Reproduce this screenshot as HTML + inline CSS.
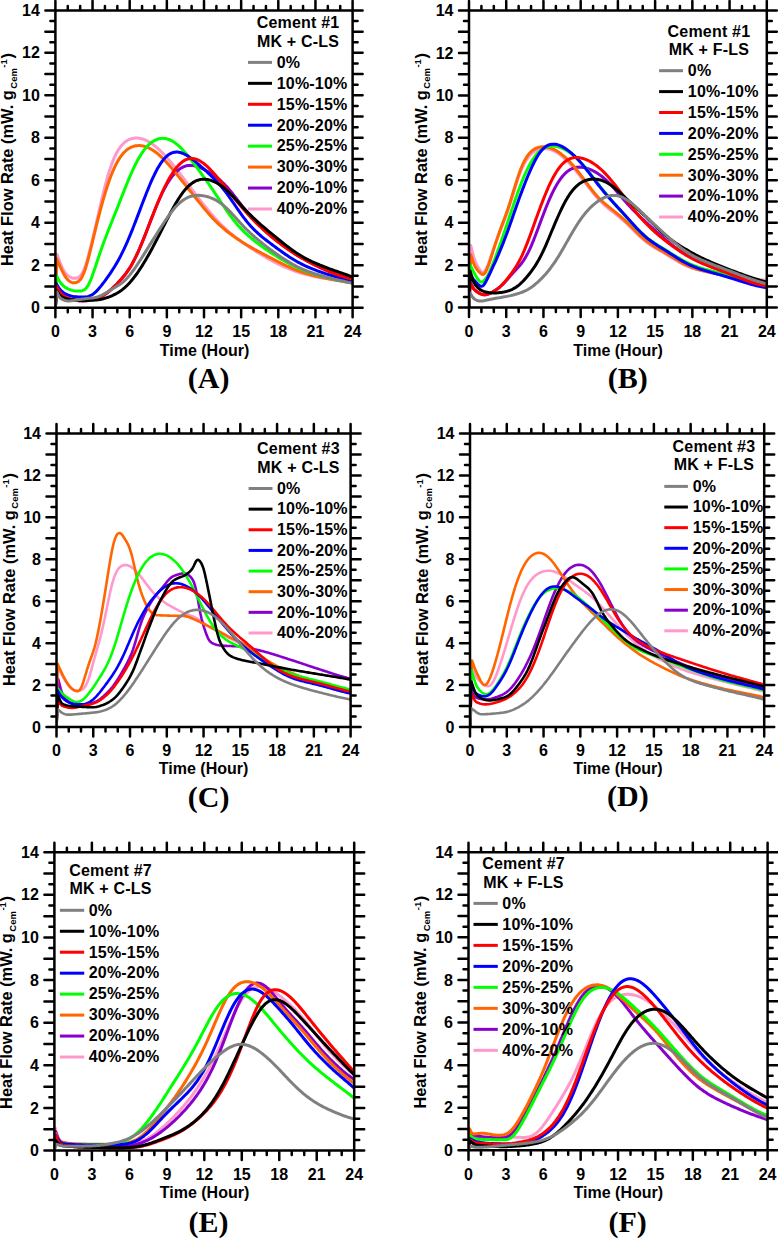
<!DOCTYPE html>
<html><head><meta charset="utf-8"><style>
html,body{margin:0;padding:0;background:#fff;}
svg{display:block;}
text{font-family:"Liberation Sans",sans-serif;font-weight:bold;fill:#000;}
.tl{font-size:16px;}
.at{font-size:16px;}
.yt{font-size:16.4px;}
.lg{font-size:16px;letter-spacing:0.2px;}
.pl{font-family:"Liberation Serif",serif;font-size:30px;}
</style></head><body>
<svg width="778" height="1241" viewBox="0 0 778 1241">
<rect width="778" height="1241" fill="#fff"/>
<clipPath id="cA"><rect x="55.4" y="10.4" width="297.2" height="297.3"/></clipPath>
<g clip-path="url(#cA)" fill="none" stroke-width="3" stroke-linejoin="round" stroke-linecap="round">
<path stroke="#ff99cc" d="M55.4,307.7 L57.13,254.61 L58.37,257.96 L59.61,261.44 L60.85,264.72 L62.09,267.48 L63.33,269.82 L64.56,271.86 L65.8,273.54 L67.04,274.84 L68.28,275.88 L69.52,276.73 L70.76,277.42 L71.99,277.92 L73.23,278.23 L74.47,278.34 L75.71,278.26 L76.95,278 L78.19,277.5 L79.42,276.68 L80.66,275.44 L81.9,273.69 L83.14,271.36 L84.38,268.47 L85.62,265.03 L86.85,261.12 L88.09,256.81 L89.33,252.19 L90.57,247.32 L91.81,242.27 L93.05,237.08 L94.28,231.79 L95.52,226.42 L96.76,221 L98,215.57 L99.24,210.15 L100.48,204.79 L101.71,199.51 L102.95,194.37 L104.19,189.39 L105.43,184.61 L106.67,180.05 L107.91,175.74 L109.14,171.68 L110.38,167.89 L111.62,164.38 L112.86,161.14 L114.1,158.18 L115.34,155.47 L116.57,153.02 L117.81,150.81 L119.05,148.84 L120.29,147.08 L121.53,145.52 L122.77,144.16 L124,142.96 L125.24,141.93 L126.48,141.04 L127.72,140.28 L128.96,139.65 L130.2,139.14 L131.43,138.72 L132.67,138.41 L133.91,138.2 L135.15,138.07 L136.39,138.03 L137.63,138.07 L138.86,138.19 L140.1,138.39 L141.34,138.66 L142.58,139.01 L143.82,139.43 L145.06,139.92 L146.29,140.48 L147.53,141.1 L148.77,141.78 L150.01,142.52 L151.25,143.32 L152.49,144.17 L153.72,145.08 L154.96,146.05 L156.2,147.06 L157.44,148.12 L158.68,149.23 L159.92,150.39 L161.15,151.59 L162.39,152.82 L163.63,154.1 L164.87,155.42 L166.11,156.77 L167.35,158.15 L168.58,159.57 L169.82,161.02 L171.06,162.5 L172.3,164 L173.54,165.53 L174.78,167.08 L176.01,168.65 L177.25,170.24 L178.49,171.84 L179.73,173.46 L180.97,175.08 L182.21,176.71 L183.44,178.34 L184.68,179.98 L185.92,181.62 L187.16,183.25 L188.4,184.89 L189.64,186.52 L190.87,188.15 L192.11,189.78 L193.35,191.4 L194.59,193.02 L195.83,194.63 L197.07,196.24 L198.3,197.84 L199.54,199.44 L200.78,201.02 L202.02,202.6 L203.26,204.16 L204.5,205.71 L205.73,207.25 L206.97,208.77 L208.21,210.27 L209.45,211.76 L210.69,213.22 L211.93,214.66 L213.16,216.07 L214.4,217.46 L215.64,218.82 L216.88,220.16 L218.12,221.47 L219.36,222.75 L220.59,224.01 L221.83,225.24 L223.07,226.44 L224.31,227.62 L225.55,228.77 L226.79,229.9 L228.02,231 L229.26,232.08 L230.5,233.14 L231.74,234.18 L232.98,235.2 L234.22,236.19 L235.45,237.17 L236.69,238.13 L237.93,239.07 L239.17,240 L240.41,240.9 L241.65,241.8 L242.88,242.67 L244.12,243.54 L245.36,244.39 L246.6,245.23 L247.84,246.06 L249.08,246.87 L250.31,247.68 L251.55,248.49 L252.79,249.28 L254.03,250.07 L255.27,250.86 L256.51,251.63 L257.74,252.41 L258.98,253.18 L260.22,253.94 L261.46,254.7 L262.7,255.45 L263.94,256.2 L265.17,256.93 L266.41,257.66 L267.65,258.38 L268.89,259.09 L270.13,259.79 L271.37,260.48 L272.6,261.15 L273.84,261.81 L275.08,262.46 L276.32,263.1 L277.56,263.72 L278.8,264.33 L280.03,264.93 L281.27,265.51 L282.51,266.08 L283.75,266.64 L284.99,267.18 L286.23,267.71 L287.46,268.23 L288.7,268.73 L289.94,269.22 L291.18,269.7 L292.42,270.17 L293.66,270.62 L294.89,271.07 L296.13,271.49 L297.37,271.91 L298.61,272.31 L299.85,272.7 L301.09,273.08 L302.32,273.45 L303.56,273.8 L304.8,274.14 L306.04,274.47 L307.28,274.79 L308.52,275.1 L309.75,275.4 L310.99,275.69 L312.23,275.97 L313.47,276.25 L314.71,276.51 L315.95,276.77 L317.18,277.02 L318.42,277.26 L319.66,277.5 L320.9,277.74 L322.14,277.96 L323.38,278.19 L324.61,278.41 L325.85,278.62 L327.09,278.84 L328.33,279.05 L329.57,279.26 L330.81,279.46 L332.04,279.67 L333.28,279.87 L334.52,280.07 L335.76,280.27 L337,280.47 L338.24,280.67 L339.47,280.87 L340.71,281.07 L341.95,281.27 L343.19,281.47 L344.43,281.68 L345.67,281.88 L346.9,282.09 L348.14,282.3 L349.38,282.51 L350.62,282.72 L351.86,282.94 L352.48,283.05"/>
<path stroke="#8800cc" d="M55.4,307.7 L56.64,286.46 L57.88,288.77 L59.11,291.04 L60.35,292.75 L61.59,294.04 L62.83,295.16 L64.07,296.14 L65.31,296.94 L66.55,297.56 L67.78,298.07 L69.02,298.49 L70.26,298.87 L71.5,299.22 L72.74,299.53 L73.97,299.82 L75.21,300.08 L76.45,300.31 L77.69,300.51 L78.93,300.66 L80.17,300.78 L81.41,300.85 L82.64,300.88 L83.88,300.86 L85.12,300.79 L86.36,300.68 L87.6,300.53 L88.84,300.35 L90.07,300.14 L91.31,299.9 L92.55,299.63 L93.79,299.32 L95.03,298.98 L96.26,298.6 L97.5,298.17 L98.74,297.68 L99.98,297.14 L101.22,296.54 L102.46,295.88 L103.69,295.14 L104.93,294.34 L106.17,293.48 L107.41,292.55 L108.65,291.56 L109.89,290.52 L111.12,289.42 L112.36,288.29 L113.6,287.12 L114.84,285.92 L116.08,284.69 L117.32,283.43 L118.55,282.14 L119.79,280.81 L121.03,279.45 L122.27,278.03 L123.51,276.55 L124.75,275.01 L125.98,273.38 L127.22,271.67 L128.46,269.86 L129.7,267.94 L130.94,265.91 L132.18,263.76 L133.41,261.5 L134.65,259.11 L135.89,256.61 L137.13,253.99 L138.37,251.26 L139.61,248.44 L140.84,245.51 L142.08,242.52 L143.32,239.45 L144.56,236.35 L145.8,233.19 L147.04,230 L148.27,226.79 L149.51,223.56 L150.75,220.34 L151.99,217.13 L153.23,213.95 L154.47,210.82 L155.7,207.75 L156.94,204.75 L158.18,201.83 L159.42,199 L160.66,196.27 L161.9,193.64 L163.13,191.13 L164.37,188.73 L165.61,186.46 L166.85,184.3 L168.09,182.27 L169.33,180.35 L170.56,178.56 L171.8,176.89 L173.04,175.34 L174.28,173.91 L175.52,172.59 L176.76,171.39 L177.99,170.3 L179.23,169.33 L180.47,168.46 L181.71,167.71 L182.95,167.07 L184.19,166.53 L185.43,166.1 L186.66,165.77 L187.9,165.54 L189.14,165.41 L190.38,165.37 L191.62,165.41 L192.85,165.54 L194.09,165.74 L195.33,166.02 L196.57,166.35 L197.81,166.75 L199.05,167.2 L200.28,167.7 L201.52,168.23 L202.76,168.81 L204,169.42 L205.24,170.07 L206.48,170.74 L207.71,171.44 L208.95,172.16 L210.19,172.92 L211.43,173.7 L212.67,174.52 L213.91,175.37 L215.14,176.25 L216.38,177.17 L217.62,178.14 L218.86,179.15 L220.1,180.2 L221.34,181.31 L222.57,182.47 L223.81,183.68 L225.05,184.94 L226.29,186.25 L227.53,187.61 L228.77,189.03 L230,190.48 L231.24,191.98 L232.48,193.51 L233.72,195.07 L234.96,196.66 L236.2,198.26 L237.43,199.88 L238.67,201.49 L239.91,203.11 L241.15,204.71 L242.39,206.31 L243.63,207.88 L244.86,209.44 L246.1,210.97 L247.34,212.47 L248.58,213.94 L249.82,215.38 L251.06,216.79 L252.29,218.17 L253.53,219.52 L254.77,220.83 L256.01,222.12 L257.25,223.38 L258.49,224.62 L259.72,225.83 L260.96,227.01 L262.2,228.18 L263.44,229.32 L264.68,230.45 L265.92,231.56 L267.15,232.65 L268.39,233.73 L269.63,234.79 L270.87,235.83 L272.11,236.87 L273.35,237.89 L274.58,238.9 L275.82,239.9 L277.06,240.88 L278.3,241.85 L279.54,242.81 L280.78,243.76 L282.01,244.7 L283.25,245.62 L284.49,246.54 L285.73,247.44 L286.97,248.32 L288.21,249.19 L289.44,250.05 L290.68,250.9 L291.92,251.73 L293.16,252.55 L294.4,253.35 L295.64,254.14 L296.88,254.91 L298.11,255.68 L299.35,256.42 L300.59,257.16 L301.83,257.88 L303.07,258.59 L304.31,259.29 L305.54,259.97 L306.78,260.65 L308.02,261.31 L309.26,261.97 L310.5,262.62 L311.73,263.26 L312.97,263.89 L314.21,264.52 L315.45,265.14 L316.69,265.74 L317.93,266.35 L319.16,266.94 L320.4,267.53 L321.64,268.11 L322.88,268.68 L324.12,269.25 L325.36,269.81 L326.59,270.36 L327.83,270.91 L329.07,271.44 L330.31,271.97 L331.55,272.48 L332.79,272.98 L334.02,273.47 L335.26,273.95 L336.5,274.42 L337.74,274.87 L338.98,275.3 L340.22,275.73 L341.45,276.14 L342.69,276.53 L343.93,276.91 L345.17,277.27 L346.41,277.61 L347.65,277.94 L348.88,278.25 L350.12,278.55 L351.36,278.82 L352.6,279.03"/>
<path stroke="#ff6600" d="M55.4,307.7 L56.64,258.86 L57.88,261.6 L59.11,264.4 L60.35,267.15 L61.59,269.72 L62.83,272.15 L64.07,274.52 L65.31,276.64 L66.55,278.37 L67.78,279.76 L69.02,280.87 L70.26,281.73 L71.5,282.34 L72.74,282.71 L73.97,282.86 L75.21,282.79 L76.45,282.5 L77.69,281.95 L78.93,281.07 L80.17,279.8 L81.41,278.04 L82.64,275.75 L83.88,272.88 L85.12,269.47 L86.36,265.55 L87.6,261.19 L88.84,256.5 L90.07,251.57 L91.31,246.5 L92.55,241.37 L93.79,236.23 L95.03,231.14 L96.26,226.11 L97.5,221.16 L98.74,216.31 L99.98,211.57 L101.22,206.95 L102.46,202.45 L103.69,198.1 L104.93,193.9 L106.17,189.87 L107.41,186 L108.65,182.33 L109.89,178.85 L111.12,175.55 L112.36,172.45 L113.6,169.55 L114.84,166.84 L116.08,164.31 L117.32,161.98 L118.55,159.84 L119.79,157.87 L121.03,156.09 L122.27,154.48 L123.51,153.03 L124.75,151.74 L125.98,150.6 L127.22,149.6 L128.46,148.73 L129.7,147.98 L130.94,147.35 L132.18,146.83 L133.41,146.4 L134.65,146.07 L135.89,145.83 L137.13,145.67 L138.37,145.6 L139.61,145.61 L140.84,145.69 L142.08,145.85 L143.32,146.08 L144.56,146.39 L145.8,146.77 L147.04,147.22 L148.27,147.74 L149.51,148.32 L150.75,148.97 L151.99,149.69 L153.23,150.46 L154.47,151.3 L155.7,152.21 L156.94,153.17 L158.18,154.18 L159.42,155.26 L160.66,156.38 L161.9,157.55 L163.13,158.77 L164.37,160.04 L165.61,161.34 L166.85,162.68 L168.09,164.06 L169.33,165.46 L170.56,166.9 L171.8,168.35 L173.04,169.83 L174.28,171.33 L175.52,172.83 L176.76,174.36 L177.99,175.89 L179.23,177.42 L180.47,178.96 L181.71,180.51 L182.95,182.05 L184.19,183.6 L185.43,185.14 L186.66,186.68 L187.9,188.23 L189.14,189.77 L190.38,191.31 L191.62,192.85 L192.85,194.4 L194.09,195.94 L195.33,197.48 L196.57,199.03 L197.81,200.57 L199.05,202.11 L200.28,203.64 L201.52,205.17 L202.76,206.69 L204,208.19 L205.24,209.68 L206.48,211.15 L207.71,212.6 L208.95,214.02 L210.19,215.42 L211.43,216.78 L212.67,218.12 L213.91,219.42 L215.14,220.69 L216.38,221.93 L217.62,223.13 L218.86,224.3 L220.1,225.45 L221.34,226.56 L222.57,227.64 L223.81,228.7 L225.05,229.73 L226.29,230.74 L227.53,231.73 L228.77,232.69 L230,233.64 L231.24,234.57 L232.48,235.48 L233.72,236.38 L234.96,237.26 L236.2,238.12 L237.43,238.97 L238.67,239.8 L239.91,240.62 L241.15,241.42 L242.39,242.21 L243.63,242.98 L244.86,243.75 L246.1,244.49 L247.34,245.23 L248.58,245.96 L249.82,246.67 L251.06,247.38 L252.29,248.08 L253.53,248.77 L254.77,249.45 L256.01,250.13 L257.25,250.81 L258.49,251.48 L259.72,252.14 L260.96,252.8 L262.2,253.47 L263.44,254.12 L264.68,254.78 L265.92,255.43 L267.15,256.09 L268.39,256.74 L269.63,257.38 L270.87,258.03 L272.11,258.67 L273.35,259.31 L274.58,259.95 L275.82,260.59 L277.06,261.22 L278.3,261.84 L279.54,262.46 L280.78,263.08 L282.01,263.69 L283.25,264.3 L284.49,264.89 L285.73,265.48 L286.97,266.06 L288.21,266.63 L289.44,267.19 L290.68,267.74 L291.92,268.28 L293.16,268.81 L294.4,269.32 L295.64,269.82 L296.88,270.3 L298.11,270.77 L299.35,271.22 L300.59,271.66 L301.83,272.09 L303.07,272.5 L304.31,272.9 L305.54,273.28 L306.78,273.65 L308.02,274.01 L309.26,274.36 L310.5,274.69 L311.73,275.02 L312.97,275.33 L314.21,275.64 L315.45,275.93 L316.69,276.22 L317.93,276.51 L319.16,276.78 L320.4,277.05 L321.64,277.31 L322.88,277.57 L324.12,277.82 L325.36,278.07 L326.59,278.32 L327.83,278.56 L329.07,278.8 L330.31,279.04 L331.55,279.27 L332.79,279.51 L334.02,279.74 L335.26,279.96 L336.5,280.19 L337.74,280.41 L338.98,280.64 L340.22,280.86 L341.45,281.08 L342.69,281.3 L343.93,281.52 L345.17,281.74 L346.41,281.96 L347.65,282.18 L348.88,282.41 L350.12,282.63 L351.36,282.85 L352.6,283.07"/>
<path stroke="#00ff00" d="M55.4,307.7 L56.27,275.21 L57.51,277.63 L58.74,280.07 L59.98,282.08 L61.22,283.61 L62.46,284.95 L63.7,286.13 L64.94,287.13 L66.17,287.93 L67.41,288.58 L68.65,289.12 L69.89,289.59 L71.13,290.01 L72.37,290.37 L73.6,290.67 L74.84,290.9 L76.08,291.05 L77.32,291.12 L78.56,291.11 L79.8,291.06 L81.03,290.92 L82.27,290.66 L83.51,290.21 L84.75,289.47 L85.99,288.36 L87.23,286.79 L88.46,284.76 L89.7,282.27 L90.94,279.35 L92.18,276.11 L93.42,272.61 L94.66,268.97 L95.89,265.24 L97.13,261.49 L98.37,257.77 L99.61,254.12 L100.85,250.52 L102.09,247.02 L103.32,243.59 L104.56,240.25 L105.8,236.96 L107.04,233.74 L108.28,230.56 L109.52,227.42 L110.75,224.31 L111.99,221.21 L113.23,218.12 L114.47,215.03 L115.71,211.93 L116.95,208.82 L118.18,205.69 L119.42,202.55 L120.66,199.41 L121.9,196.25 L123.14,193.11 L124.38,189.97 L125.61,186.87 L126.85,183.8 L128.09,180.78 L129.33,177.82 L130.57,174.93 L131.81,172.12 L133.04,169.41 L134.28,166.79 L135.52,164.28 L136.76,161.87 L138,159.59 L139.24,157.41 L140.47,155.36 L141.71,153.44 L142.95,151.63 L144.19,149.93 L145.43,148.35 L146.67,146.89 L147.9,145.56 L149.14,144.35 L150.38,143.26 L151.62,142.28 L152.86,141.42 L154.1,140.68 L155.33,140.04 L156.57,139.5 L157.81,139.07 L159.05,138.74 L160.29,138.51 L161.53,138.37 L162.76,138.33 L164,138.38 L165.24,138.53 L166.48,138.76 L167.72,139.09 L168.96,139.5 L170.19,140.01 L171.43,140.6 L172.67,141.29 L173.91,142.06 L175.15,142.92 L176.39,143.86 L177.62,144.88 L178.86,145.98 L180.1,147.15 L181.34,148.39 L182.58,149.69 L183.82,151.05 L185.05,152.47 L186.29,153.93 L187.53,155.43 L188.77,156.97 L190.01,158.53 L191.25,160.12 L192.48,161.73 L193.72,163.36 L194.96,165 L196.2,166.65 L197.44,168.32 L198.68,169.99 L199.91,171.67 L201.15,173.35 L202.39,175.05 L203.63,176.77 L204.87,178.49 L206.11,180.23 L207.34,181.98 L208.58,183.75 L209.82,185.54 L211.06,187.34 L212.3,189.16 L213.54,191 L214.77,192.85 L216.01,194.71 L217.25,196.58 L218.49,198.45 L219.73,200.32 L220.97,202.19 L222.2,204.05 L223.44,205.9 L224.68,207.73 L225.92,209.54 L227.16,211.32 L228.4,213.07 L229.63,214.79 L230.87,216.47 L232.11,218.11 L233.35,219.71 L234.59,221.26 L235.83,222.77 L237.06,224.24 L238.3,225.66 L239.54,227.03 L240.78,228.36 L242.02,229.65 L243.26,230.9 L244.49,232.12 L245.73,233.29 L246.97,234.44 L248.21,235.55 L249.45,236.64 L250.69,237.7 L251.92,238.74 L253.16,239.75 L254.4,240.75 L255.64,241.73 L256.88,242.69 L258.12,243.63 L259.35,244.56 L260.59,245.48 L261.83,246.38 L263.07,247.28 L264.31,248.15 L265.55,249.02 L266.78,249.88 L268.02,250.72 L269.26,251.56 L270.5,252.38 L271.74,253.19 L272.98,254 L274.21,254.79 L275.45,255.57 L276.69,256.35 L277.93,257.11 L279.17,257.86 L280.41,258.61 L281.64,259.34 L282.88,260.07 L284.12,260.79 L285.36,261.49 L286.6,262.18 L287.84,262.86 L289.07,263.53 L290.31,264.19 L291.55,264.83 L292.79,265.46 L294.03,266.07 L295.27,266.67 L296.5,267.25 L297.74,267.81 L298.98,268.36 L300.22,268.9 L301.46,269.42 L302.7,269.92 L303.93,270.41 L305.17,270.88 L306.41,271.34 L307.65,271.78 L308.89,272.22 L310.13,272.64 L311.36,273.05 L312.6,273.45 L313.84,273.83 L315.08,274.21 L316.32,274.58 L317.56,274.95 L318.79,275.3 L320.03,275.65 L321.27,275.99 L322.51,276.32 L323.75,276.65 L324.99,276.97 L326.22,277.29 L327.46,277.61 L328.7,277.92 L329.94,278.23 L331.18,278.53 L332.42,278.82 L333.65,279.11 L334.89,279.4 L336.13,279.68 L337.37,279.96 L338.61,280.23 L339.85,280.5 L341.08,280.77 L342.32,281.03 L343.56,281.29 L344.8,281.55 L346.04,281.8 L347.28,282.05 L348.51,282.3 L349.75,282.54 L350.99,282.78 L352.23,283 L352.54,283.06"/>
<path stroke="#0000ff" d="M55.4,307.7 L56.14,283.49 L57.38,285.49 L58.62,287.52 L59.86,289.22 L61.1,290.51 L62.33,291.63 L63.57,292.62 L64.81,293.46 L66.05,294.14 L67.29,294.69 L68.53,295.15 L69.76,295.55 L71,295.89 L72.24,296.19 L73.48,296.42 L74.72,296.61 L75.96,296.74 L77.19,296.84 L78.43,296.91 L79.67,296.96 L80.91,296.99 L82.15,297.02 L83.39,297.01 L84.62,296.96 L85.86,296.86 L87.1,296.67 L88.34,296.39 L89.58,295.99 L90.82,295.45 L92.05,294.77 L93.29,293.94 L94.53,292.96 L95.77,291.85 L97.01,290.61 L98.25,289.27 L99.48,287.84 L100.72,286.35 L101.96,284.79 L103.2,283.18 L104.44,281.54 L105.68,279.86 L106.91,278.15 L108.15,276.4 L109.39,274.62 L110.63,272.79 L111.87,270.92 L113.11,269 L114.34,267.02 L115.58,264.98 L116.82,262.87 L118.06,260.68 L119.3,258.42 L120.54,256.08 L121.77,253.65 L123.01,251.14 L124.25,248.54 L125.49,245.86 L126.73,243.1 L127.97,240.26 L129.2,237.35 L130.44,234.36 L131.68,231.32 L132.92,228.22 L134.16,225.07 L135.4,221.87 L136.63,218.64 L137.87,215.39 L139.11,212.12 L140.35,208.85 L141.59,205.59 L142.83,202.34 L144.06,199.12 L145.3,195.94 L146.54,192.8 L147.78,189.72 L149.02,186.7 L150.26,183.76 L151.49,180.91 L152.73,178.16 L153.97,175.52 L155.21,172.99 L156.45,170.58 L157.69,168.31 L158.92,166.18 L160.16,164.19 L161.4,162.35 L162.64,160.67 L163.88,159.13 L165.12,157.76 L166.35,156.53 L167.59,155.47 L168.83,154.55 L170.07,153.79 L171.31,153.17 L172.55,152.69 L173.78,152.35 L175.02,152.14 L176.26,152.05 L177.5,152.08 L178.74,152.22 L179.98,152.47 L181.21,152.81 L182.45,153.24 L183.69,153.76 L184.93,154.36 L186.17,155.02 L187.41,155.76 L188.64,156.55 L189.88,157.39 L191.12,158.29 L192.36,159.22 L193.6,160.19 L194.84,161.19 L196.07,162.22 L197.31,163.27 L198.55,164.33 L199.79,165.42 L201.03,166.51 L202.27,167.62 L203.5,168.73 L204.74,169.86 L205.98,170.99 L207.22,172.13 L208.46,173.28 L209.7,174.45 L210.93,175.63 L212.17,176.83 L213.41,178.05 L214.65,179.29 L215.89,180.57 L217.13,181.88 L218.36,183.23 L219.6,184.62 L220.84,186.04 L222.08,187.52 L223.32,189.04 L224.56,190.6 L225.79,192.21 L227.03,193.85 L228.27,195.54 L229.51,197.27 L230.75,199.02 L231.99,200.8 L233.22,202.6 L234.46,204.41 L235.7,206.23 L236.94,208.04 L238.18,209.84 L239.42,211.62 L240.65,213.38 L241.89,215.1 L243.13,216.79 L244.37,218.44 L245.61,220.04 L246.85,221.59 L248.08,223.09 L249.32,224.54 L250.56,225.93 L251.8,227.28 L253.04,228.58 L254.28,229.83 L255.51,231.04 L256.75,232.21 L257.99,233.34 L259.23,234.43 L260.47,235.5 L261.71,236.54 L262.94,237.56 L264.18,238.56 L265.42,239.54 L266.66,240.51 L267.9,241.47 L269.14,242.41 L270.37,243.35 L271.61,244.29 L272.85,245.21 L274.09,246.13 L275.33,247.05 L276.57,247.96 L277.8,248.86 L279.04,249.76 L280.28,250.66 L281.52,251.54 L282.76,252.42 L284,253.29 L285.23,254.15 L286.47,255 L287.71,255.83 L288.95,256.66 L290.19,257.46 L291.43,258.25 L292.66,259.03 L293.9,259.79 L295.14,260.53 L296.38,261.25 L297.62,261.95 L298.86,262.63 L300.09,263.29 L301.33,263.94 L302.57,264.56 L303.81,265.17 L305.05,265.76 L306.29,266.33 L307.52,266.88 L308.76,267.42 L310,267.95 L311.24,268.46 L312.48,268.96 L313.72,269.45 L314.95,269.93 L316.19,270.4 L317.43,270.85 L318.67,271.3 L319.91,271.74 L321.15,272.17 L322.38,272.59 L323.62,273.01 L324.86,273.42 L326.1,273.83 L327.34,274.22 L328.58,274.62 L329.81,275 L331.05,275.38 L332.29,275.75 L333.53,276.12 L334.77,276.47 L336.01,276.82 L337.24,277.16 L338.48,277.5 L339.72,277.82 L340.96,278.14 L342.2,278.45 L343.44,278.75 L344.67,279.05 L345.91,279.34 L347.15,279.62 L348.39,279.89 L349.63,280.16 L350.87,280.42 L352.1,280.65 L352.41,280.7"/>
<path stroke="#ff0000" d="M55.4,307.7 L56.64,286.46 L57.88,288.77 L59.11,291.04 L60.35,292.75 L61.59,294.04 L62.83,295.16 L64.07,296.14 L65.31,296.94 L66.55,297.56 L67.78,298.07 L69.02,298.49 L70.26,298.87 L71.5,299.22 L72.74,299.53 L73.97,299.82 L75.21,300.08 L76.45,300.31 L77.69,300.51 L78.93,300.66 L80.17,300.78 L81.41,300.85 L82.64,300.88 L83.88,300.86 L85.12,300.79 L86.36,300.68 L87.6,300.53 L88.84,300.35 L90.07,300.14 L91.31,299.9 L92.55,299.63 L93.79,299.32 L95.03,298.98 L96.26,298.6 L97.5,298.17 L98.74,297.68 L99.98,297.14 L101.22,296.54 L102.46,295.88 L103.69,295.14 L104.93,294.34 L106.17,293.48 L107.41,292.55 L108.65,291.56 L109.89,290.52 L111.12,289.42 L112.36,288.29 L113.6,287.12 L114.84,285.92 L116.08,284.69 L117.32,283.43 L118.55,282.14 L119.79,280.81 L121.03,279.45 L122.27,278.03 L123.51,276.55 L124.75,275 L125.98,273.38 L127.22,271.66 L128.46,269.85 L129.7,267.93 L130.94,265.91 L132.18,263.76 L133.41,261.5 L134.65,259.11 L135.89,256.62 L137.13,254.01 L138.37,251.3 L139.61,248.49 L140.84,245.59 L142.08,242.62 L143.32,239.58 L144.56,236.51 L145.8,233.38 L147.04,230.21 L148.27,227.01 L149.51,223.79 L150.75,220.57 L151.99,217.36 L153.23,214.17 L154.47,211 L155.7,207.88 L156.94,204.81 L158.18,201.8 L159.42,198.85 L160.66,195.98 L161.9,193.18 L163.13,190.47 L164.37,187.86 L165.61,185.33 L166.85,182.9 L168.09,180.57 L169.33,178.34 L170.56,176.22 L171.8,174.21 L173.04,172.31 L174.28,170.52 L175.52,168.84 L176.76,167.29 L177.99,165.86 L179.23,164.55 L180.47,163.37 L181.71,162.32 L182.95,161.39 L184.19,160.59 L185.43,159.92 L186.66,159.38 L187.9,158.97 L189.14,158.68 L190.38,158.51 L191.62,158.46 L192.85,158.53 L194.09,158.7 L195.33,158.99 L196.57,159.38 L197.81,159.88 L199.05,160.47 L200.28,161.15 L201.52,161.93 L202.76,162.78 L204,163.72 L205.24,164.72 L206.48,165.8 L207.71,166.94 L208.95,168.14 L210.19,169.39 L211.43,170.69 L212.67,172.03 L213.91,173.4 L215.14,174.81 L216.38,176.25 L217.62,177.71 L218.86,179.19 L220.1,180.69 L221.34,182.2 L222.57,183.73 L223.81,185.26 L225.05,186.79 L226.29,188.33 L227.53,189.88 L228.77,191.42 L230,192.96 L231.24,194.5 L232.48,196.03 L233.72,197.56 L234.96,199.09 L236.2,200.6 L237.43,202.1 L238.67,203.6 L239.91,205.08 L241.15,206.54 L242.39,207.99 L243.63,209.43 L244.86,210.84 L246.1,212.24 L247.34,213.62 L248.58,214.98 L249.82,216.32 L251.06,217.64 L252.29,218.94 L253.53,220.22 L254.77,221.48 L256.01,222.72 L257.25,223.94 L258.49,225.14 L259.72,226.32 L260.96,227.49 L262.2,228.64 L263.44,229.77 L264.68,230.88 L265.92,231.98 L267.15,233.06 L268.39,234.13 L269.63,235.19 L270.87,236.23 L272.11,237.26 L273.35,238.27 L274.58,239.27 L275.82,240.26 L277.06,241.24 L278.3,242.2 L279.54,243.16 L280.78,244.1 L282.01,245.03 L283.25,245.94 L284.49,246.85 L285.73,247.74 L286.97,248.62 L288.21,249.48 L289.44,250.34 L290.68,251.18 L291.92,252 L293.16,252.81 L294.4,253.61 L295.64,254.39 L296.88,255.16 L298.11,255.92 L299.35,256.66 L300.59,257.39 L301.83,258.1 L303.07,258.81 L304.31,259.5 L305.54,260.18 L306.78,260.85 L308.02,261.51 L309.26,262.16 L310.5,262.8 L311.73,263.43 L312.97,264.06 L314.21,264.67 L315.45,265.29 L316.69,265.89 L317.93,266.48 L319.16,267.07 L320.4,267.65 L321.64,268.22 L322.88,268.79 L324.12,269.35 L325.36,269.9 L326.59,270.45 L327.83,270.99 L329.07,271.51 L330.31,272.03 L331.55,272.54 L332.79,273.04 L334.02,273.52 L335.26,273.99 L336.5,274.45 L337.74,274.9 L338.98,275.33 L340.22,275.75 L341.45,276.15 L342.69,276.54 L343.93,276.92 L345.17,277.28 L346.41,277.62 L347.65,277.95 L348.88,278.26 L350.12,278.55 L351.36,278.82 L352.6,279.03"/>
<path stroke="#000000" d="M55.4,307.7 L56.64,290.71 L57.88,292.67 L59.11,294.59 L60.35,295.89 L61.59,296.74 L62.83,297.43 L64.07,298 L65.31,298.46 L66.55,298.8 L67.78,299.07 L69.02,299.29 L70.26,299.48 L71.5,299.66 L72.74,299.82 L73.97,299.96 L75.21,300.08 L76.45,300.19 L77.69,300.28 L78.93,300.36 L80.17,300.41 L81.41,300.45 L82.64,300.47 L83.88,300.48 L85.12,300.47 L86.36,300.45 L87.6,300.43 L88.84,300.4 L90.07,300.36 L91.31,300.32 L92.55,300.27 L93.79,300.2 L95.03,300.12 L96.26,300.02 L97.5,299.88 L98.74,299.71 L99.98,299.51 L101.22,299.26 L102.46,298.98 L103.69,298.66 L104.93,298.31 L106.17,297.92 L107.41,297.5 L108.65,297.05 L109.89,296.58 L111.12,296.07 L112.36,295.54 L113.6,294.97 L114.84,294.36 L116.08,293.72 L117.32,293.02 L118.55,292.28 L119.79,291.48 L121.03,290.62 L122.27,289.69 L123.51,288.7 L124.75,287.64 L125.98,286.51 L127.22,285.32 L128.46,284.05 L129.7,282.71 L130.94,281.3 L132.18,279.82 L133.41,278.29 L134.65,276.68 L135.89,275.02 L137.13,273.29 L138.37,271.51 L139.61,269.67 L140.84,267.77 L142.08,265.83 L143.32,263.83 L144.56,261.79 L145.8,259.71 L147.04,257.58 L148.27,255.41 L149.51,253.21 L150.75,250.96 L151.99,248.69 L153.23,246.38 L154.47,244.04 L155.7,241.68 L156.94,239.3 L158.18,236.9 L159.42,234.48 L160.66,232.05 L161.9,229.61 L163.13,227.17 L164.37,224.73 L165.61,222.3 L166.85,219.88 L168.09,217.48 L169.33,215.1 L170.56,212.75 L171.8,210.44 L173.04,208.17 L174.28,205.95 L175.52,203.79 L176.76,201.7 L177.99,199.67 L179.23,197.73 L180.47,195.86 L181.71,194.09 L182.95,192.41 L184.19,190.82 L185.43,189.34 L186.66,187.96 L187.9,186.68 L189.14,185.51 L190.38,184.45 L191.62,183.49 L192.85,182.64 L194.09,181.88 L195.33,181.23 L196.57,180.67 L197.81,180.21 L199.05,179.84 L200.28,179.56 L201.52,179.37 L202.76,179.26 L204,179.23 L205.24,179.27 L206.48,179.39 L207.71,179.59 L208.95,179.85 L210.19,180.17 L211.43,180.57 L212.67,181.03 L213.91,181.54 L215.14,182.12 L216.38,182.76 L217.62,183.46 L218.86,184.21 L220.1,185.02 L221.34,185.89 L222.57,186.81 L223.81,187.78 L225.05,188.81 L226.29,189.88 L227.53,191.01 L228.77,192.17 L230,193.37 L231.24,194.62 L232.48,195.89 L233.72,197.19 L234.96,198.51 L236.2,199.86 L237.43,201.21 L238.67,202.57 L239.91,203.93 L241.15,205.29 L242.39,206.64 L243.63,207.98 L244.86,209.31 L246.1,210.62 L247.34,211.91 L248.58,213.18 L249.82,214.43 L251.06,215.66 L252.29,216.86 L253.53,218.05 L254.77,219.21 L256.01,220.35 L257.25,221.48 L258.49,222.59 L259.72,223.69 L260.96,224.77 L262.2,225.84 L263.44,226.9 L264.68,227.96 L265.92,229 L267.15,230.04 L268.39,231.08 L269.63,232.11 L270.87,233.14 L272.11,234.16 L273.35,235.18 L274.58,236.2 L275.82,237.22 L277.06,238.23 L278.3,239.24 L279.54,240.24 L280.78,241.24 L282.01,242.23 L283.25,243.22 L284.49,244.19 L285.73,245.16 L286.97,246.11 L288.21,247.06 L289.44,247.98 L290.68,248.9 L291.92,249.79 L293.16,250.67 L294.4,251.54 L295.64,252.38 L296.88,253.2 L298.11,254 L299.35,254.78 L300.59,255.54 L301.83,256.28 L303.07,257 L304.31,257.7 L305.54,258.38 L306.78,259.04 L308.02,259.68 L309.26,260.3 L310.5,260.91 L311.73,261.5 L312.97,262.08 L314.21,262.64 L315.45,263.19 L316.69,263.72 L317.93,264.25 L319.16,264.76 L320.4,265.27 L321.64,265.76 L322.88,266.25 L324.12,266.73 L325.36,267.2 L326.59,267.67 L327.83,268.14 L329.07,268.6 L330.31,269.05 L331.55,269.5 L332.79,269.95 L334.02,270.39 L335.26,270.83 L336.5,271.27 L337.74,271.7 L338.98,272.14 L340.22,272.57 L341.45,273 L342.69,273.43 L343.93,273.86 L345.17,274.29 L346.41,274.73 L347.65,275.16 L348.88,275.6 L350.12,276.04 L351.36,276.48 L352.6,276.91"/>
<path stroke="#808080" d="M55.4,307.7 L56.64,291.77 L57.88,294.18 L59.11,296.54 L60.35,298.02 L61.59,298.89 L62.83,299.59 L64.07,300.17 L65.31,300.58 L66.55,300.81 L67.78,300.9 L69.02,300.9 L70.26,300.83 L71.5,300.72 L72.74,300.57 L73.97,300.39 L75.21,300.21 L76.45,300.01 L77.69,299.81 L78.93,299.61 L80.17,299.42 L81.41,299.23 L82.64,299.06 L83.88,298.9 L85.12,298.75 L86.36,298.61 L87.6,298.48 L88.84,298.35 L90.07,298.22 L91.31,298.08 L92.55,297.92 L93.79,297.74 L95.03,297.51 L96.26,297.23 L97.5,296.89 L98.74,296.48 L99.98,295.99 L101.22,295.44 L102.46,294.83 L103.69,294.16 L104.93,293.45 L106.17,292.71 L107.41,291.96 L108.65,291.21 L109.89,290.46 L111.12,289.72 L112.36,289 L113.6,288.28 L114.84,287.56 L116.08,286.83 L117.32,286.08 L118.55,285.29 L119.79,284.46 L121.03,283.57 L122.27,282.61 L123.51,281.57 L124.75,280.45 L125.98,279.24 L127.22,277.95 L128.46,276.57 L129.7,275.1 L130.94,273.56 L132.18,271.94 L133.41,270.26 L134.65,268.52 L135.89,266.74 L137.13,264.91 L138.37,263.04 L139.61,261.14 L140.84,259.22 L142.08,257.28 L143.32,255.33 L144.56,253.35 L145.8,251.36 L147.04,249.37 L148.27,247.38 L149.51,245.38 L150.75,243.38 L151.99,241.39 L153.23,239.4 L154.47,237.42 L155.7,235.45 L156.94,233.48 L158.18,231.52 L159.42,229.58 L160.66,227.65 L161.9,225.74 L163.13,223.84 L164.37,221.97 L165.61,220.13 L166.85,218.33 L168.09,216.56 L169.33,214.84 L170.56,213.16 L171.8,211.55 L173.04,209.99 L174.28,208.51 L175.52,207.09 L176.76,205.75 L177.99,204.49 L179.23,203.32 L180.47,202.22 L181.71,201.22 L182.95,200.29 L184.19,199.46 L185.43,198.71 L186.66,198.04 L187.9,197.46 L189.14,196.95 L190.38,196.52 L191.62,196.17 L192.85,195.88 L194.09,195.66 L195.33,195.5 L196.57,195.4 L197.81,195.36 L199.05,195.37 L200.28,195.44 L201.52,195.55 L202.76,195.7 L204,195.9 L205.24,196.15 L206.48,196.44 L207.71,196.77 L208.95,197.15 L210.19,197.57 L211.43,198.04 L212.67,198.56 L213.91,199.13 L215.14,199.75 L216.38,200.42 L217.62,201.15 L218.86,201.94 L220.1,202.78 L221.34,203.69 L222.57,204.66 L223.81,205.68 L225.05,206.76 L226.29,207.9 L227.53,209.08 L228.77,210.32 L230,211.59 L231.24,212.9 L232.48,214.23 L233.72,215.59 L234.96,216.96 L236.2,218.34 L237.43,219.72 L238.67,221.09 L239.91,222.46 L241.15,223.8 L242.39,225.13 L243.63,226.44 L244.86,227.72 L246.1,228.98 L247.34,230.2 L248.58,231.4 L249.82,232.58 L251.06,233.73 L252.29,234.86 L253.53,235.96 L254.77,237.05 L256.01,238.11 L257.25,239.16 L258.49,240.19 L259.72,241.21 L260.96,242.22 L262.2,243.21 L263.44,244.2 L264.68,245.17 L265.92,246.13 L267.15,247.08 L268.39,248.02 L269.63,248.96 L270.87,249.88 L272.11,250.79 L273.35,251.7 L274.58,252.59 L275.82,253.47 L277.06,254.34 L278.3,255.2 L279.54,256.05 L280.78,256.89 L282.01,257.71 L283.25,258.53 L284.49,259.33 L285.73,260.11 L286.97,260.89 L288.21,261.64 L289.44,262.38 L290.68,263.11 L291.92,263.82 L293.16,264.51 L294.4,265.18 L295.64,265.83 L296.88,266.47 L298.11,267.09 L299.35,267.68 L300.59,268.26 L301.83,268.82 L303.07,269.37 L304.31,269.89 L305.54,270.4 L306.78,270.89 L308.02,271.37 L309.26,271.83 L310.5,272.28 L311.73,272.71 L312.97,273.13 L314.21,273.55 L315.45,273.95 L316.69,274.34 L317.93,274.72 L319.16,275.09 L320.4,275.46 L321.64,275.82 L322.88,276.17 L324.12,276.51 L325.36,276.85 L326.59,277.19 L327.83,277.52 L329.07,277.84 L330.31,278.16 L331.55,278.48 L332.79,278.79 L334.02,279.09 L335.26,279.39 L336.5,279.68 L337.74,279.97 L338.98,280.25 L340.22,280.53 L341.45,280.8 L342.69,281.07 L343.93,281.34 L345.17,281.6 L346.41,281.86 L347.65,282.11 L348.88,282.36 L350.12,282.61 L351.36,282.85 L352.6,283.07"/>
</g>
<path d="M55.4,10.4 H352.6 V307.7 H55.4 Z M55.4,307.7 v9.5 M55.4,10.4 v-9.5 M67.78,307.7 v4.5 M67.78,10.4 v-4.5 M80.17,307.7 v4.5 M80.17,10.4 v-4.5 M92.55,307.7 v9.5 M92.55,10.4 v-9.5 M104.93,307.7 v4.5 M104.93,10.4 v-4.5 M117.32,307.7 v4.5 M117.32,10.4 v-4.5 M129.7,307.7 v9.5 M129.7,10.4 v-9.5 M142.08,307.7 v4.5 M142.08,10.4 v-4.5 M154.47,307.7 v4.5 M154.47,10.4 v-4.5 M166.85,307.7 v9.5 M166.85,10.4 v-9.5 M179.23,307.7 v4.5 M179.23,10.4 v-4.5 M191.62,307.7 v4.5 M191.62,10.4 v-4.5 M204,307.7 v9.5 M204,10.4 v-9.5 M216.38,307.7 v4.5 M216.38,10.4 v-4.5 M228.77,307.7 v4.5 M228.77,10.4 v-4.5 M241.15,307.7 v9.5 M241.15,10.4 v-9.5 M253.53,307.7 v4.5 M253.53,10.4 v-4.5 M265.92,307.7 v4.5 M265.92,10.4 v-4.5 M278.3,307.7 v9.5 M278.3,10.4 v-9.5 M290.68,307.7 v4.5 M290.68,10.4 v-4.5 M303.07,307.7 v4.5 M303.07,10.4 v-4.5 M315.45,307.7 v9.5 M315.45,10.4 v-9.5 M327.83,307.7 v4.5 M327.83,10.4 v-4.5 M340.22,307.7 v4.5 M340.22,10.4 v-4.5 M352.6,307.7 v9.5 M352.6,10.4 v-9.5 M55.4,307.7 h-10 M352.6,307.7 h10 M55.4,297.08 h-5 M352.6,297.08 h5 M55.4,286.46 h-10 M352.6,286.46 h10 M55.4,275.85 h-5 M352.6,275.85 h5 M55.4,265.23 h-10 M352.6,265.23 h10 M55.4,254.61 h-5 M352.6,254.61 h5 M55.4,243.99 h-10 M352.6,243.99 h10 M55.4,233.38 h-5 M352.6,233.38 h5 M55.4,222.76 h-10 M352.6,222.76 h10 M55.4,212.14 h-5 M352.6,212.14 h5 M55.4,201.52 h-10 M352.6,201.52 h10 M55.4,190.9 h-5 M352.6,190.9 h5 M55.4,180.29 h-10 M352.6,180.29 h10 M55.4,169.67 h-5 M352.6,169.67 h5 M55.4,159.05 h-10 M352.6,159.05 h10 M55.4,148.43 h-5 M352.6,148.43 h5 M55.4,137.81 h-10 M352.6,137.81 h10 M55.4,127.2 h-5 M352.6,127.2 h5 M55.4,116.58 h-10 M352.6,116.58 h10 M55.4,105.96 h-5 M352.6,105.96 h5 M55.4,95.34 h-10 M352.6,95.34 h10 M55.4,84.72 h-5 M352.6,84.72 h5 M55.4,74.11 h-10 M352.6,74.11 h10 M55.4,63.49 h-5 M352.6,63.49 h5 M55.4,52.87 h-10 M352.6,52.87 h10 M55.4,42.25 h-5 M352.6,42.25 h5 M55.4,31.64 h-10 M352.6,31.64 h10 M55.4,21.02 h-5 M352.6,21.02 h5 M55.4,10.4 h-10 M352.6,10.4 h10" fill="none" stroke="#000" stroke-width="2.5" stroke-linecap="round"/>
<text x="55.4" y="337" text-anchor="middle" class="tl">0</text>
<text x="92.55" y="337" text-anchor="middle" class="tl">3</text>
<text x="129.7" y="337" text-anchor="middle" class="tl">6</text>
<text x="166.85" y="337" text-anchor="middle" class="tl">9</text>
<text x="204" y="337" text-anchor="middle" class="tl">12</text>
<text x="241.15" y="337" text-anchor="middle" class="tl">15</text>
<text x="278.3" y="337" text-anchor="middle" class="tl">18</text>
<text x="315.45" y="337" text-anchor="middle" class="tl">21</text>
<text x="352.6" y="337" text-anchor="middle" class="tl">24</text>
<text x="39.9" y="313.3" text-anchor="end" class="tl">0</text>
<text x="39.9" y="270.83" text-anchor="end" class="tl">2</text>
<text x="39.9" y="228.36" text-anchor="end" class="tl">4</text>
<text x="39.9" y="185.89" text-anchor="end" class="tl">6</text>
<text x="39.9" y="143.41" text-anchor="end" class="tl">8</text>
<text x="39.9" y="100.94" text-anchor="end" class="tl">10</text>
<text x="39.9" y="58.47" text-anchor="end" class="tl">12</text>
<text x="39.9" y="16" text-anchor="end" class="tl">14</text>
<text x="204.5" y="355.8" text-anchor="middle" class="at">Time (Hour)</text>
<text transform="translate(12.9,266) rotate(-90)" class="yt">Heat Flow Rate (mW. g<tspan font-size="9.5" dx="1.5" dy="3.8">Cem</tspan><tspan font-size="9.5" dx="0.5" dy="-9.3">-1</tspan><tspan dx="0.6" dy="5.5">)</tspan></text>
<text x="208.6" y="387.9" text-anchor="middle" class="pl">(A)</text>
<text x="298" y="27.7" text-anchor="middle" class="lg">Cement #1</text>
<text x="298" y="46.6" text-anchor="middle" class="lg">MK + C-LS</text>
<path d="M248,62.4 H272" stroke="#808080" stroke-width="3"/>
<text x="276.7" y="67.7" class="lg">0%</text>
<path d="M248,83.34 H272" stroke="#000000" stroke-width="3"/>
<text x="276.7" y="88.64" class="lg">10%-10%</text>
<path d="M248,104.28 H272" stroke="#ff0000" stroke-width="3"/>
<text x="276.7" y="109.58" class="lg">15%-15%</text>
<path d="M248,125.22 H272" stroke="#0000ff" stroke-width="3"/>
<text x="276.7" y="130.52" class="lg">20%-20%</text>
<path d="M248,146.16 H272" stroke="#00ff00" stroke-width="3"/>
<text x="276.7" y="151.46" class="lg">25%-25%</text>
<path d="M248,167.1 H272" stroke="#ff6600" stroke-width="3"/>
<text x="276.7" y="172.4" class="lg">30%-30%</text>
<path d="M248,188.04 H272" stroke="#8800cc" stroke-width="3"/>
<text x="276.7" y="193.34" class="lg">20%-10%</text>
<path d="M248,208.98 H272" stroke="#ff99cc" stroke-width="3"/>
<text x="276.7" y="214.28" class="lg">40%-20%</text>
<clipPath id="cB"><rect x="469" y="10.5" width="297.8" height="297.1"/></clipPath>
<g clip-path="url(#cB)" fill="none" stroke-width="3" stroke-linejoin="round" stroke-linecap="round">
<path stroke="#ff99cc" d="M469,307.6 L470.74,245.42 L471.98,250.32 L473.22,255.18 L474.46,259.12 L475.7,262.3 L476.94,265.06 L478.18,267.35 L479.42,269.28 L480.66,270.94 L481.9,272.08 L483.15,272.33 L484.39,271.55 L485.63,269.86 L486.87,267.46 L488.11,264.57 L489.35,261.3 L490.59,257.8 L491.83,254.18 L493.07,250.54 L494.31,246.94 L495.55,243.39 L496.79,239.94 L498.04,236.57 L499.28,233.3 L500.52,230.08 L501.76,226.92 L503,223.77 L504.24,220.57 L505.48,217.29 L506.72,213.89 L507.96,210.32 L509.2,206.61 L510.44,202.74 L511.68,198.77 L512.93,194.74 L514.17,190.69 L515.41,186.7 L516.65,182.82 L517.89,179.1 L519.13,175.59 L520.37,172.31 L521.61,169.28 L522.85,166.51 L524.09,163.99 L525.33,161.75 L526.57,159.73 L527.82,157.96 L529.06,156.39 L530.3,155.01 L531.54,153.81 L532.78,152.77 L534.02,151.87 L535.26,151.1 L536.5,150.45 L537.74,149.92 L538.98,149.48 L540.22,149.13 L541.46,148.88 L542.71,148.71 L543.95,148.63 L545.19,148.63 L546.43,148.72 L547.67,148.88 L548.91,149.13 L550.15,149.46 L551.39,149.86 L552.63,150.35 L553.87,150.9 L555.11,151.54 L556.35,152.24 L557.6,153.01 L558.84,153.85 L560.08,154.75 L561.32,155.71 L562.56,156.73 L563.8,157.81 L565.04,158.95 L566.28,160.14 L567.52,161.38 L568.76,162.66 L570,163.99 L571.24,165.36 L572.49,166.77 L573.73,168.22 L574.97,169.7 L576.21,171.21 L577.45,172.75 L578.69,174.31 L579.93,175.9 L581.17,177.5 L582.41,179.12 L583.65,180.74 L584.89,182.38 L586.13,184.01 L587.38,185.64 L588.62,187.26 L589.86,188.86 L591.1,190.44 L592.34,191.99 L593.58,193.51 L594.82,195 L596.06,196.45 L597.3,197.85 L598.54,199.21 L599.78,200.52 L601.02,201.79 L602.27,203 L603.51,204.18 L604.75,205.31 L605.99,206.4 L607.23,207.45 L608.47,208.48 L609.71,209.48 L610.95,210.46 L612.19,211.43 L613.43,212.4 L614.67,213.36 L615.91,214.33 L617.16,215.31 L618.4,216.31 L619.64,217.32 L620.88,218.36 L622.12,219.42 L623.36,220.51 L624.6,221.63 L625.84,222.77 L627.08,223.94 L628.32,225.12 L629.56,226.33 L630.8,227.56 L632.05,228.79 L633.29,230.03 L634.53,231.26 L635.77,232.49 L637.01,233.71 L638.25,234.91 L639.49,236.08 L640.73,237.23 L641.97,238.34 L643.21,239.42 L644.45,240.46 L645.69,241.46 L646.94,242.42 L648.18,243.35 L649.42,244.24 L650.66,245.09 L651.9,245.91 L653.14,246.7 L654.38,247.47 L655.62,248.22 L656.86,248.95 L658.1,249.67 L659.34,250.39 L660.58,251.1 L661.83,251.82 L663.07,252.53 L664.31,253.26 L665.55,253.99 L666.79,254.73 L668.03,255.48 L669.27,256.24 L670.51,257 L671.75,257.76 L672.99,258.52 L674.23,259.28 L675.47,260.03 L676.72,260.77 L677.96,261.49 L679.2,262.2 L680.44,262.88 L681.68,263.54 L682.92,264.17 L684.16,264.78 L685.4,265.35 L686.64,265.9 L687.88,266.41 L689.12,266.9 L690.36,267.36 L691.61,267.8 L692.85,268.21 L694.09,268.6 L695.33,268.96 L696.57,269.31 L697.81,269.65 L699.05,269.97 L700.29,270.28 L701.53,270.58 L702.77,270.86 L704.01,271.14 L705.25,271.42 L706.5,271.68 L707.74,271.94 L708.98,272.2 L710.22,272.45 L711.46,272.7 L712.7,272.94 L713.94,273.18 L715.18,273.41 L716.42,273.64 L717.66,273.87 L718.9,274.1 L720.14,274.32 L721.39,274.54 L722.63,274.75 L723.87,274.97 L725.11,275.18 L726.35,275.39 L727.59,275.6 L728.83,275.8 L730.07,276.01 L731.31,276.21 L732.55,276.41 L733.79,276.61 L735.03,276.81 L736.28,277.01 L737.52,277.2 L738.76,277.39 L740,277.59 L741.24,277.78 L742.48,277.96 L743.72,278.15 L744.96,278.33 L746.2,278.5 L747.44,278.67 L748.68,278.84 L749.92,278.99 L751.17,279.14 L752.41,279.28 L753.65,279.4 L754.89,279.52 L756.13,279.63 L757.37,279.72 L758.61,279.81 L759.85,279.88 L761.09,279.93 L762.33,279.97 L763.57,280 L764.81,280.01 L766.06,280.01 L766.68,280.01"/>
<path stroke="#8800cc" d="M469,307.6 L470.12,282.35 L471.36,284.69 L472.6,287.1 L473.84,289 L475.08,290.22 L476.32,291.22 L477.56,292.12 L478.8,292.92 L480.04,293.62 L481.28,294.17 L482.53,294.56 L483.77,294.77 L485.01,294.79 L486.25,294.63 L487.49,294.33 L488.73,293.9 L489.97,293.37 L491.21,292.77 L492.45,292.1 L493.69,291.38 L494.93,290.62 L496.17,289.79 L497.42,288.92 L498.66,287.98 L499.9,286.98 L501.14,285.91 L502.38,284.76 L503.62,283.52 L504.86,282.21 L506.1,280.83 L507.34,279.41 L508.58,277.95 L509.82,276.5 L511.06,275.06 L512.31,273.65 L513.55,272.28 L514.79,270.94 L516.03,269.61 L517.27,268.29 L518.51,266.93 L519.75,265.51 L520.99,264 L522.23,262.37 L523.47,260.6 L524.71,258.68 L525.95,256.58 L527.2,254.32 L528.44,251.89 L529.68,249.29 L530.92,246.54 L532.16,243.64 L533.4,240.62 L534.64,237.49 L535.88,234.28 L537.12,231.01 L538.36,227.69 L539.6,224.36 L540.84,221.02 L542.09,217.7 L543.33,214.41 L544.57,211.18 L545.81,208.03 L547.05,204.95 L548.29,201.96 L549.53,199.08 L550.77,196.3 L552.01,193.66 L553.25,191.12 L554.49,188.73 L555.73,186.45 L556.98,184.32 L558.22,182.28 L559.46,180.39 L560.7,178.63 L561.94,177.01 L563.18,175.53 L564.42,174.18 L565.66,172.96 L566.9,171.87 L568.14,170.91 L569.38,170.07 L570.62,169.34 L571.87,168.72 L573.11,168.22 L574.35,167.81 L575.59,167.5 L576.83,167.29 L578.07,167.16 L579.31,167.11 L580.55,167.13 L581.79,167.23 L583.03,167.4 L584.27,167.63 L585.51,167.92 L586.76,168.26 L588,168.66 L589.24,169.11 L590.48,169.61 L591.72,170.16 L592.96,170.76 L594.2,171.4 L595.44,172.09 L596.68,172.83 L597.92,173.62 L599.16,174.46 L600.4,175.35 L601.65,176.28 L602.89,177.28 L604.13,178.32 L605.37,179.41 L606.61,180.55 L607.85,181.75 L609.09,182.99 L610.33,184.27 L611.57,185.6 L612.81,186.96 L614.05,188.35 L615.29,189.77 L616.54,191.21 L617.78,192.66 L619.02,194.12 L620.26,195.59 L621.5,197.05 L622.74,198.5 L623.98,199.94 L625.22,201.36 L626.46,202.77 L627.7,204.15 L628.94,205.51 L630.18,206.84 L631.43,208.15 L632.67,209.43 L633.91,210.69 L635.15,211.93 L636.39,213.15 L637.63,214.36 L638.87,215.55 L640.11,216.72 L641.35,217.89 L642.59,219.05 L643.83,220.2 L645.07,221.34 L646.32,222.49 L647.56,223.62 L648.8,224.76 L650.04,225.89 L651.28,227.02 L652.52,228.15 L653.76,229.27 L655,230.4 L656.24,231.51 L657.48,232.63 L658.72,233.73 L659.96,234.83 L661.21,235.92 L662.45,237 L663.69,238.07 L664.93,239.13 L666.17,240.17 L667.41,241.21 L668.65,242.22 L669.89,243.23 L671.13,244.22 L672.37,245.19 L673.61,246.14 L674.85,247.08 L676.1,248 L677.34,248.91 L678.58,249.79 L679.82,250.66 L681.06,251.5 L682.3,252.33 L683.54,253.14 L684.78,253.92 L686.02,254.69 L687.26,255.44 L688.5,256.16 L689.74,256.87 L690.99,257.55 L692.23,258.22 L693.47,258.87 L694.71,259.5 L695.95,260.12 L697.19,260.72 L698.43,261.3 L699.67,261.87 L700.91,262.43 L702.15,262.97 L703.39,263.51 L704.63,264.03 L705.88,264.54 L707.12,265.05 L708.36,265.55 L709.6,266.04 L710.84,266.53 L712.08,267.01 L713.32,267.49 L714.56,267.97 L715.8,268.44 L717.04,268.91 L718.28,269.38 L719.52,269.86 L720.77,270.33 L722.01,270.8 L723.25,271.27 L724.49,271.75 L725.73,272.22 L726.97,272.7 L728.21,273.19 L729.45,273.67 L730.69,274.15 L731.93,274.64 L733.17,275.12 L734.41,275.61 L735.66,276.1 L736.9,276.58 L738.14,277.07 L739.38,277.56 L740.62,278.05 L741.86,278.53 L743.1,279.01 L744.34,279.49 L745.58,279.96 L746.82,280.43 L748.06,280.88 L749.3,281.32 L750.55,281.75 L751.79,282.17 L753.03,282.58 L754.27,282.97 L755.51,283.34 L756.75,283.69 L757.99,284.03 L759.23,284.34 L760.47,284.64 L761.71,284.91 L762.95,285.16 L764.19,285.39 L765.44,285.58 L766.68,285.73"/>
<path stroke="#ff6600" d="M469,307.6 L470.74,254.76 L471.98,258.52 L473.22,262.25 L474.46,265.18 L475.7,267.45 L476.94,269.37 L478.18,270.93 L479.42,272.21 L480.66,273.36 L481.9,274.25 L483.15,274.43 L484.39,273.62 L485.63,271.82 L486.87,269.26 L488.11,266.16 L489.35,262.67 L490.59,258.93 L491.83,255.06 L493.07,251.14 L494.31,247.23 L495.55,243.37 L496.79,239.61 L498.04,235.94 L499.28,232.4 L500.52,228.97 L501.76,225.64 L503,222.36 L504.24,219.09 L505.48,215.75 L506.72,212.32 L507.96,208.74 L509.2,205.01 L510.44,201.12 L511.68,197.12 L512.93,193.04 L514.17,188.92 L515.41,184.86 L516.65,180.9 L517.89,177.09 L519.13,173.48 L520.37,170.1 L521.61,166.99 L522.85,164.13 L524.09,161.54 L525.33,159.23 L526.57,157.16 L527.82,155.36 L529.06,153.77 L530.3,152.41 L531.54,151.23 L532.78,150.23 L534.02,149.38 L535.26,148.68 L536.5,148.11 L537.74,147.65 L538.98,147.3 L540.22,147.04 L541.46,146.87 L542.71,146.79 L543.95,146.78 L545.19,146.85 L546.43,147 L547.67,147.21 L548.91,147.5 L550.15,147.86 L551.39,148.29 L552.63,148.79 L553.87,149.35 L555.11,149.98 L556.35,150.67 L557.6,151.43 L558.84,152.25 L560.08,153.13 L561.32,154.06 L562.56,155.05 L563.8,156.09 L565.04,157.19 L566.28,158.34 L567.52,159.54 L568.76,160.79 L570,162.08 L571.24,163.43 L572.49,164.82 L573.73,166.25 L574.97,167.72 L576.21,169.23 L577.45,170.78 L578.69,172.36 L579.93,173.97 L581.17,175.61 L582.41,177.27 L583.65,178.94 L584.89,180.62 L586.13,182.3 L587.38,183.97 L588.62,185.63 L589.86,187.27 L591.1,188.89 L592.34,190.47 L593.58,192.01 L594.82,193.5 L596.06,194.95 L597.3,196.34 L598.54,197.68 L599.78,198.97 L601.02,200.2 L602.27,201.38 L603.51,202.51 L604.75,203.6 L605.99,204.66 L607.23,205.68 L608.47,206.68 L609.71,207.66 L610.95,208.64 L612.19,209.6 L613.43,210.58 L614.67,211.56 L615.91,212.55 L617.16,213.57 L618.4,214.6 L619.64,215.66 L620.88,216.75 L622.12,217.86 L623.36,219 L624.6,220.17 L625.84,221.36 L627.08,222.57 L628.32,223.8 L629.56,225.04 L630.8,226.29 L632.05,227.55 L633.29,228.81 L634.53,230.06 L635.77,231.3 L637.01,232.52 L638.25,233.72 L639.49,234.9 L640.73,236.05 L641.97,237.16 L643.21,238.24 L644.45,239.29 L645.69,240.3 L646.94,241.27 L648.18,242.2 L649.42,243.1 L650.66,243.97 L651.9,244.8 L653.14,245.61 L654.38,246.39 L655.62,247.16 L656.86,247.9 L658.1,248.64 L659.34,249.37 L660.58,250.09 L661.83,250.81 L663.07,251.53 L664.31,252.26 L665.55,252.99 L666.79,253.73 L668.03,254.47 L669.27,255.22 L670.51,255.98 L671.75,256.74 L672.99,257.5 L674.23,258.26 L675.47,259.02 L676.72,259.77 L677.96,260.51 L679.2,261.24 L680.44,261.95 L681.68,262.64 L682.92,263.31 L684.16,263.96 L685.4,264.58 L686.64,265.18 L687.88,265.74 L689.12,266.28 L690.36,266.8 L691.61,267.28 L692.85,267.75 L694.09,268.18 L695.33,268.6 L696.57,268.99 L697.81,269.36 L699.05,269.72 L700.29,270.06 L701.53,270.38 L702.77,270.69 L704.01,271 L705.25,271.29 L706.5,271.57 L707.74,271.85 L708.98,272.13 L710.22,272.4 L711.46,272.66 L712.7,272.93 L713.94,273.19 L715.18,273.45 L716.42,273.71 L717.66,273.97 L718.9,274.23 L720.14,274.49 L721.39,274.75 L722.63,275.01 L723.87,275.27 L725.11,275.53 L726.35,275.79 L727.59,276.05 L728.83,276.31 L730.07,276.57 L731.31,276.83 L732.55,277.09 L733.79,277.35 L735.03,277.6 L736.28,277.86 L737.52,278.12 L738.76,278.37 L740,278.62 L741.24,278.88 L742.48,279.13 L743.72,279.38 L744.96,279.63 L746.2,279.87 L747.44,280.12 L748.68,280.37 L749.92,280.61 L751.17,280.86 L752.41,281.11 L753.65,281.37 L754.89,281.62 L756.13,281.88 L757.37,282.14 L758.61,282.4 L759.85,282.67 L761.09,282.94 L762.33,283.21 L763.57,283.49 L764.81,283.78 L766.06,284.07 L766.68,284.23"/>
<path stroke="#00ff00" d="M469,307.6 L470.12,264.94 L471.36,267.48 L472.6,270.04 L473.84,272.37 L475.08,274.49 L476.32,276.63 L477.56,278.71 L478.8,280.48 L480.04,281.65 L481.28,282.06 L482.53,281.78 L483.77,280.95 L485.01,279.66 L486.25,277.97 L487.49,275.91 L488.73,273.54 L489.97,270.9 L491.21,268.06 L492.45,265.05 L493.69,261.91 L494.93,258.68 L496.17,255.36 L497.42,251.97 L498.66,248.53 L499.9,245.04 L501.14,241.5 L502.38,237.92 L503.62,234.3 L504.86,230.64 L506.1,226.96 L507.34,223.25 L508.58,219.52 L509.82,215.79 L511.06,212.08 L512.31,208.38 L513.55,204.72 L514.79,201.1 L516.03,197.53 L517.27,194.03 L518.51,190.61 L519.75,187.27 L520.99,184.02 L522.23,180.88 L523.47,177.86 L524.71,174.96 L525.95,172.19 L527.2,169.55 L528.44,167.06 L529.68,164.72 L530.92,162.53 L532.16,160.5 L533.4,158.61 L534.64,156.88 L535.88,155.29 L537.12,153.85 L538.36,152.55 L539.6,151.38 L540.84,150.35 L542.09,149.44 L543.33,148.65 L544.57,147.98 L545.81,147.42 L547.05,146.96 L548.29,146.6 L549.53,146.34 L550.77,146.17 L552.01,146.09 L553.25,146.09 L554.49,146.17 L555.73,146.32 L556.98,146.55 L558.22,146.86 L559.46,147.23 L560.7,147.67 L561.94,148.17 L563.18,148.72 L564.42,149.34 L565.66,150.01 L566.9,150.74 L568.14,151.52 L569.38,152.36 L570.62,153.25 L571.87,154.19 L573.11,155.19 L574.35,156.23 L575.59,157.33 L576.83,158.48 L578.07,159.68 L579.31,160.92 L580.55,162.22 L581.79,163.56 L583.03,164.94 L584.27,166.37 L585.51,167.83 L586.76,169.33 L588,170.85 L589.24,172.4 L590.48,173.97 L591.72,175.56 L592.96,177.17 L594.2,178.78 L595.44,180.39 L596.68,182.01 L597.92,183.62 L599.16,185.22 L600.4,186.81 L601.65,188.4 L602.89,189.96 L604.13,191.52 L605.37,193.05 L606.61,194.57 L607.85,196.07 L609.09,197.55 L610.33,199.02 L611.57,200.47 L612.81,201.9 L614.05,203.33 L615.29,204.74 L616.54,206.15 L617.78,207.55 L619.02,208.94 L620.26,210.33 L621.5,211.71 L622.74,213.1 L623.98,214.48 L625.22,215.86 L626.46,217.23 L627.7,218.6 L628.94,219.97 L630.18,221.33 L631.43,222.68 L632.67,224.01 L633.91,225.33 L635.15,226.64 L636.39,227.92 L637.63,229.18 L638.87,230.41 L640.11,231.62 L641.35,232.79 L642.59,233.93 L643.83,235.03 L645.07,236.1 L646.32,237.13 L647.56,238.13 L648.8,239.1 L650.04,240.03 L651.28,240.93 L652.52,241.81 L653.76,242.66 L655,243.48 L656.24,244.29 L657.48,245.08 L658.72,245.86 L659.96,246.62 L661.21,247.38 L662.45,248.14 L663.69,248.89 L664.93,249.64 L666.17,250.39 L667.41,251.15 L668.65,251.9 L669.89,252.66 L671.13,253.41 L672.37,254.17 L673.61,254.93 L674.85,255.68 L676.1,256.43 L677.34,257.17 L678.58,257.91 L679.82,258.63 L681.06,259.34 L682.3,260.03 L683.54,260.71 L684.78,261.36 L686.02,262 L687.26,262.61 L688.5,263.21 L689.74,263.78 L690.99,264.32 L692.23,264.85 L693.47,265.35 L694.71,265.83 L695.95,266.29 L697.19,266.74 L698.43,267.16 L699.67,267.57 L700.91,267.96 L702.15,268.34 L703.39,268.71 L704.63,269.07 L705.88,269.42 L707.12,269.76 L708.36,270.1 L709.6,270.43 L710.84,270.76 L712.08,271.09 L713.32,271.41 L714.56,271.74 L715.8,272.07 L717.04,272.4 L718.28,272.73 L719.52,273.07 L720.77,273.42 L722.01,273.76 L723.25,274.12 L724.49,274.48 L725.73,274.84 L726.97,275.21 L728.21,275.59 L729.45,275.98 L730.69,276.36 L731.93,276.76 L733.17,277.15 L734.41,277.56 L735.66,277.96 L736.9,278.38 L738.14,278.79 L739.38,279.21 L740.62,279.63 L741.86,280.05 L743.1,280.47 L744.34,280.89 L745.58,281.3 L746.82,281.71 L748.06,282.11 L749.3,282.51 L750.55,282.89 L751.79,283.27 L753.03,283.63 L754.27,283.98 L755.51,284.32 L756.75,284.65 L757.99,284.96 L759.23,285.25 L760.47,285.53 L761.71,285.79 L762.95,286.02 L764.19,286.24 L765.44,286.43 L766.68,286.58"/>
<path stroke="#0000ff" d="M469,307.6 L469.99,274.71 L471.23,276.42 L472.47,278.16 L473.72,279.74 L474.96,281.11 L476.2,282.46 L477.44,283.77 L478.68,284.97 L479.92,285.93 L481.16,286.38 L482.4,286.09 L483.64,285.02 L484.88,283.31 L486.12,281.18 L487.36,278.76 L488.61,276.17 L489.85,273.53 L491.09,270.85 L492.33,268.18 L493.57,265.48 L494.81,262.76 L496.05,260.01 L497.29,257.2 L498.53,254.34 L499.77,251.42 L501.01,248.44 L502.25,245.39 L503.5,242.27 L504.74,239.07 L505.98,235.8 L507.22,232.44 L508.46,229.02 L509.7,225.53 L510.94,221.99 L512.18,218.43 L513.42,214.85 L514.66,211.27 L515.9,207.72 L517.14,204.2 L518.39,200.72 L519.63,197.3 L520.87,193.93 L522.11,190.62 L523.35,187.37 L524.59,184.18 L525.83,181.06 L527.07,178 L528.31,175.01 L529.55,172.11 L530.79,169.29 L532.03,166.58 L533.28,163.98 L534.52,161.52 L535.76,159.19 L537,157.01 L538.24,155.01 L539.48,153.16 L540.72,151.5 L541.96,150.01 L543.2,148.71 L544.44,147.58 L545.68,146.62 L546.92,145.83 L548.17,145.2 L549.41,144.73 L550.65,144.4 L551.89,144.2 L553.13,144.13 L554.37,144.17 L555.61,144.31 L556.85,144.56 L558.09,144.9 L559.33,145.33 L560.57,145.85 L561.81,146.44 L563.06,147.11 L564.3,147.84 L565.54,148.63 L566.78,149.48 L568.02,150.38 L569.26,151.34 L570.5,152.35 L571.74,153.41 L572.98,154.52 L574.22,155.68 L575.46,156.89 L576.7,158.15 L577.95,159.46 L579.19,160.81 L580.43,162.2 L581.67,163.63 L582.91,165.11 L584.15,166.61 L585.39,168.15 L586.63,169.71 L587.87,171.3 L589.11,172.9 L590.35,174.51 L591.59,176.14 L592.84,177.76 L594.08,179.38 L595.32,181 L596.56,182.61 L597.8,184.21 L599.04,185.79 L600.28,187.36 L601.52,188.9 L602.76,190.43 L604,191.93 L605.24,193.41 L606.48,194.87 L607.73,196.3 L608.97,197.71 L610.21,199.11 L611.45,200.49 L612.69,201.85 L613.93,203.2 L615.17,204.55 L616.41,205.88 L617.65,207.22 L618.89,208.55 L620.13,209.89 L621.37,211.24 L622.62,212.59 L623.86,213.94 L625.1,215.31 L626.34,216.68 L627.58,218.06 L628.82,219.44 L630.06,220.82 L631.3,222.21 L632.54,223.59 L633.78,224.96 L635.02,226.31 L636.26,227.65 L637.51,228.97 L638.75,230.26 L639.99,231.52 L641.23,232.75 L642.47,233.95 L643.71,235.1 L644.95,236.22 L646.19,237.29 L647.43,238.33 L648.67,239.32 L649.91,240.28 L651.15,241.2 L652.4,242.09 L653.64,242.95 L654.88,243.79 L656.12,244.6 L657.36,245.4 L658.6,246.19 L659.84,246.96 L661.08,247.73 L662.32,248.5 L663.56,249.26 L664.8,250.03 L666.04,250.81 L667.29,251.59 L668.53,252.37 L669.77,253.16 L671.01,253.95 L672.25,254.75 L673.49,255.54 L674.73,256.33 L675.97,257.12 L677.21,257.91 L678.45,258.68 L679.69,259.44 L680.93,260.18 L682.18,260.91 L683.42,261.62 L684.66,262.31 L685.9,262.97 L687.14,263.61 L688.38,264.23 L689.62,264.83 L690.86,265.4 L692.1,265.94 L693.34,266.47 L694.58,266.97 L695.82,267.45 L697.07,267.92 L698.31,268.37 L699.55,268.8 L700.79,269.22 L702.03,269.62 L703.27,270.01 L704.51,270.4 L705.75,270.77 L706.99,271.14 L708.23,271.51 L709.47,271.87 L710.71,272.22 L711.96,272.57 L713.2,272.92 L714.44,273.27 L715.68,273.62 L716.92,273.97 L718.16,274.32 L719.4,274.68 L720.64,275.03 L721.88,275.39 L723.12,275.75 L724.36,276.11 L725.6,276.48 L726.85,276.85 L728.09,277.23 L729.33,277.6 L730.57,277.98 L731.81,278.36 L733.05,278.75 L734.29,279.13 L735.53,279.52 L736.77,279.91 L738.01,280.3 L739.25,280.7 L740.49,281.09 L741.74,281.48 L742.98,281.88 L744.22,282.26 L745.46,282.65 L746.7,283.03 L747.94,283.4 L749.18,283.77 L750.42,284.13 L751.66,284.48 L752.9,284.81 L754.14,285.14 L755.38,285.46 L756.63,285.76 L757.87,286.06 L759.11,286.33 L760.35,286.6 L761.59,286.84 L762.83,287.07 L764.07,287.28 L765.31,287.47 L766.55,287.62"/>
<path stroke="#ff0000" d="M469,307.6 L470.12,282.35 L471.36,284.69 L472.6,287.1 L473.84,289 L475.08,290.22 L476.32,291.22 L477.56,292.12 L478.8,292.92 L480.04,293.62 L481.28,294.17 L482.53,294.56 L483.77,294.77 L485.01,294.79 L486.25,294.64 L487.49,294.34 L488.73,293.92 L489.97,293.39 L491.21,292.79 L492.45,292.12 L493.69,291.39 L494.93,290.6 L496.17,289.75 L497.42,288.82 L498.66,287.83 L499.9,286.77 L501.14,285.63 L502.38,284.41 L503.62,283.11 L504.86,281.74 L506.1,280.28 L507.34,278.75 L508.58,277.16 L509.82,275.52 L511.06,273.83 L512.31,272.1 L513.55,270.31 L514.79,268.47 L516.03,266.54 L517.27,264.51 L518.51,262.36 L519.75,260.07 L520.99,257.63 L522.23,255.03 L523.47,252.26 L524.71,249.35 L525.95,246.3 L527.2,243.14 L528.44,239.88 L529.68,236.54 L530.92,233.14 L532.16,229.71 L533.4,226.26 L534.64,222.8 L535.88,219.35 L537.12,215.93 L538.36,212.53 L539.6,209.17 L540.84,205.85 L542.09,202.6 L543.33,199.41 L544.57,196.29 L545.81,193.26 L547.05,190.31 L548.29,187.47 L549.53,184.74 L550.77,182.12 L552.01,179.63 L553.25,177.27 L554.49,175.05 L555.73,172.97 L556.98,171.03 L558.22,169.2 L559.46,167.51 L560.7,165.97 L561.94,164.57 L563.18,163.31 L564.42,162.18 L565.66,161.2 L566.9,160.34 L568.14,159.61 L569.38,158.99 L570.62,158.49 L571.87,158.1 L573.11,157.81 L574.35,157.62 L575.59,157.52 L576.83,157.5 L578.07,157.56 L579.31,157.69 L580.55,157.89 L581.79,158.16 L583.03,158.49 L584.27,158.88 L585.51,159.33 L586.76,159.84 L588,160.4 L589.24,161.01 L590.48,161.67 L591.72,162.39 L592.96,163.16 L594.2,163.99 L595.44,164.86 L596.68,165.79 L597.92,166.77 L599.16,167.79 L600.4,168.87 L601.65,170 L602.89,171.18 L604.13,172.4 L605.37,173.67 L606.61,174.99 L607.85,176.35 L609.09,177.75 L610.33,179.19 L611.57,180.67 L612.81,182.18 L614.05,183.71 L615.29,185.28 L616.54,186.86 L617.78,188.47 L619.02,190.09 L620.26,191.73 L621.5,193.37 L622.74,195.02 L623.98,196.67 L625.22,198.32 L626.46,199.96 L627.7,201.59 L628.94,203.22 L630.18,204.83 L631.43,206.42 L632.67,208 L633.91,209.56 L635.15,211.1 L636.39,212.61 L637.63,214.1 L638.87,215.57 L640.11,217.01 L641.35,218.42 L642.59,219.8 L643.83,221.16 L645.07,222.48 L646.32,223.78 L647.56,225.05 L648.8,226.29 L650.04,227.5 L651.28,228.69 L652.52,229.85 L653.76,230.99 L655,232.11 L656.24,233.2 L657.48,234.28 L658.72,235.33 L659.96,236.37 L661.21,237.39 L662.45,238.4 L663.69,239.39 L664.93,240.37 L666.17,241.33 L667.41,242.28 L668.65,243.22 L669.89,244.15 L671.13,245.07 L672.37,245.98 L673.61,246.87 L674.85,247.76 L676.1,248.63 L677.34,249.49 L678.58,250.33 L679.82,251.17 L681.06,251.99 L682.3,252.79 L683.54,253.57 L684.78,254.35 L686.02,255.1 L687.26,255.83 L688.5,256.55 L689.74,257.25 L690.99,257.93 L692.23,258.6 L693.47,259.24 L694.71,259.87 L695.95,260.48 L697.19,261.08 L698.43,261.66 L699.67,262.22 L700.91,262.78 L702.15,263.31 L703.39,263.84 L704.63,264.36 L705.88,264.87 L707.12,265.37 L708.36,265.86 L709.6,266.34 L710.84,266.82 L712.08,267.3 L713.32,267.77 L714.56,268.24 L715.8,268.7 L717.04,269.17 L718.28,269.63 L719.52,270.1 L720.77,270.56 L722.01,271.03 L723.25,271.5 L724.49,271.97 L725.73,272.44 L726.97,272.92 L728.21,273.4 L729.45,273.88 L730.69,274.36 L731.93,274.84 L733.17,275.32 L734.41,275.81 L735.66,276.29 L736.9,276.78 L738.14,277.27 L739.38,277.76 L740.62,278.25 L741.86,278.73 L743.1,279.21 L744.34,279.69 L745.58,280.16 L746.82,280.63 L748.06,281.08 L749.3,281.53 L750.55,281.96 L751.79,282.38 L753.03,282.78 L754.27,283.17 L755.51,283.55 L756.75,283.9 L757.99,284.24 L759.23,284.56 L760.47,284.85 L761.71,285.12 L762.95,285.38 L764.19,285.6 L765.44,285.79 L766.68,285.94"/>
<path stroke="#000000" d="M469,307.6 L470.12,271.1 L471.36,275.12 L472.6,279.26 L473.84,282.48 L475.08,284.45 L476.32,285.97 L477.56,287.3 L478.8,288.47 L480.04,289.47 L481.28,290.28 L482.53,290.92 L483.77,291.41 L485.01,291.79 L486.25,292.09 L487.49,292.33 L488.73,292.52 L489.97,292.68 L491.21,292.8 L492.45,292.88 L493.69,292.93 L494.93,292.93 L496.17,292.9 L497.42,292.84 L498.66,292.74 L499.9,292.6 L501.14,292.44 L502.38,292.25 L503.62,292.03 L504.86,291.77 L506.1,291.48 L507.34,291.14 L508.58,290.75 L509.82,290.32 L511.06,289.82 L512.31,289.26 L513.55,288.63 L514.79,287.93 L516.03,287.15 L517.27,286.28 L518.51,285.33 L519.75,284.29 L520.99,283.17 L522.23,281.97 L523.47,280.7 L524.71,279.36 L525.95,277.96 L527.2,276.51 L528.44,275.01 L529.68,273.45 L530.92,271.84 L532.16,270.16 L533.4,268.41 L534.64,266.58 L535.88,264.65 L537.12,262.62 L538.36,260.48 L539.6,258.22 L540.84,255.84 L542.09,253.35 L543.33,250.75 L544.57,248.06 L545.81,245.27 L547.05,242.41 L548.29,239.49 L549.53,236.53 L550.77,233.54 L552.01,230.55 L553.25,227.57 L554.49,224.61 L555.73,221.69 L556.98,218.82 L558.22,216 L559.46,213.24 L560.7,210.57 L561.94,207.98 L563.18,205.49 L564.42,203.1 L565.66,200.83 L566.9,198.68 L568.14,196.64 L569.38,194.73 L570.62,192.95 L571.87,191.29 L573.11,189.75 L574.35,188.34 L575.59,187.04 L576.83,185.87 L578.07,184.8 L579.31,183.85 L580.55,183 L581.79,182.24 L583.03,181.58 L584.27,181 L585.51,180.51 L586.76,180.09 L588,179.75 L589.24,179.48 L590.48,179.28 L591.72,179.15 L592.96,179.08 L594.2,179.07 L595.44,179.12 L596.68,179.24 L597.92,179.42 L599.16,179.67 L600.4,179.98 L601.65,180.35 L602.89,180.79 L604.13,181.29 L605.37,181.85 L606.61,182.49 L607.85,183.18 L609.09,183.94 L610.33,184.75 L611.57,185.62 L612.81,186.55 L614.05,187.52 L615.29,188.54 L616.54,189.6 L617.78,190.69 L619.02,191.8 L620.26,192.94 L621.5,194.1 L622.74,195.27 L623.98,196.44 L625.22,197.62 L626.46,198.79 L627.7,199.96 L628.94,201.13 L630.18,202.29 L631.43,203.44 L632.67,204.58 L633.91,205.72 L635.15,206.85 L636.39,207.99 L637.63,209.12 L638.87,210.25 L640.11,211.39 L641.35,212.54 L642.59,213.69 L643.83,214.85 L645.07,216.02 L646.32,217.2 L647.56,218.4 L648.8,219.6 L650.04,220.8 L651.28,222.02 L652.52,223.24 L653.76,224.46 L655,225.67 L656.24,226.88 L657.48,228.08 L658.72,229.27 L659.96,230.44 L661.21,231.59 L662.45,232.72 L663.69,233.81 L664.93,234.89 L666.17,235.93 L667.41,236.94 L668.65,237.92 L669.89,238.88 L671.13,239.8 L672.37,240.7 L673.61,241.57 L674.85,242.42 L676.1,243.25 L677.34,244.07 L678.58,244.86 L679.82,245.65 L681.06,246.42 L682.3,247.18 L683.54,247.93 L684.78,248.67 L686.02,249.4 L687.26,250.13 L688.5,250.85 L689.74,251.55 L690.99,252.25 L692.23,252.94 L693.47,253.62 L694.71,254.29 L695.95,254.95 L697.19,255.6 L698.43,256.24 L699.67,256.86 L700.91,257.48 L702.15,258.08 L703.39,258.67 L704.63,259.26 L705.88,259.83 L707.12,260.39 L708.36,260.95 L709.6,261.49 L710.84,262.03 L712.08,262.57 L713.32,263.09 L714.56,263.61 L715.8,264.13 L717.04,264.64 L718.28,265.15 L719.52,265.65 L720.77,266.15 L722.01,266.65 L723.25,267.15 L724.49,267.64 L725.73,268.13 L726.97,268.61 L728.21,269.1 L729.45,269.58 L730.69,270.06 L731.93,270.53 L733.17,271.01 L734.41,271.48 L735.66,271.94 L736.9,272.41 L738.14,272.87 L739.38,273.33 L740.62,273.78 L741.86,274.23 L743.1,274.68 L744.34,275.13 L745.58,275.57 L746.82,276 L748.06,276.43 L749.3,276.86 L750.55,277.27 L751.79,277.69 L753.03,278.1 L754.27,278.5 L755.51,278.89 L756.75,279.28 L757.99,279.67 L759.23,280.04 L760.47,280.41 L761.71,280.77 L762.95,281.13 L764.19,281.47 L765.44,281.81 L766.68,282.1"/>
<path stroke="#808080" d="M469,307.6 L469.87,292.75 L471.11,294.64 L472.35,296.61 L473.59,298.22 L474.83,299.24 L476.07,299.99 L477.31,300.56 L478.55,300.89 L479.8,301.01 L481.04,301 L482.28,300.91 L483.52,300.75 L484.76,300.55 L486,300.32 L487.24,300.07 L488.48,299.8 L489.72,299.53 L490.96,299.27 L492.2,299.01 L493.44,298.77 L494.69,298.53 L495.93,298.31 L497.17,298.1 L498.41,297.89 L499.65,297.69 L500.89,297.48 L502.13,297.28 L503.37,297.07 L504.61,296.85 L505.85,296.63 L507.09,296.39 L508.33,296.14 L509.58,295.87 L510.82,295.59 L512.06,295.29 L513.3,294.98 L514.54,294.65 L515.78,294.3 L517.02,293.93 L518.26,293.54 L519.5,293.14 L520.74,292.7 L521.98,292.24 L523.22,291.74 L524.47,291.21 L525.71,290.63 L526.95,289.99 L528.19,289.31 L529.43,288.56 L530.67,287.76 L531.91,286.9 L533.15,285.98 L534.39,285 L535.63,283.97 L536.87,282.9 L538.11,281.78 L539.36,280.61 L540.6,279.41 L541.84,278.17 L543.08,276.88 L544.32,275.55 L545.56,274.17 L546.8,272.74 L548.04,271.26 L549.28,269.72 L550.52,268.12 L551.76,266.45 L553,264.72 L554.25,262.93 L555.49,261.06 L556.73,259.15 L557.97,257.18 L559.21,255.18 L560.45,253.13 L561.69,251.03 L562.93,248.9 L564.17,246.74 L565.41,244.56 L566.65,242.37 L567.89,240.18 L569.14,237.99 L570.38,235.82 L571.62,233.67 L572.86,231.55 L574.1,229.47 L575.34,227.43 L576.58,225.45 L577.82,223.52 L579.06,221.65 L580.3,219.84 L581.54,218.09 L582.78,216.42 L584.03,214.81 L585.27,213.27 L586.51,211.8 L587.75,210.4 L588.99,209.06 L590.23,207.79 L591.47,206.58 L592.71,205.43 L593.95,204.35 L595.19,203.32 L596.43,202.35 L597.67,201.44 L598.92,200.59 L600.16,199.8 L601.4,199.07 L602.64,198.4 L603.88,197.79 L605.12,197.24 L606.36,196.76 L607.6,196.35 L608.84,196.01 L610.08,195.75 L611.32,195.56 L612.56,195.44 L613.81,195.41 L615.05,195.46 L616.29,195.58 L617.53,195.79 L618.77,196.08 L620.01,196.45 L621.25,196.89 L622.49,197.42 L623.73,198.01 L624.97,198.68 L626.21,199.41 L627.45,200.21 L628.7,201.07 L629.94,201.98 L631.18,202.94 L632.42,203.95 L633.66,204.99 L634.9,206.07 L636.14,207.18 L637.38,208.32 L638.62,209.47 L639.86,210.64 L641.1,211.82 L642.34,213.01 L643.59,214.2 L644.83,215.39 L646.07,216.58 L647.31,217.76 L648.55,218.94 L649.79,220.12 L651.03,221.29 L652.27,222.46 L653.51,223.62 L654.75,224.78 L655.99,225.93 L657.23,227.08 L658.48,228.22 L659.72,229.36 L660.96,230.5 L662.2,231.63 L663.44,232.76 L664.68,233.89 L665.92,235.01 L667.16,236.13 L668.4,237.24 L669.64,238.34 L670.88,239.43 L672.12,240.52 L673.37,241.59 L674.61,242.65 L675.85,243.69 L677.09,244.71 L678.33,245.72 L679.57,246.7 L680.81,247.66 L682.05,248.6 L683.29,249.51 L684.53,250.39 L685.77,251.25 L687.01,252.08 L688.26,252.88 L689.5,253.66 L690.74,254.41 L691.98,255.13 L693.22,255.82 L694.46,256.49 L695.7,257.14 L696.94,257.77 L698.18,258.38 L699.42,258.96 L700.66,259.53 L701.9,260.09 L703.15,260.63 L704.39,261.16 L705.63,261.68 L706.87,262.18 L708.11,262.68 L709.35,263.18 L710.59,263.66 L711.83,264.15 L713.07,264.63 L714.31,265.1 L715.55,265.57 L716.79,266.05 L718.04,266.52 L719.28,266.99 L720.52,267.46 L721.76,267.93 L723,268.4 L724.24,268.87 L725.48,269.35 L726.72,269.82 L727.96,270.3 L729.2,270.77 L730.44,271.25 L731.68,271.72 L732.93,272.2 L734.17,272.68 L735.41,273.15 L736.65,273.63 L737.89,274.11 L739.13,274.58 L740.37,275.05 L741.61,275.53 L742.85,276 L744.09,276.46 L745.33,276.92 L746.57,277.38 L747.82,277.83 L749.06,278.28 L750.3,278.72 L751.54,279.16 L752.78,279.59 L754.02,280.01 L755.26,280.42 L756.5,280.83 L757.74,281.23 L758.98,281.62 L760.22,282.01 L761.46,282.38 L762.71,282.74 L763.95,283.1 L765.19,283.44 L766.43,283.74 L766.74,283.82"/>
</g>
<path d="M469,10.5 H766.8 V307.6 H469 Z M469,307.6 v9.5 M469,10.5 v-9.5 M481.41,307.6 v4.5 M481.41,10.5 v-4.5 M493.82,307.6 v4.5 M493.82,10.5 v-4.5 M506.23,307.6 v9.5 M506.23,10.5 v-9.5 M518.63,307.6 v4.5 M518.63,10.5 v-4.5 M531.04,307.6 v4.5 M531.04,10.5 v-4.5 M543.45,307.6 v9.5 M543.45,10.5 v-9.5 M555.86,307.6 v4.5 M555.86,10.5 v-4.5 M568.27,307.6 v4.5 M568.27,10.5 v-4.5 M580.67,307.6 v9.5 M580.67,10.5 v-9.5 M593.08,307.6 v4.5 M593.08,10.5 v-4.5 M605.49,307.6 v4.5 M605.49,10.5 v-4.5 M617.9,307.6 v9.5 M617.9,10.5 v-9.5 M630.31,307.6 v4.5 M630.31,10.5 v-4.5 M642.72,307.6 v4.5 M642.72,10.5 v-4.5 M655.12,307.6 v9.5 M655.12,10.5 v-9.5 M667.53,307.6 v4.5 M667.53,10.5 v-4.5 M679.94,307.6 v4.5 M679.94,10.5 v-4.5 M692.35,307.6 v9.5 M692.35,10.5 v-9.5 M704.76,307.6 v4.5 M704.76,10.5 v-4.5 M717.17,307.6 v4.5 M717.17,10.5 v-4.5 M729.57,307.6 v9.5 M729.57,10.5 v-9.5 M741.98,307.6 v4.5 M741.98,10.5 v-4.5 M754.39,307.6 v4.5 M754.39,10.5 v-4.5 M766.8,307.6 v9.5 M766.8,10.5 v-9.5 M469,307.6 h-10 M766.8,307.6 h10 M469,296.99 h-5 M766.8,296.99 h5 M469,286.38 h-10 M766.8,286.38 h10 M469,275.77 h-5 M766.8,275.77 h5 M469,265.16 h-10 M766.8,265.16 h10 M469,254.55 h-5 M766.8,254.55 h5 M469,243.94 h-10 M766.8,243.94 h10 M469,233.33 h-5 M766.8,233.33 h5 M469,222.71 h-10 M766.8,222.71 h10 M469,212.1 h-5 M766.8,212.1 h5 M469,201.49 h-10 M766.8,201.49 h10 M469,190.88 h-5 M766.8,190.88 h5 M469,180.27 h-10 M766.8,180.27 h10 M469,169.66 h-5 M766.8,169.66 h5 M469,159.05 h-10 M766.8,159.05 h10 M469,148.44 h-5 M766.8,148.44 h5 M469,137.83 h-10 M766.8,137.83 h10 M469,127.22 h-5 M766.8,127.22 h5 M469,116.61 h-10 M766.8,116.61 h10 M469,106 h-5 M766.8,106 h5 M469,95.39 h-10 M766.8,95.39 h10 M469,84.78 h-5 M766.8,84.78 h5 M469,74.16 h-10 M766.8,74.16 h10 M469,63.55 h-5 M766.8,63.55 h5 M469,52.94 h-10 M766.8,52.94 h10 M469,42.33 h-5 M766.8,42.33 h5 M469,31.72 h-10 M766.8,31.72 h10 M469,21.11 h-5 M766.8,21.11 h5 M469,10.5 h-10 M766.8,10.5 h10" fill="none" stroke="#000" stroke-width="2.5" stroke-linecap="round"/>
<text x="469" y="336.5" text-anchor="middle" class="tl">0</text>
<text x="506.23" y="336.5" text-anchor="middle" class="tl">3</text>
<text x="543.45" y="336.5" text-anchor="middle" class="tl">6</text>
<text x="580.67" y="336.5" text-anchor="middle" class="tl">9</text>
<text x="617.9" y="336.5" text-anchor="middle" class="tl">12</text>
<text x="655.12" y="336.5" text-anchor="middle" class="tl">15</text>
<text x="692.35" y="336.5" text-anchor="middle" class="tl">18</text>
<text x="729.57" y="336.5" text-anchor="middle" class="tl">21</text>
<text x="766.8" y="336.5" text-anchor="middle" class="tl">24</text>
<text x="453.5" y="313.2" text-anchor="end" class="tl">0</text>
<text x="453.5" y="270.76" text-anchor="end" class="tl">2</text>
<text x="453.5" y="228.31" text-anchor="end" class="tl">4</text>
<text x="453.5" y="185.87" text-anchor="end" class="tl">6</text>
<text x="453.5" y="143.43" text-anchor="end" class="tl">8</text>
<text x="453.5" y="100.99" text-anchor="end" class="tl">10</text>
<text x="453.5" y="58.54" text-anchor="end" class="tl">12</text>
<text x="453.5" y="16.1" text-anchor="end" class="tl">14</text>
<text x="618" y="355.5" text-anchor="middle" class="at">Time (Hour)</text>
<text transform="translate(426.5,265.9) rotate(-90)" class="yt">Heat Flow Rate (mW. g<tspan font-size="9.5" dx="1.5" dy="3.8">Cem</tspan><tspan font-size="9.5" dx="0.5" dy="-9.3">-1</tspan><tspan dx="0.6" dy="5.5">)</tspan></text>
<text x="627.7" y="387.9" text-anchor="middle" class="pl">(B)</text>
<text x="708.9" y="36.9" text-anchor="middle" class="lg">Cement #1</text>
<text x="708.9" y="55.4" text-anchor="middle" class="lg">MK + F-LS</text>
<path d="M659.1,70.7 H683" stroke="#808080" stroke-width="3"/>
<text x="687.8" y="76" class="lg">0%</text>
<path d="M659.1,91.6 H683" stroke="#000000" stroke-width="3"/>
<text x="687.8" y="96.9" class="lg">10%-10%</text>
<path d="M659.1,112.5 H683" stroke="#ff0000" stroke-width="3"/>
<text x="687.8" y="117.8" class="lg">15%-15%</text>
<path d="M659.1,133.4 H683" stroke="#0000ff" stroke-width="3"/>
<text x="687.8" y="138.7" class="lg">20%-20%</text>
<path d="M659.1,154.3 H683" stroke="#00ff00" stroke-width="3"/>
<text x="687.8" y="159.6" class="lg">25%-25%</text>
<path d="M659.1,175.2 H683" stroke="#ff6600" stroke-width="3"/>
<text x="687.8" y="180.5" class="lg">30%-30%</text>
<path d="M659.1,196.1 H683" stroke="#8800cc" stroke-width="3"/>
<text x="687.8" y="201.4" class="lg">20%-10%</text>
<path d="M659.1,217 H683" stroke="#ff99cc" stroke-width="3"/>
<text x="687.8" y="222.3" class="lg">40%-20%</text>
<clipPath id="cC"><rect x="56.5" y="433.5" width="294.1" height="293.5"/></clipPath>
<g clip-path="url(#cC)" fill="none" stroke-width="2.6" stroke-linejoin="round" stroke-linecap="round">
<path stroke="#ff99cc" d="M56.5,727 L57.6,666.2 L58.83,668.74 L60.05,671.3 L61.28,673.78 L62.5,676.09 L63.73,678.3 L64.96,680.39 L66.18,682.3 L67.41,684.04 L68.63,685.61 L69.86,686.97 L71.08,688.13 L72.31,689.08 L73.53,689.83 L74.76,690.37 L75.98,690.69 L77.21,690.81 L78.43,690.77 L79.66,690.59 L80.89,690.25 L82.11,689.65 L83.34,688.71 L84.56,687.35 L85.79,685.48 L87.01,683.01 L88.24,679.92 L89.46,676.25 L90.69,672.12 L91.91,667.72 L93.14,663.2 L94.37,658.72 L95.59,654.33 L96.82,650.03 L98.04,645.74 L99.27,641.34 L100.49,636.72 L101.72,631.8 L102.94,626.55 L104.17,620.96 L105.39,615.11 L106.62,609.09 L107.84,603.05 L109.07,597.16 L110.3,591.58 L111.52,586.45 L112.75,581.87 L113.97,577.92 L115.2,574.61 L116.42,571.92 L117.65,569.8 L118.87,568.18 L120.1,566.97 L121.32,566.1 L122.55,565.51 L123.78,565.16 L125,565.02 L126.23,565.08 L127.45,565.32 L128.68,565.73 L129.9,566.3 L131.13,567.01 L132.35,567.86 L133.58,568.83 L134.8,569.92 L136.03,571.11 L137.25,572.41 L138.48,573.8 L139.71,575.26 L140.93,576.79 L142.16,578.37 L143.38,579.99 L144.61,581.63 L145.83,583.28 L147.06,584.92 L148.28,586.55 L149.51,588.13 L150.73,589.65 L151.96,591.12 L153.19,592.51 L154.41,593.83 L155.64,595.08 L156.86,596.27 L158.09,597.39 L159.31,598.45 L160.54,599.47 L161.76,600.43 L162.99,601.34 L164.21,602.21 L165.44,603.03 L166.66,603.81 L167.89,604.56 L169.12,605.28 L170.34,605.98 L171.57,606.66 L172.79,607.34 L174.02,608 L175.24,608.66 L176.47,609.32 L177.69,609.96 L178.92,610.6 L180.14,611.21 L181.37,611.82 L182.6,612.4 L183.82,612.95 L185.05,613.48 L186.27,613.98 L187.5,614.46 L188.72,614.92 L189.95,615.37 L191.17,615.83 L192.4,616.3 L193.62,616.81 L194.85,617.36 L196.07,617.97 L197.3,618.64 L198.53,619.38 L199.75,620.17 L200.98,621.01 L202.2,621.88 L203.43,622.77 L204.65,623.66 L205.88,624.53 L207.1,625.38 L208.33,626.19 L209.55,626.98 L210.78,627.73 L212.01,628.46 L213.23,629.17 L214.46,629.87 L215.68,630.56 L216.91,631.24 L218.13,631.93 L219.36,632.61 L220.58,633.3 L221.81,633.98 L223.03,634.66 L224.26,635.35 L225.48,636.02 L226.71,636.68 L227.94,637.34 L229.16,637.98 L230.39,638.6 L231.61,639.2 L232.84,639.79 L234.06,640.37 L235.29,640.95 L236.51,641.53 L237.74,642.13 L238.96,642.75 L240.19,643.39 L241.42,644.07 L242.64,644.78 L243.87,645.51 L245.09,646.28 L246.32,647.07 L247.54,647.88 L248.77,648.7 L249.99,649.53 L251.22,650.37 L252.44,651.21 L253.67,652.05 L254.89,652.88 L256.12,653.71 L257.35,654.53 L258.57,655.34 L259.8,656.14 L261.02,656.94 L262.25,657.74 L263.47,658.54 L264.7,659.34 L265.92,660.14 L267.15,660.93 L268.37,661.73 L269.6,662.52 L270.83,663.29 L272.05,664.06 L273.28,664.8 L274.5,665.52 L275.73,666.22 L276.95,666.89 L278.18,667.54 L279.4,668.17 L280.63,668.77 L281.85,669.35 L283.08,669.92 L284.3,670.48 L285.53,671.03 L286.76,671.56 L287.98,672.09 L289.21,672.62 L290.43,673.13 L291.66,673.64 L292.88,674.13 L294.11,674.63 L295.33,675.11 L296.56,675.59 L297.78,676.06 L299.01,676.52 L300.24,676.97 L301.46,677.42 L302.69,677.87 L303.91,678.3 L305.14,678.73 L306.36,679.16 L307.59,679.57 L308.81,679.99 L310.04,680.39 L311.26,680.79 L312.49,681.19 L313.71,681.58 L314.94,681.97 L316.17,682.35 L317.39,682.73 L318.62,683.1 L319.84,683.47 L321.07,683.83 L322.29,684.19 L323.52,684.54 L324.74,684.89 L325.97,685.24 L327.19,685.58 L328.42,685.91 L329.65,686.24 L330.87,686.57 L332.1,686.89 L333.32,687.2 L334.55,687.51 L335.77,687.82 L337,688.12 L338.22,688.42 L339.45,688.71 L340.67,689 L341.9,689.28 L343.12,689.56 L344.35,689.83 L345.58,690.11 L346.8,690.37 L348.03,690.63 L349.25,690.89 L350.48,691.13"/>
<path stroke="#8800cc" d="M56.5,727 L58.22,678.99 L59.44,683.78 L60.67,688.66 L61.89,692.54 L63.12,695.17 L64.34,697.22 L65.57,698.84 L66.79,700.08 L68.02,701.05 L69.24,701.84 L70.47,702.53 L71.7,703.15 L72.92,703.7 L74.15,704.15 L75.37,704.48 L76.6,704.69 L77.82,704.77 L79.05,704.78 L80.27,704.72 L81.5,704.63 L82.72,704.51 L83.95,704.37 L85.17,704.21 L86.4,704.02 L87.63,703.82 L88.85,703.59 L90.08,703.36 L91.3,703.11 L92.53,702.84 L93.75,702.5 L94.98,702.07 L96.2,701.53 L97.43,700.87 L98.65,700.1 L99.88,699.22 L101.11,698.27 L102.33,697.24 L103.56,696.16 L104.78,695.04 L106.01,693.88 L107.23,692.7 L108.46,691.49 L109.68,690.2 L110.91,688.83 L112.13,687.34 L113.36,685.74 L114.58,684.04 L115.81,682.25 L117.04,680.38 L118.26,678.45 L119.49,676.45 L120.71,674.41 L121.94,672.34 L123.16,670.23 L124.39,668.08 L125.61,665.87 L126.84,663.57 L128.06,661.17 L129.29,658.62 L130.52,655.9 L131.74,652.92 L132.97,649.6 L134.19,645.88 L135.42,641.82 L136.64,637.53 L137.87,633.18 L139.09,628.95 L140.32,625.02 L141.54,621.47 L142.77,618.31 L143.99,615.48 L145.22,612.88 L146.45,610.43 L147.67,608.1 L148.9,605.89 L150.12,603.79 L151.35,601.8 L152.57,599.91 L153.8,598.12 L155.02,596.44 L156.25,594.86 L157.47,593.35 L158.7,591.89 L159.93,590.47 L161.15,589.04 L162.38,587.58 L163.6,586.06 L164.83,584.51 L166.05,582.96 L167.28,581.44 L168.5,580.03 L169.73,578.76 L170.95,577.69 L172.18,576.83 L173.4,576.16 L174.63,575.63 L175.86,575.18 L177.08,574.76 L178.31,574.38 L179.53,574.04 L180.76,573.75 L181.98,573.51 L183.21,573.36 L184.43,573.34 L185.66,573.52 L186.88,573.98 L188.11,574.7 L189.34,575.68 L190.56,576.86 L191.79,578.32 L193.01,580.29 L194.24,583.13 L195.46,587.28 L196.69,592.88 L197.91,599.62 L199.14,606.69 L200.36,613.2 L201.59,618.72 L202.81,623.33 L204.04,627.37 L205.27,631.1 L206.49,634.57 L207.72,637.58 L208.94,639.93 L210.17,641.56 L211.39,642.6 L212.62,643.3 L213.84,643.84 L215.07,644.31 L216.29,644.71 L217.52,645.03 L218.75,645.28 L219.97,645.45 L221.2,645.58 L222.42,645.67 L223.65,645.75 L224.87,645.82 L226.1,645.88 L227.32,645.93 L228.55,645.97 L229.77,646.01 L231,646.05 L232.22,646.1 L233.45,646.14 L234.68,646.19 L235.9,646.24 L237.13,646.31 L238.35,646.38 L239.58,646.48 L240.8,646.59 L242.03,646.73 L243.25,646.89 L244.48,647.08 L245.7,647.28 L246.93,647.51 L248.16,647.75 L249.38,648.01 L250.61,648.28 L251.83,648.56 L253.06,648.85 L254.28,649.14 L255.51,649.44 L256.73,649.74 L257.96,650.04 L259.18,650.33 L260.41,650.63 L261.63,650.93 L262.86,651.24 L264.09,651.56 L265.31,651.89 L266.54,652.24 L267.76,652.58 L268.99,652.94 L270.21,653.3 L271.44,653.67 L272.66,654.05 L273.89,654.43 L275.11,654.81 L276.34,655.2 L277.57,655.59 L278.79,655.98 L280.02,656.38 L281.24,656.78 L282.47,657.17 L283.69,657.57 L284.92,657.97 L286.14,658.36 L287.37,658.75 L288.59,659.14 L289.82,659.53 L291.04,659.92 L292.27,660.32 L293.5,660.71 L294.72,661.11 L295.95,661.51 L297.17,661.92 L298.4,662.32 L299.62,662.73 L300.85,663.14 L302.07,663.56 L303.3,663.97 L304.52,664.38 L305.75,664.79 L306.98,665.21 L308.2,665.62 L309.43,666.03 L310.65,666.44 L311.88,666.84 L313.1,667.25 L314.33,667.65 L315.55,668.05 L316.78,668.45 L318,668.84 L319.23,669.23 L320.45,669.62 L321.68,670.01 L322.91,670.41 L324.13,670.81 L325.36,671.21 L326.58,671.61 L327.81,672.02 L329.03,672.42 L330.26,672.83 L331.48,673.23 L332.71,673.63 L333.93,674.02 L335.16,674.41 L336.39,674.8 L337.61,675.18 L338.84,675.55 L340.06,675.91 L341.29,676.27 L342.51,676.62 L343.74,676.95 L344.96,677.28 L346.19,677.59 L347.41,677.89 L348.64,678.17 L349.86,678.44 L350.48,678.55"/>
<path stroke="#ff6600" d="M56.5,727 L57.6,663.69 L58.83,666.44 L60.05,669.23 L61.28,671.93 L62.5,674.45 L63.73,676.86 L64.96,679.15 L66.18,681.26 L67.41,683.22 L68.63,685.03 L69.86,686.61 L71.08,687.95 L72.31,689.03 L73.53,689.86 L74.76,690.5 L75.98,690.94 L77.21,691.12 L78.43,690.87 L79.66,689.97 L80.89,688.2 L82.11,685.49 L83.34,681.97 L84.56,677.95 L85.79,673.78 L87.01,669.71 L88.24,665.85 L89.46,662.24 L90.69,658.8 L91.91,655.4 L93.14,651.83 L94.37,647.87 L95.59,643.33 L96.82,638.15 L98.04,632.37 L99.27,626.11 L100.49,619.47 L101.72,612.52 L102.94,605.29 L104.17,597.83 L105.39,590.2 L106.62,582.45 L107.84,574.71 L109.07,567.11 L110.3,559.82 L111.52,553.06 L112.75,547.06 L113.97,542.06 L115.2,538.19 L116.42,535.45 L117.65,533.75 L118.87,533.01 L120.1,533.12 L121.32,533.98 L122.55,535.43 L123.78,537.23 L125,539.18 L126.23,541.21 L127.45,543.38 L128.68,545.91 L129.9,549.02 L131.13,552.9 L132.35,557.54 L133.58,562.78 L134.8,568.3 L136.03,573.75 L137.25,578.88 L138.48,583.55 L139.71,587.77 L140.93,591.59 L142.16,595.09 L143.38,598.3 L144.61,601.26 L145.83,603.95 L147.06,606.33 L148.28,608.42 L149.51,610.22 L150.73,611.73 L151.96,612.97 L153.19,613.91 L154.41,614.56 L155.64,614.95 L156.86,615.15 L158.09,615.24 L159.31,615.3 L160.54,615.34 L161.76,615.39 L162.99,615.44 L164.21,615.49 L165.44,615.53 L166.66,615.57 L167.89,615.61 L169.12,615.65 L170.34,615.69 L171.57,615.73 L172.79,615.76 L174.02,615.79 L175.24,615.82 L176.47,615.84 L177.69,615.86 L178.92,615.89 L180.14,615.91 L181.37,615.94 L182.6,615.98 L183.82,616.04 L185.05,616.16 L186.27,616.35 L187.5,616.63 L188.72,617 L189.95,617.45 L191.17,617.96 L192.4,618.5 L193.62,619.06 L194.85,619.62 L196.07,620.17 L197.3,620.72 L198.53,621.29 L199.75,621.87 L200.98,622.47 L202.2,623.08 L203.43,623.71 L204.65,624.34 L205.88,624.96 L207.1,625.58 L208.33,626.19 L209.55,626.78 L210.78,627.37 L212.01,627.96 L213.23,628.54 L214.46,629.13 L215.68,629.72 L216.91,630.32 L218.13,630.93 L219.36,631.56 L220.58,632.21 L221.81,632.87 L223.03,633.56 L224.26,634.25 L225.48,634.95 L226.71,635.64 L227.94,636.32 L229.16,636.97 L230.39,637.59 L231.61,638.16 L232.84,638.7 L234.06,639.21 L235.29,639.7 L236.51,640.2 L237.74,640.72 L238.96,641.28 L240.19,641.89 L241.42,642.55 L242.64,643.28 L243.87,644.05 L245.09,644.86 L246.32,645.71 L247.54,646.59 L248.77,647.49 L249.99,648.4 L251.22,649.33 L252.44,650.25 L253.67,651.18 L254.89,652.08 L256.12,652.98 L257.35,653.84 L258.57,654.69 L259.8,655.51 L261.02,656.31 L262.25,657.11 L263.47,657.9 L264.7,658.69 L265.92,659.48 L267.15,660.26 L268.37,661.04 L269.6,661.81 L270.83,662.56 L272.05,663.31 L273.28,664.03 L274.5,664.74 L275.73,665.42 L276.95,666.08 L278.18,666.72 L279.4,667.34 L280.63,667.94 L281.85,668.52 L283.08,669.1 L284.3,669.66 L285.53,670.22 L286.76,670.77 L287.98,671.32 L289.21,671.86 L290.43,672.39 L291.66,672.91 L292.88,673.43 L294.11,673.94 L295.33,674.44 L296.56,674.94 L297.78,675.43 L299.01,675.91 L300.24,676.38 L301.46,676.85 L302.69,677.31 L303.91,677.77 L305.14,678.21 L306.36,678.65 L307.59,679.09 L308.81,679.51 L310.04,679.93 L311.26,680.34 L312.49,680.75 L313.71,681.15 L314.94,681.54 L316.17,681.93 L317.39,682.31 L318.62,682.68 L319.84,683.05 L321.07,683.41 L322.29,683.76 L323.52,684.11 L324.74,684.45 L325.97,684.79 L327.19,685.12 L328.42,685.44 L329.65,685.76 L330.87,686.07 L332.1,686.38 L333.32,686.69 L334.55,686.99 L335.77,687.28 L337,687.57 L338.22,687.86 L339.45,688.14 L340.67,688.42 L341.9,688.69 L343.12,688.96 L344.35,689.23 L345.58,689.49 L346.8,689.75 L348.03,690.01 L349.25,690.26 L350.48,690.5"/>
<path stroke="#00ff00" d="M56.5,727 L57.6,688.43 L58.83,689.79 L60.05,691.19 L61.28,692.51 L62.5,693.68 L63.73,694.76 L64.96,695.79 L66.18,696.77 L67.41,697.66 L68.63,698.47 L69.86,699.22 L71.08,699.93 L72.31,700.6 L73.53,701.19 L74.76,701.64 L75.98,701.93 L77.21,702.01 L78.43,701.87 L79.66,701.5 L80.89,700.92 L82.11,700.15 L83.34,699.2 L84.56,698.1 L85.79,696.86 L87.01,695.51 L88.24,694.06 L89.46,692.52 L90.69,690.91 L91.91,689.23 L93.14,687.5 L94.37,685.71 L95.59,683.87 L96.82,681.99 L98.04,680.09 L99.27,678.17 L100.49,676.21 L101.72,674.23 L102.94,672.19 L104.17,670.07 L105.39,667.86 L106.62,665.51 L107.84,663 L109.07,660.31 L110.3,657.4 L111.52,654.28 L112.75,650.94 L113.97,647.39 L115.2,643.66 L116.42,639.74 L117.65,635.71 L118.87,631.55 L120.1,627.35 L121.32,623.1 L122.55,618.87 L123.78,614.67 L125,610.53 L126.23,606.48 L127.45,602.55 L128.68,598.74 L129.9,595.07 L131.13,591.55 L132.35,588.2 L133.58,585 L134.8,581.98 L136.03,579.11 L137.25,576.4 L138.48,573.87 L139.71,571.5 L140.93,569.3 L142.16,567.24 L143.38,565.36 L144.61,563.6 L145.83,562 L147.06,560.56 L148.28,559.27 L149.51,558.13 L150.73,557.13 L151.96,556.27 L153.19,555.55 L154.41,554.95 L155.64,554.48 L156.86,554.14 L158.09,553.91 L159.31,553.8 L160.54,553.81 L161.76,553.92 L162.99,554.14 L164.21,554.47 L165.44,554.89 L166.66,555.41 L167.89,556.02 L169.12,556.73 L170.34,557.53 L171.57,558.42 L172.79,559.4 L174.02,560.47 L175.24,561.63 L176.47,562.88 L177.69,564.22 L178.92,565.64 L180.14,567.16 L181.37,568.77 L182.6,570.47 L183.82,572.26 L185.05,574.14 L186.27,576.11 L187.5,578.15 L188.72,580.28 L189.95,582.48 L191.17,584.74 L192.4,587.07 L193.62,589.45 L194.85,591.87 L196.07,594.33 L197.3,596.81 L198.53,599.3 L199.75,601.79 L200.98,604.28 L202.2,606.74 L203.43,609.17 L204.65,611.56 L205.88,613.89 L207.1,616.16 L208.33,618.35 L209.55,620.47 L210.78,622.5 L212.01,624.43 L213.23,626.26 L214.46,627.99 L215.68,629.62 L216.91,631.15 L218.13,632.58 L219.36,633.9 L220.58,635.13 L221.81,636.27 L223.03,637.33 L224.26,638.31 L225.48,639.22 L226.71,640.06 L227.94,640.85 L229.16,641.59 L230.39,642.28 L231.61,642.94 L232.84,643.58 L234.06,644.19 L235.29,644.78 L236.51,645.36 L237.74,645.93 L238.96,646.5 L240.19,647.07 L241.42,647.65 L242.64,648.23 L243.87,648.81 L245.09,649.41 L246.32,650.02 L247.54,650.64 L248.77,651.28 L249.99,651.92 L251.22,652.59 L252.44,653.26 L253.67,653.95 L254.89,654.64 L256.12,655.35 L257.35,656.07 L258.57,656.79 L259.8,657.52 L261.02,658.25 L262.25,658.99 L263.47,659.72 L264.7,660.46 L265.92,661.19 L267.15,661.92 L268.37,662.64 L269.6,663.35 L270.83,664.06 L272.05,664.76 L273.28,665.45 L274.5,666.12 L275.73,666.78 L276.95,667.43 L278.18,668.06 L279.4,668.68 L280.63,669.28 L281.85,669.87 L283.08,670.43 L284.3,670.98 L285.53,671.51 L286.76,672.02 L287.98,672.51 L289.21,672.99 L290.43,673.44 L291.66,673.88 L292.88,674.3 L294.11,674.71 L295.33,675.1 L296.56,675.47 L297.78,675.83 L299.01,676.18 L300.24,676.52 L301.46,676.85 L302.69,677.17 L303.91,677.49 L305.14,677.79 L306.36,678.1 L307.59,678.4 L308.81,678.7 L310.04,679 L311.26,679.3 L312.49,679.6 L313.71,679.9 L314.94,680.2 L316.17,680.5 L317.39,680.81 L318.62,681.12 L319.84,681.44 L321.07,681.76 L322.29,682.08 L323.52,682.41 L324.74,682.74 L325.97,683.07 L327.19,683.41 L328.42,683.76 L329.65,684.1 L330.87,684.45 L332.1,684.8 L333.32,685.14 L334.55,685.49 L335.77,685.83 L337,686.17 L338.22,686.5 L339.45,686.83 L340.67,687.16 L341.9,687.48 L343.12,687.79 L344.35,688.09 L345.58,688.38 L346.8,688.67 L348.03,688.95 L349.25,689.21 L350.48,689.45"/>
<path stroke="#0000ff" d="M56.5,727 L57.6,690.31 L58.83,692.4 L60.05,694.58 L61.28,696.49 L62.5,697.88 L63.73,698.98 L64.96,699.99 L66.18,700.9 L67.41,701.72 L68.63,702.42 L69.86,702.96 L71.08,703.37 L72.31,703.66 L73.53,703.87 L74.76,704.03 L75.98,704.15 L77.21,704.26 L78.43,704.34 L79.66,704.4 L80.89,704.41 L82.11,704.35 L83.34,704.21 L84.56,703.98 L85.79,703.65 L87.01,703.22 L88.24,702.68 L89.46,702.04 L90.69,701.28 L91.91,700.41 L93.14,699.42 L94.37,698.32 L95.59,697.12 L96.82,695.82 L98.04,694.43 L99.27,692.98 L100.49,691.47 L101.72,689.91 L102.94,688.31 L104.17,686.69 L105.39,685.04 L106.62,683.36 L107.84,681.68 L109.07,679.97 L110.3,678.24 L111.52,676.47 L112.75,674.66 L113.97,672.8 L115.2,670.86 L116.42,668.83 L117.65,666.71 L118.87,664.47 L120.1,662.13 L121.32,659.67 L122.55,657.12 L123.78,654.45 L125,651.72 L126.23,648.91 L127.45,646.06 L128.68,643.19 L129.9,640.31 L131.13,637.44 L132.35,634.62 L133.58,631.84 L134.8,629.13 L136.03,626.48 L137.25,623.92 L138.48,621.44 L139.71,619.04 L140.93,616.74 L142.16,614.51 L143.38,612.37 L144.61,610.29 L145.83,608.29 L147.06,606.38 L148.28,604.55 L149.51,602.8 L150.73,601.12 L151.96,599.52 L153.19,597.98 L154.41,596.52 L155.64,595.12 L156.86,593.79 L158.09,592.53 L159.31,591.33 L160.54,590.21 L161.76,589.17 L162.99,588.2 L164.21,587.31 L165.44,586.51 L166.66,585.79 L167.89,585.17 L169.12,584.63 L170.34,584.18 L171.57,583.82 L172.79,583.56 L174.02,583.38 L175.24,583.29 L176.47,583.29 L177.69,583.38 L178.92,583.54 L180.14,583.78 L181.37,584.1 L182.6,584.49 L183.82,584.94 L185.05,585.47 L186.27,586.05 L187.5,586.7 L188.72,587.41 L189.95,588.18 L191.17,589.01 L192.4,589.9 L193.62,590.85 L194.85,591.85 L196.07,592.91 L197.3,594.02 L198.53,595.18 L199.75,596.4 L200.98,597.66 L202.2,598.97 L203.43,600.32 L204.65,601.71 L205.88,603.13 L207.1,604.58 L208.33,606.05 L209.55,607.55 L210.78,609.06 L212.01,610.59 L213.23,612.12 L214.46,613.66 L215.68,615.2 L216.91,616.74 L218.13,618.28 L219.36,619.81 L220.58,621.33 L221.81,622.84 L223.03,624.33 L224.26,625.81 L225.48,627.28 L226.71,628.72 L227.94,630.15 L229.16,631.56 L230.39,632.94 L231.61,634.3 L232.84,635.63 L234.06,636.94 L235.29,638.23 L236.51,639.48 L237.74,640.71 L238.96,641.91 L240.19,643.09 L241.42,644.24 L242.64,645.36 L243.87,646.46 L245.09,647.53 L246.32,648.58 L247.54,649.61 L248.77,650.61 L249.99,651.59 L251.22,652.55 L252.44,653.5 L253.67,654.43 L254.89,655.34 L256.12,656.24 L257.35,657.12 L258.57,658 L259.8,658.86 L261.02,659.72 L262.25,660.57 L263.47,661.41 L264.7,662.24 L265.92,663.08 L267.15,663.9 L268.37,664.72 L269.6,665.54 L270.83,666.35 L272.05,667.15 L273.28,667.95 L274.5,668.73 L275.73,669.51 L276.95,670.27 L278.18,671.02 L279.4,671.75 L280.63,672.47 L281.85,673.16 L283.08,673.83 L284.3,674.48 L285.53,675.1 L286.76,675.7 L287.98,676.27 L289.21,676.82 L290.43,677.33 L291.66,677.83 L292.88,678.29 L294.11,678.74 L295.33,679.16 L296.56,679.55 L297.78,679.93 L299.01,680.29 L300.24,680.64 L301.46,680.97 L302.69,681.29 L303.91,681.6 L305.14,681.9 L306.36,682.2 L307.59,682.49 L308.81,682.78 L310.04,683.07 L311.26,683.35 L312.49,683.64 L313.71,683.94 L314.94,684.23 L316.17,684.52 L317.39,684.82 L318.62,685.12 L319.84,685.43 L321.07,685.75 L322.29,686.07 L323.52,686.39 L324.74,686.72 L325.97,687.05 L327.19,687.39 L328.42,687.74 L329.65,688.08 L330.87,688.43 L332.1,688.78 L333.32,689.13 L334.55,689.47 L335.77,689.81 L337,690.15 L338.22,690.49 L339.45,690.82 L340.67,691.14 L341.9,691.46 L343.12,691.77 L344.35,692.07 L345.58,692.37 L346.8,692.65 L348.03,692.93 L349.25,693.2 L350.48,693.43"/>
<path stroke="#ff0000" d="M56.5,727 L57.6,700.59 L58.83,702.14 L60.05,703.8 L61.28,705.16 L62.5,705.92 L63.73,706.39 L64.96,706.76 L66.18,707.09 L67.41,707.37 L68.63,707.6 L69.86,707.77 L71.08,707.87 L72.31,707.89 L73.53,707.83 L74.76,707.7 L75.98,707.49 L77.21,707.24 L78.43,706.96 L79.66,706.67 L80.89,706.38 L82.11,706.1 L83.34,705.84 L84.56,705.6 L85.79,705.37 L87.01,705.14 L88.24,704.9 L89.46,704.64 L90.69,704.34 L91.91,703.99 L93.14,703.59 L94.37,703.13 L95.59,702.6 L96.82,702 L98.04,701.35 L99.27,700.63 L100.49,699.85 L101.72,699 L102.94,698.1 L104.17,697.13 L105.39,696.09 L106.62,694.99 L107.84,693.81 L109.07,692.56 L110.3,691.24 L111.52,689.85 L112.75,688.38 L113.97,686.85 L115.2,685.25 L116.42,683.6 L117.65,681.89 L118.87,680.13 L120.1,678.32 L121.32,676.47 L122.55,674.57 L123.78,672.62 L125,670.62 L126.23,668.57 L127.45,666.47 L128.68,664.31 L129.9,662.08 L131.13,659.8 L132.35,657.45 L133.58,655.04 L134.8,652.56 L136.03,650.04 L137.25,647.46 L138.48,644.83 L139.71,642.17 L140.93,639.48 L142.16,636.77 L143.38,634.05 L144.61,631.35 L145.83,628.65 L147.06,625.97 L148.28,623.31 L149.51,620.7 L150.73,618.13 L151.96,615.63 L153.19,613.19 L154.41,610.83 L155.64,608.56 L156.86,606.39 L158.09,604.32 L159.31,602.36 L160.54,600.52 L161.76,598.79 L162.99,597.19 L164.21,595.72 L165.44,594.37 L166.66,593.14 L167.89,592.04 L169.12,591.07 L170.34,590.21 L171.57,589.47 L172.79,588.85 L174.02,588.33 L175.24,587.92 L176.47,587.6 L177.69,587.38 L178.92,587.24 L180.14,587.19 L181.37,587.21 L182.6,587.31 L183.82,587.48 L185.05,587.72 L186.27,588.03 L187.5,588.4 L188.72,588.84 L189.95,589.33 L191.17,589.89 L192.4,590.51 L193.62,591.19 L194.85,591.93 L196.07,592.73 L197.3,593.59 L198.53,594.5 L199.75,595.48 L200.98,596.51 L202.2,597.59 L203.43,598.73 L204.65,599.92 L205.88,601.15 L207.1,602.43 L208.33,603.76 L209.55,605.12 L210.78,606.51 L212.01,607.94 L213.23,609.38 L214.46,610.84 L215.68,612.31 L216.91,613.78 L218.13,615.25 L219.36,616.72 L220.58,618.16 L221.81,619.59 L223.03,621 L224.26,622.38 L225.48,623.73 L226.71,625.05 L227.94,626.33 L229.16,627.58 L230.39,628.8 L231.61,629.99 L232.84,631.15 L234.06,632.28 L235.29,633.39 L236.51,634.48 L237.74,635.55 L238.96,636.61 L240.19,637.65 L241.42,638.69 L242.64,639.73 L243.87,640.77 L245.09,641.81 L246.32,642.85 L247.54,643.9 L248.77,644.96 L249.99,646.03 L251.22,647.1 L252.44,648.19 L253.67,649.28 L254.89,650.38 L256.12,651.49 L257.35,652.59 L258.57,653.7 L259.8,654.8 L261.02,655.9 L262.25,656.99 L263.47,658.07 L264.7,659.13 L265.92,660.17 L267.15,661.2 L268.37,662.21 L269.6,663.19 L270.83,664.15 L272.05,665.08 L273.28,665.98 L274.5,666.86 L275.73,667.71 L276.95,668.52 L278.18,669.31 L279.4,670.07 L280.63,670.8 L281.85,671.5 L283.08,672.16 L284.3,672.8 L285.53,673.41 L286.76,673.99 L287.98,674.54 L289.21,675.06 L290.43,675.56 L291.66,676.03 L292.88,676.48 L294.11,676.91 L295.33,677.31 L296.56,677.7 L297.78,678.06 L299.01,678.42 L300.24,678.76 L301.46,679.08 L302.69,679.4 L303.91,679.71 L305.14,680.01 L306.36,680.3 L307.59,680.59 L308.81,680.88 L310.04,681.17 L311.26,681.46 L312.49,681.75 L313.71,682.05 L314.94,682.34 L316.17,682.63 L317.39,682.93 L318.62,683.24 L319.84,683.54 L321.07,683.86 L322.29,684.18 L323.52,684.5 L324.74,684.83 L325.97,685.17 L327.19,685.51 L328.42,685.85 L329.65,686.2 L330.87,686.54 L332.1,686.89 L333.32,687.24 L334.55,687.59 L335.77,687.93 L337,688.27 L338.22,688.6 L339.45,688.93 L340.67,689.25 L341.9,689.57 L343.12,689.88 L344.35,690.19 L345.58,690.48 L346.8,690.77 L348.03,691.04 L349.25,691.31 L350.48,691.55"/>
<path stroke="#000000" d="M56.5,727 L57.6,694.51 L58.83,697.29 L60.05,700.27 L61.28,702.66 L62.5,703.86 L63.73,704.45 L64.96,704.86 L66.18,705.19 L67.41,705.48 L68.63,705.73 L69.86,705.93 L71.08,706.09 L72.31,706.22 L73.53,706.34 L74.76,706.43 L75.98,706.52 L77.21,706.6 L78.43,706.66 L79.66,706.72 L80.89,706.78 L82.11,706.84 L83.34,706.9 L84.56,706.96 L85.79,707.03 L87.01,707.1 L88.24,707.16 L89.46,707.21 L90.69,707.26 L91.91,707.29 L93.14,707.29 L94.37,707.23 L95.59,707.08 L96.82,706.85 L98.04,706.55 L99.27,706.19 L100.49,705.8 L101.72,705.38 L102.94,704.96 L104.17,704.5 L105.39,703.99 L106.62,703.4 L107.84,702.74 L109.07,702.01 L110.3,701.22 L111.52,700.37 L112.75,699.47 L113.97,698.49 L115.2,697.4 L116.42,696.16 L117.65,694.8 L118.87,693.31 L120.1,691.74 L121.32,690.1 L122.55,688.41 L123.78,686.68 L125,684.92 L126.23,683.08 L127.45,681.14 L128.68,679.1 L129.9,676.93 L131.13,674.62 L132.35,672.13 L133.58,669.4 L134.8,666.42 L136.03,663.24 L137.25,659.93 L138.48,656.55 L139.71,653.16 L140.93,649.81 L142.16,646.46 L143.38,643.08 L144.61,639.64 L145.83,636.18 L147.06,632.75 L148.28,629.41 L149.51,626.17 L150.73,623.03 L151.96,619.94 L153.19,616.87 L154.41,613.84 L155.64,610.87 L156.86,607.99 L158.09,605.23 L159.31,602.61 L160.54,600.15 L161.76,597.82 L162.99,595.58 L164.21,593.38 L165.44,591.22 L166.66,589.14 L167.89,587.18 L169.12,585.36 L170.34,583.74 L171.57,582.34 L172.79,581.19 L174.02,580.26 L175.24,579.5 L176.47,578.85 L177.69,578.28 L178.92,577.78 L180.14,577.3 L181.37,576.83 L182.6,576.33 L183.82,575.79 L185.05,575.17 L186.27,574.45 L187.5,573.59 L188.72,572.59 L189.95,571.44 L191.17,570.13 L192.4,568.48 L193.62,566.25 L194.85,563.57 L196.07,561.14 L197.3,559.82 L198.53,559.88 L199.75,560.98 L200.98,562.71 L202.2,565.08 L203.43,568.46 L204.65,573.02 L205.88,578.45 L207.1,584.23 L208.33,590.14 L209.55,596.27 L210.78,602.62 L212.01,608.94 L213.23,614.97 L214.46,620.71 L215.68,626.25 L216.91,631.52 L218.13,636.21 L219.36,640.03 L220.58,643.01 L221.81,645.42 L223.03,647.55 L224.26,649.48 L225.48,651.21 L226.71,652.71 L227.94,653.97 L229.16,654.99 L230.39,655.82 L231.61,656.5 L232.84,657.09 L234.06,657.62 L235.29,658.09 L236.51,658.51 L237.74,658.9 L238.96,659.26 L240.19,659.6 L241.42,659.92 L242.64,660.22 L243.87,660.5 L245.09,660.77 L246.32,661.02 L247.54,661.26 L248.77,661.49 L249.99,661.72 L251.22,661.93 L252.44,662.15 L253.67,662.36 L254.89,662.58 L256.12,662.79 L257.35,663.01 L258.57,663.24 L259.8,663.48 L261.02,663.72 L262.25,663.97 L263.47,664.21 L264.7,664.46 L265.92,664.7 L267.15,664.95 L268.37,665.2 L269.6,665.44 L270.83,665.69 L272.05,665.94 L273.28,666.18 L274.5,666.43 L275.73,666.67 L276.95,666.91 L278.18,667.16 L279.4,667.4 L280.63,667.64 L281.85,667.88 L283.08,668.11 L284.3,668.35 L285.53,668.58 L286.76,668.81 L287.98,669.03 L289.21,669.26 L290.43,669.48 L291.66,669.7 L292.88,669.92 L294.11,670.13 L295.33,670.34 L296.56,670.56 L297.78,670.76 L299.01,670.97 L300.24,671.18 L301.46,671.38 L302.69,671.59 L303.91,671.79 L305.14,671.99 L306.36,672.19 L307.59,672.4 L308.81,672.6 L310.04,672.8 L311.26,673 L312.49,673.2 L313.71,673.4 L314.94,673.6 L316.17,673.81 L317.39,674.01 L318.62,674.22 L319.84,674.42 L321.07,674.63 L322.29,674.83 L323.52,675.03 L324.74,675.24 L325.97,675.44 L327.19,675.64 L328.42,675.84 L329.65,676.04 L330.87,676.24 L332.1,676.44 L333.32,676.64 L334.55,676.84 L335.77,677.05 L337,677.25 L338.22,677.45 L339.45,677.66 L340.67,677.87 L341.9,678.07 L343.12,678.28 L344.35,678.5 L345.58,678.71 L346.8,678.93 L348.03,679.15 L349.25,679.37 L350.48,679.6"/>
<path stroke="#808080" d="M56.5,727 L57.6,708.97 L58.83,710.11 L60.05,711.3 L61.28,712.34 L62.5,713.08 L63.73,713.67 L64.96,714.14 L66.18,714.45 L67.41,714.6 L68.63,714.65 L69.86,714.63 L71.08,714.58 L72.31,714.5 L73.53,714.42 L74.76,714.31 L75.98,714.21 L77.21,714.1 L78.43,713.99 L79.66,713.88 L80.89,713.77 L82.11,713.66 L83.34,713.56 L84.56,713.45 L85.79,713.35 L87.01,713.24 L88.24,713.14 L89.46,713.03 L90.69,712.91 L91.91,712.79 L93.14,712.66 L94.37,712.51 L95.59,712.34 L96.82,712.15 L98.04,711.93 L99.27,711.68 L100.49,711.41 L101.72,711.1 L102.94,710.76 L104.17,710.38 L105.39,709.95 L106.62,709.48 L107.84,708.96 L109.07,708.37 L110.3,707.72 L111.52,707.01 L112.75,706.22 L113.97,705.36 L115.2,704.43 L116.42,703.42 L117.65,702.34 L118.87,701.18 L120.1,699.97 L121.32,698.68 L122.55,697.34 L123.78,695.93 L125,694.47 L126.23,692.95 L127.45,691.39 L128.68,689.78 L129.9,688.12 L131.13,686.43 L132.35,684.69 L133.58,682.93 L134.8,681.13 L136.03,679.31 L137.25,677.47 L138.48,675.61 L139.71,673.73 L140.93,671.83 L142.16,669.93 L143.38,668.01 L144.61,666.08 L145.83,664.14 L147.06,662.2 L148.28,660.26 L149.51,658.32 L150.73,656.37 L151.96,654.43 L153.19,652.49 L154.41,650.56 L155.64,648.63 L156.86,646.72 L158.09,644.81 L159.31,642.92 L160.54,641.04 L161.76,639.19 L162.99,637.36 L164.21,635.56 L165.44,633.79 L166.66,632.06 L167.89,630.37 L169.12,628.72 L170.34,627.13 L171.57,625.6 L172.79,624.12 L174.02,622.71 L175.24,621.37 L176.47,620.1 L177.69,618.9 L178.92,617.77 L180.14,616.72 L181.37,615.75 L182.6,614.85 L183.82,614.03 L185.05,613.29 L186.27,612.62 L187.5,612.02 L188.72,611.51 L189.95,611.06 L191.17,610.69 L192.4,610.38 L193.62,610.15 L194.85,609.99 L196.07,609.89 L197.3,609.86 L198.53,609.9 L199.75,610 L200.98,610.17 L202.2,610.4 L203.43,610.7 L204.65,611.06 L205.88,611.49 L207.1,611.98 L208.33,612.53 L209.55,613.15 L210.78,613.83 L212.01,614.57 L213.23,615.38 L214.46,616.24 L215.68,617.16 L216.91,618.14 L218.13,619.18 L219.36,620.26 L220.58,621.4 L221.81,622.59 L223.03,623.82 L224.26,625.09 L225.48,626.4 L226.71,627.74 L227.94,629.12 L229.16,630.53 L230.39,631.96 L231.61,633.42 L232.84,634.89 L234.06,636.38 L235.29,637.88 L236.51,639.38 L237.74,640.89 L238.96,642.4 L240.19,643.9 L241.42,645.4 L242.64,646.89 L243.87,648.36 L245.09,649.82 L246.32,651.26 L247.54,652.67 L248.77,654.07 L249.99,655.44 L251.22,656.78 L252.44,658.09 L253.67,659.37 L254.89,660.63 L256.12,661.85 L257.35,663.04 L258.57,664.19 L259.8,665.32 L261.02,666.41 L262.25,667.46 L263.47,668.49 L264.7,669.48 L265.92,670.43 L267.15,671.35 L268.37,672.24 L269.6,673.1 L270.83,673.92 L272.05,674.71 L273.28,675.48 L274.5,676.21 L275.73,676.92 L276.95,677.6 L278.18,678.26 L279.4,678.89 L280.63,679.5 L281.85,680.09 L283.08,680.66 L284.3,681.21 L285.53,681.74 L286.76,682.25 L287.98,682.75 L289.21,683.23 L290.43,683.7 L291.66,684.16 L292.88,684.6 L294.11,685.03 L295.33,685.46 L296.56,685.87 L297.78,686.27 L299.01,686.66 L300.24,687.05 L301.46,687.43 L302.69,687.8 L303.91,688.16 L305.14,688.52 L306.36,688.87 L307.59,689.22 L308.81,689.57 L310.04,689.9 L311.26,690.24 L312.49,690.57 L313.71,690.9 L314.94,691.22 L316.17,691.54 L317.39,691.86 L318.62,692.18 L319.84,692.49 L321.07,692.8 L322.29,693.11 L323.52,693.42 L324.74,693.73 L325.97,694.03 L327.19,694.33 L328.42,694.63 L329.65,694.93 L330.87,695.22 L332.1,695.52 L333.32,695.8 L334.55,696.09 L335.77,696.37 L337,696.65 L338.22,696.93 L339.45,697.2 L340.67,697.47 L341.9,697.74 L343.12,698 L344.35,698.26 L345.58,698.52 L346.8,698.78 L348.03,699.03 L349.25,699.28 L350.48,699.51"/>
</g>
<path d="M56.5,433.5 H350.6 V727 H56.5 Z M56.5,727 v9.5 M56.5,433.5 v-9.5 M68.75,727 v4.5 M68.75,433.5 v-4.5 M81.01,727 v4.5 M81.01,433.5 v-4.5 M93.26,727 v9.5 M93.26,433.5 v-9.5 M105.52,727 v4.5 M105.52,433.5 v-4.5 M117.77,727 v4.5 M117.77,433.5 v-4.5 M130.03,727 v9.5 M130.03,433.5 v-9.5 M142.28,727 v4.5 M142.28,433.5 v-4.5 M154.53,727 v4.5 M154.53,433.5 v-4.5 M166.79,727 v9.5 M166.79,433.5 v-9.5 M179.04,727 v4.5 M179.04,433.5 v-4.5 M191.3,727 v4.5 M191.3,433.5 v-4.5 M203.55,727 v9.5 M203.55,433.5 v-9.5 M215.8,727 v4.5 M215.8,433.5 v-4.5 M228.06,727 v4.5 M228.06,433.5 v-4.5 M240.31,727 v9.5 M240.31,433.5 v-9.5 M252.57,727 v4.5 M252.57,433.5 v-4.5 M264.82,727 v4.5 M264.82,433.5 v-4.5 M277.08,727 v9.5 M277.08,433.5 v-9.5 M289.33,727 v4.5 M289.33,433.5 v-4.5 M301.58,727 v4.5 M301.58,433.5 v-4.5 M313.84,727 v9.5 M313.84,433.5 v-9.5 M326.09,727 v4.5 M326.09,433.5 v-4.5 M338.35,727 v4.5 M338.35,433.5 v-4.5 M350.6,727 v9.5 M350.6,433.5 v-9.5 M56.5,727 h-10 M350.6,727 h10 M56.5,716.52 h-5 M350.6,716.52 h5 M56.5,706.04 h-10 M350.6,706.04 h10 M56.5,695.55 h-5 M350.6,695.55 h5 M56.5,685.07 h-10 M350.6,685.07 h10 M56.5,674.59 h-5 M350.6,674.59 h5 M56.5,664.11 h-10 M350.6,664.11 h10 M56.5,653.62 h-5 M350.6,653.62 h5 M56.5,643.14 h-10 M350.6,643.14 h10 M56.5,632.66 h-5 M350.6,632.66 h5 M56.5,622.18 h-10 M350.6,622.18 h10 M56.5,611.7 h-5 M350.6,611.7 h5 M56.5,601.21 h-10 M350.6,601.21 h10 M56.5,590.73 h-5 M350.6,590.73 h5 M56.5,580.25 h-10 M350.6,580.25 h10 M56.5,569.77 h-5 M350.6,569.77 h5 M56.5,559.29 h-10 M350.6,559.29 h10 M56.5,548.8 h-5 M350.6,548.8 h5 M56.5,538.32 h-10 M350.6,538.32 h10 M56.5,527.84 h-5 M350.6,527.84 h5 M56.5,517.36 h-10 M350.6,517.36 h10 M56.5,506.88 h-5 M350.6,506.88 h5 M56.5,496.39 h-10 M350.6,496.39 h10 M56.5,485.91 h-5 M350.6,485.91 h5 M56.5,475.43 h-10 M350.6,475.43 h10 M56.5,464.95 h-5 M350.6,464.95 h5 M56.5,454.46 h-10 M350.6,454.46 h10 M56.5,443.98 h-5 M350.6,443.98 h5 M56.5,433.5 h-10 M350.6,433.5 h10" fill="none" stroke="#000" stroke-width="2.5" stroke-linecap="round"/>
<text x="56.5" y="755.6" text-anchor="middle" class="tl">0</text>
<text x="93.26" y="755.6" text-anchor="middle" class="tl">3</text>
<text x="130.03" y="755.6" text-anchor="middle" class="tl">6</text>
<text x="166.79" y="755.6" text-anchor="middle" class="tl">9</text>
<text x="203.55" y="755.6" text-anchor="middle" class="tl">12</text>
<text x="240.31" y="755.6" text-anchor="middle" class="tl">15</text>
<text x="277.08" y="755.6" text-anchor="middle" class="tl">18</text>
<text x="313.84" y="755.6" text-anchor="middle" class="tl">21</text>
<text x="350.6" y="755.6" text-anchor="middle" class="tl">24</text>
<text x="41" y="732.6" text-anchor="end" class="tl">0</text>
<text x="41" y="690.67" text-anchor="end" class="tl">2</text>
<text x="41" y="648.74" text-anchor="end" class="tl">4</text>
<text x="41" y="606.81" text-anchor="end" class="tl">6</text>
<text x="41" y="564.89" text-anchor="end" class="tl">8</text>
<text x="41" y="522.96" text-anchor="end" class="tl">10</text>
<text x="41" y="481.03" text-anchor="end" class="tl">12</text>
<text x="41" y="439.1" text-anchor="end" class="tl">14</text>
<text x="203.6" y="774.2" text-anchor="middle" class="at">Time (Hour)</text>
<text transform="translate(14.6,686) rotate(-90)" class="yt">Heat Flow Rate (mW. g<tspan font-size="9.5" dx="1.5" dy="3.8">Cem</tspan><tspan font-size="9.5" dx="0.5" dy="-9.3">-1</tspan><tspan dx="0.6" dy="5.5">)</tspan></text>
<text x="208.6" y="806.6" text-anchor="middle" class="pl">(C)</text>
<text x="298.4" y="454.3" text-anchor="middle" class="lg">Cement #3</text>
<text x="298.4" y="472.5" text-anchor="middle" class="lg">MK + C-LS</text>
<path d="M248.6,488.5 H272.5" stroke="#808080" stroke-width="3"/>
<text x="277" y="493.8" class="lg">0%</text>
<path d="M248.6,509.14 H272.5" stroke="#000000" stroke-width="3"/>
<text x="277" y="514.44" class="lg">10%-10%</text>
<path d="M248.6,529.78 H272.5" stroke="#ff0000" stroke-width="3"/>
<text x="277" y="535.08" class="lg">15%-15%</text>
<path d="M248.6,550.42 H272.5" stroke="#0000ff" stroke-width="3"/>
<text x="277" y="555.72" class="lg">20%-20%</text>
<path d="M248.6,571.06 H272.5" stroke="#00ff00" stroke-width="3"/>
<text x="277" y="576.36" class="lg">25%-25%</text>
<path d="M248.6,591.7 H272.5" stroke="#ff6600" stroke-width="3"/>
<text x="277" y="597" class="lg">30%-30%</text>
<path d="M248.6,612.34 H272.5" stroke="#8800cc" stroke-width="3"/>
<text x="277" y="617.64" class="lg">20%-10%</text>
<path d="M248.6,632.98 H272.5" stroke="#ff99cc" stroke-width="3"/>
<text x="277" y="638.28" class="lg">40%-20%</text>
<clipPath id="cD"><rect x="470" y="433.5" width="294.2" height="293.5"/></clipPath>
<g clip-path="url(#cD)" fill="none" stroke-width="2.6" stroke-linejoin="round" stroke-linecap="round">
<path stroke="#ff99cc" d="M470,727 L471.96,666.2 L473.19,669.33 L474.41,672.67 L475.64,675.76 L476.86,678.06 L478.09,679.63 L479.32,680.91 L480.54,682.07 L481.77,683.13 L482.99,684.07 L484.22,684.91 L485.45,685.62 L486.67,686.12 L487.9,686.29 L489.12,686.05 L490.35,685.33 L491.57,684.1 L492.8,682.35 L494.03,680.11 L495.25,677.46 L496.48,674.47 L497.7,671.22 L498.93,667.77 L500.16,664.18 L501.38,660.47 L502.61,656.66 L503.83,652.75 L505.06,648.77 L506.28,644.71 L507.51,640.59 L508.74,636.43 L509.96,632.26 L511.19,628.11 L512.41,624.02 L513.64,619.99 L514.87,616.07 L516.09,612.27 L517.32,608.6 L518.54,605.09 L519.77,601.75 L520.99,598.58 L522.22,595.61 L523.45,592.83 L524.67,590.25 L525.9,587.86 L527.12,585.68 L528.35,583.69 L529.58,581.88 L530.8,580.26 L532.03,578.81 L533.25,577.51 L534.48,576.37 L535.7,575.35 L536.93,574.46 L538.16,573.69 L539.38,573.01 L540.61,572.43 L541.83,571.94 L543.06,571.53 L544.29,571.2 L545.51,570.96 L546.74,570.8 L547.96,570.72 L549.19,570.72 L550.41,570.8 L551.64,570.97 L552.87,571.22 L554.09,571.54 L555.32,571.95 L556.54,572.42 L557.77,572.96 L559,573.56 L560.22,574.22 L561.45,574.93 L562.67,575.69 L563.9,576.49 L565.12,577.32 L566.35,578.18 L567.58,579.06 L568.8,579.96 L570.03,580.86 L571.25,581.77 L572.48,582.68 L573.71,583.58 L574.93,584.47 L576.16,585.35 L577.38,586.22 L578.61,587.09 L579.83,587.95 L581.06,588.81 L582.29,589.67 L583.51,590.54 L584.74,591.43 L585.96,592.33 L587.19,593.26 L588.42,594.22 L589.64,595.22 L590.87,596.25 L592.09,597.32 L593.32,598.42 L594.54,599.57 L595.77,600.76 L597,601.98 L598.22,603.23 L599.45,604.51 L600.67,605.82 L601.9,607.14 L603.13,608.49 L604.35,609.85 L605.58,611.22 L606.8,612.61 L608.03,613.99 L609.25,615.38 L610.48,616.78 L611.71,618.17 L612.93,619.57 L614.16,620.96 L615.38,622.35 L616.61,623.74 L617.84,625.12 L619.06,626.49 L620.29,627.86 L621.51,629.21 L622.74,630.56 L623.96,631.88 L625.19,633.19 L626.42,634.48 L627.64,635.74 L628.87,636.98 L630.09,638.19 L631.32,639.37 L632.55,640.52 L633.77,641.64 L635,642.73 L636.22,643.79 L637.45,644.81 L638.67,645.81 L639.9,646.78 L641.13,647.71 L642.35,648.62 L643.58,649.5 L644.8,650.36 L646.03,651.19 L647.26,652 L648.48,652.79 L649.71,653.56 L650.93,654.31 L652.16,655.04 L653.38,655.76 L654.61,656.47 L655.84,657.16 L657.06,657.84 L658.29,658.5 L659.51,659.16 L660.74,659.8 L661.97,660.43 L663.19,661.05 L664.42,661.67 L665.64,662.27 L666.87,662.86 L668.09,663.44 L669.32,664.01 L670.55,664.58 L671.77,665.13 L673,665.67 L674.22,666.2 L675.45,666.73 L676.68,667.24 L677.9,667.74 L679.13,668.23 L680.35,668.71 L681.58,669.19 L682.8,669.65 L684.03,670.1 L685.26,670.54 L686.48,670.97 L687.71,671.4 L688.93,671.81 L690.16,672.22 L691.39,672.61 L692.61,673 L693.84,673.39 L695.06,673.76 L696.29,674.13 L697.51,674.49 L698.74,674.85 L699.97,675.2 L701.19,675.55 L702.42,675.89 L703.64,676.23 L704.87,676.56 L706.1,676.9 L707.32,677.23 L708.55,677.56 L709.77,677.88 L711,678.21 L712.22,678.53 L713.45,678.85 L714.68,679.17 L715.9,679.49 L717.13,679.81 L718.35,680.13 L719.58,680.45 L720.81,680.76 L722.03,681.08 L723.26,681.39 L724.48,681.7 L725.71,682.01 L726.93,682.32 L728.16,682.63 L729.39,682.93 L730.61,683.24 L731.84,683.54 L733.06,683.84 L734.29,684.14 L735.52,684.44 L736.74,684.74 L737.97,685.04 L739.19,685.33 L740.42,685.63 L741.64,685.92 L742.87,686.21 L744.1,686.5 L745.32,686.8 L746.55,687.09 L747.77,687.39 L749,687.68 L750.23,687.98 L751.45,688.28 L752.68,688.58 L753.9,688.88 L755.13,689.19 L756.35,689.5 L757.58,689.81 L758.81,690.13 L760.03,690.45 L761.26,690.77 L762.48,691.1 L763.71,691.43 L764.02,691.52"/>
<path stroke="#8800cc" d="M470,727 L471.23,691.36 L472.45,693.15 L473.68,695.07 L474.9,696.7 L476.13,697.63 L477.36,698.11 L478.58,698.46 L479.81,698.75 L481.03,698.98 L482.26,699.16 L483.48,699.27 L484.71,699.32 L485.94,699.3 L487.16,699.23 L488.39,699.1 L489.61,698.91 L490.84,698.68 L492.06,698.4 L493.29,698.07 L494.52,697.71 L495.74,697.32 L496.97,696.9 L498.19,696.47 L499.42,696 L500.65,695.51 L501.87,694.97 L503.1,694.37 L504.32,693.7 L505.55,692.93 L506.77,692.05 L508,691.06 L509.23,689.94 L510.45,688.71 L511.68,687.36 L512.9,685.91 L514.13,684.36 L515.36,682.72 L516.58,680.99 L517.81,679.19 L519.03,677.32 L520.26,675.37 L521.49,673.34 L522.71,671.24 L523.94,669.05 L525.16,666.78 L526.39,664.42 L527.61,661.97 L528.84,659.43 L530.07,656.78 L531.29,654.04 L532.52,651.2 L533.74,648.26 L534.97,645.2 L536.19,642.06 L537.42,638.82 L538.65,635.5 L539.87,632.1 L541.1,628.65 L542.32,625.15 L543.55,621.63 L544.78,618.11 L546,614.61 L547.23,611.14 L548.45,607.74 L549.68,604.4 L550.9,601.16 L552.13,598.03 L553.36,595.01 L554.58,592.13 L555.81,589.38 L557.03,586.79 L558.26,584.29 L559.49,581.95 L560.71,579.76 L561.94,577.73 L563.16,575.86 L564.39,574.15 L565.62,572.59 L566.84,571.19 L568.07,569.94 L569.29,568.83 L570.52,567.86 L571.74,567.04 L572.97,566.34 L574.2,565.78 L575.42,565.35 L576.65,565.04 L577.87,564.85 L579.1,564.79 L580.33,564.85 L581.55,565.04 L582.78,565.34 L584,565.77 L585.23,566.33 L586.45,567.01 L587.68,567.82 L588.91,568.76 L590.13,569.82 L591.36,571.02 L592.58,572.35 L593.81,573.81 L595.03,575.4 L596.26,577.11 L597.49,578.93 L598.71,580.86 L599.94,582.9 L601.16,585.02 L602.39,587.23 L603.62,589.52 L604.84,591.86 L606.07,594.24 L607.29,596.66 L608.52,599.11 L609.75,601.56 L610.97,604.01 L612.2,606.44 L613.42,608.85 L614.65,611.22 L615.87,613.55 L617.1,615.82 L618.33,618.02 L619.55,620.16 L620.78,622.21 L622,624.18 L623.23,626.07 L624.45,627.87 L625.68,629.57 L626.91,631.19 L628.13,632.71 L629.36,634.15 L630.58,635.5 L631.81,636.77 L633.04,637.96 L634.26,639.07 L635.49,640.12 L636.71,641.1 L637.94,642.03 L639.16,642.91 L640.39,643.74 L641.62,644.52 L642.84,645.27 L644.07,645.99 L645.29,646.69 L646.52,647.36 L647.75,648.01 L648.97,648.65 L650.2,649.27 L651.42,649.89 L652.65,650.5 L653.88,651.1 L655.1,651.7 L656.33,652.3 L657.55,652.89 L658.78,653.49 L660,654.08 L661.23,654.67 L662.46,655.26 L663.68,655.85 L664.91,656.43 L666.13,657.02 L667.36,657.59 L668.59,658.17 L669.81,658.74 L671.04,659.3 L672.26,659.86 L673.49,660.41 L674.71,660.96 L675.94,661.49 L677.17,662.02 L678.39,662.54 L679.62,663.06 L680.84,663.56 L682.07,664.06 L683.3,664.54 L684.52,665.02 L685.75,665.48 L686.97,665.94 L688.2,666.39 L689.42,666.84 L690.65,667.27 L691.88,667.7 L693.1,668.12 L694.33,668.53 L695.55,668.94 L696.78,669.34 L698,669.74 L699.23,670.13 L700.46,670.51 L701.68,670.9 L702.91,671.28 L704.13,671.65 L705.36,672.02 L706.59,672.39 L707.81,672.76 L709.04,673.13 L710.26,673.49 L711.49,673.85 L712.72,674.21 L713.94,674.57 L715.17,674.93 L716.39,675.28 L717.62,675.64 L718.84,675.99 L720.07,676.34 L721.3,676.69 L722.52,677.04 L723.75,677.39 L724.97,677.74 L726.2,678.09 L727.42,678.43 L728.65,678.77 L729.88,679.11 L731.1,679.45 L732.33,679.79 L733.55,680.13 L734.78,680.47 L736.01,680.8 L737.23,681.13 L738.46,681.47 L739.68,681.8 L740.91,682.12 L742.13,682.45 L743.36,682.78 L744.59,683.1 L745.81,683.43 L747.04,683.76 L748.26,684.08 L749.49,684.41 L750.72,684.74 L751.94,685.07 L753.17,685.39 L754.39,685.72 L755.62,686.06 L756.85,686.39 L758.07,686.72 L759.3,687.06 L760.52,687.4 L761.75,687.74 L762.97,688.08 L764.2,688.43"/>
<path stroke="#ff6600" d="M470,727 L471.96,660.54 L473.19,663.8 L474.41,667.15 L475.64,670.32 L476.86,673.07 L478.09,675.62 L479.32,678.16 L480.54,680.58 L481.77,682.7 L482.99,684.27 L484.22,685.07 L485.45,684.97 L486.67,683.97 L487.9,682.21 L489.12,679.86 L490.35,677.02 L491.57,673.79 L492.8,670.27 L494.03,666.49 L495.25,662.46 L496.48,658.23 L497.7,653.78 L498.93,649.17 L500.16,644.41 L501.38,639.54 L502.61,634.61 L503.83,629.63 L505.06,624.64 L506.28,619.68 L507.51,614.78 L508.74,609.97 L509.96,605.28 L511.19,600.75 L512.41,596.37 L513.64,592.19 L514.87,588.2 L516.09,584.43 L517.32,580.87 L518.54,577.54 L519.77,574.44 L520.99,571.56 L522.22,568.92 L523.45,566.5 L524.67,564.3 L525.9,562.32 L527.12,560.55 L528.35,558.98 L529.58,557.6 L530.8,556.42 L532.03,555.41 L533.25,554.57 L534.48,553.91 L535.7,553.41 L536.93,553.06 L538.16,552.88 L539.38,552.85 L540.61,552.98 L541.83,553.26 L543.06,553.69 L544.29,554.28 L545.51,555.01 L546.74,555.89 L547.96,556.91 L549.19,558.06 L550.41,559.33 L551.64,560.72 L552.87,562.21 L554.09,563.79 L555.32,565.45 L556.54,567.17 L557.77,568.95 L559,570.77 L560.22,572.63 L561.45,574.52 L562.67,576.42 L563.9,578.32 L565.12,580.21 L566.35,582.08 L567.58,583.92 L568.8,585.73 L570.03,587.5 L571.25,589.23 L572.48,590.9 L573.71,592.53 L574.93,594.1 L576.16,595.63 L577.38,597.11 L578.61,598.54 L579.83,599.93 L581.06,601.28 L582.29,602.6 L583.51,603.89 L584.74,605.15 L585.96,606.4 L587.19,607.63 L588.42,608.85 L589.64,610.07 L590.87,611.27 L592.09,612.48 L593.32,613.69 L594.54,614.9 L595.77,616.11 L597,617.33 L598.22,618.55 L599.45,619.77 L600.67,621 L601.9,622.22 L603.13,623.45 L604.35,624.67 L605.58,625.88 L606.8,627.09 L608.03,628.3 L609.25,629.49 L610.48,630.67 L611.71,631.83 L612.93,632.98 L614.16,634.12 L615.38,635.24 L616.61,636.34 L617.84,637.43 L619.06,638.5 L620.29,639.56 L621.51,640.6 L622.74,641.63 L623.96,642.64 L625.19,643.64 L626.42,644.63 L627.64,645.6 L628.87,646.56 L630.09,647.51 L631.32,648.44 L632.55,649.37 L633.77,650.27 L635,651.16 L636.22,652.04 L637.45,652.9 L638.67,653.74 L639.9,654.56 L641.13,655.37 L642.35,656.16 L643.58,656.94 L644.8,657.69 L646.03,658.44 L647.26,659.16 L648.48,659.88 L649.71,660.58 L650.93,661.27 L652.16,661.95 L653.38,662.62 L654.61,663.28 L655.84,663.93 L657.06,664.58 L658.29,665.22 L659.51,665.86 L660.74,666.49 L661.97,667.12 L663.19,667.74 L664.42,668.35 L665.64,668.97 L666.87,669.57 L668.09,670.18 L669.32,670.77 L670.55,671.36 L671.77,671.94 L673,672.51 L674.22,673.07 L675.45,673.62 L676.68,674.16 L677.9,674.7 L679.13,675.22 L680.35,675.73 L681.58,676.23 L682.8,676.71 L684.03,677.19 L685.26,677.66 L686.48,678.11 L687.71,678.56 L688.93,678.99 L690.16,679.42 L691.39,679.83 L692.61,680.24 L693.84,680.64 L695.06,681.03 L696.29,681.42 L697.51,681.79 L698.74,682.17 L699.97,682.53 L701.19,682.89 L702.42,683.25 L703.64,683.6 L704.87,683.94 L706.1,684.29 L707.32,684.62 L708.55,684.96 L709.77,685.29 L711,685.61 L712.22,685.94 L713.45,686.25 L714.68,686.57 L715.9,686.88 L717.13,687.19 L718.35,687.49 L719.58,687.79 L720.81,688.09 L722.03,688.38 L723.26,688.66 L724.48,688.95 L725.71,689.23 L726.93,689.5 L728.16,689.77 L729.39,690.04 L730.61,690.3 L731.84,690.56 L733.06,690.82 L734.29,691.07 L735.52,691.32 L736.74,691.57 L737.97,691.82 L739.19,692.06 L740.42,692.3 L741.64,692.54 L742.87,692.78 L744.1,693.02 L745.32,693.26 L746.55,693.5 L747.77,693.74 L749,693.99 L750.23,694.23 L751.45,694.49 L752.68,694.74 L753.9,695 L755.13,695.27 L756.35,695.54 L757.58,695.81 L758.81,696.09 L760.03,696.38 L761.26,696.68 L762.48,696.98 L763.71,697.3 L764.02,697.39"/>
<path stroke="#00ff00" d="M470,727 L471.23,669.56 L472.45,673.38 L473.68,677.51 L474.9,681.49 L476.13,684.8 L477.36,687.13 L478.58,688.86 L479.81,690.34 L481.03,691.64 L482.26,692.72 L483.48,693.53 L484.71,694.02 L485.94,694.2 L487.16,694.06 L488.39,693.63 L489.61,692.93 L490.84,691.97 L492.06,690.78 L493.29,689.4 L494.52,687.85 L495.74,686.17 L496.97,684.39 L498.19,682.53 L499.42,680.62 L500.65,678.65 L501.87,676.62 L503.1,674.51 L504.32,672.3 L505.55,669.97 L506.77,667.5 L508,664.88 L509.23,662.12 L510.45,659.24 L511.68,656.25 L512.9,653.17 L514.13,650.04 L515.36,646.89 L516.58,643.74 L517.81,640.62 L519.03,637.54 L520.26,634.52 L521.49,631.55 L522.71,628.65 L523.94,625.83 L525.16,623.07 L526.39,620.38 L527.61,617.76 L528.84,615.22 L530.07,612.76 L531.29,610.39 L532.52,608.12 L533.74,605.96 L534.97,603.92 L536.19,601.99 L537.42,600.21 L538.65,598.55 L539.87,597.04 L541.1,595.66 L542.32,594.41 L543.55,593.31 L544.78,592.32 L546,591.47 L547.23,590.73 L548.45,590.11 L549.68,589.58 L550.9,589.16 L552.13,588.82 L553.36,588.58 L554.58,588.41 L555.81,588.32 L557.03,588.31 L558.26,588.38 L559.49,588.51 L560.71,588.72 L561.94,588.98 L563.16,589.31 L564.39,589.7 L565.62,590.14 L566.84,590.64 L568.07,591.19 L569.29,591.8 L570.52,592.45 L571.74,593.16 L572.97,593.91 L574.2,594.7 L575.42,595.54 L576.65,596.41 L577.87,597.32 L579.1,598.27 L580.33,599.24 L581.55,600.24 L582.78,601.27 L584,602.32 L585.23,603.38 L586.45,604.46 L587.68,605.56 L588.91,606.66 L590.13,607.78 L591.36,608.91 L592.58,610.05 L593.81,611.19 L595.03,612.34 L596.26,613.5 L597.49,614.67 L598.71,615.84 L599.94,617.01 L601.16,618.2 L602.39,619.38 L603.62,620.58 L604.84,621.77 L606.07,622.98 L607.29,624.18 L608.52,625.39 L609.75,626.59 L610.97,627.8 L612.2,629 L613.42,630.19 L614.65,631.38 L615.87,632.56 L617.1,633.73 L618.33,634.88 L619.55,636.01 L620.78,637.12 L622,638.22 L623.23,639.28 L624.45,640.32 L625.68,641.33 L626.91,642.31 L628.13,643.25 L629.36,644.16 L630.58,645.03 L631.81,645.86 L633.04,646.65 L634.26,647.41 L635.49,648.12 L636.71,648.8 L637.94,649.44 L639.16,650.05 L640.39,650.62 L641.62,651.16 L642.84,651.68 L644.07,652.16 L645.29,652.63 L646.52,653.08 L647.75,653.52 L648.97,653.94 L650.2,654.36 L651.42,654.77 L652.65,655.18 L653.88,655.59 L655.1,656 L656.33,656.42 L657.55,656.84 L658.78,657.28 L660,657.72 L661.23,658.16 L662.46,658.62 L663.68,659.08 L664.91,659.55 L666.13,660.03 L667.36,660.51 L668.59,661 L669.81,661.49 L671.04,661.98 L672.26,662.48 L673.49,662.97 L674.71,663.47 L675.94,663.96 L677.17,664.45 L678.39,664.94 L679.62,665.43 L680.84,665.91 L682.07,666.39 L683.3,666.86 L684.52,667.33 L685.75,667.8 L686.97,668.26 L688.2,668.72 L689.42,669.17 L690.65,669.63 L691.88,670.07 L693.1,670.52 L694.33,670.96 L695.55,671.4 L696.78,671.84 L698,672.27 L699.23,672.7 L700.46,673.13 L701.68,673.55 L702.91,673.97 L704.13,674.39 L705.36,674.81 L706.59,675.22 L707.81,675.63 L709.04,676.03 L710.26,676.43 L711.49,676.82 L712.72,677.21 L713.94,677.6 L715.17,677.98 L716.39,678.35 L717.62,678.72 L718.84,679.09 L720.07,679.45 L721.3,679.8 L722.52,680.15 L723.75,680.49 L724.97,680.83 L726.2,681.16 L727.42,681.48 L728.65,681.81 L729.88,682.12 L731.1,682.44 L732.33,682.75 L733.55,683.05 L734.78,683.35 L736.01,683.65 L737.23,683.94 L738.46,684.24 L739.68,684.53 L740.91,684.81 L742.13,685.1 L743.36,685.39 L744.59,685.67 L745.81,685.96 L747.04,686.24 L748.26,686.53 L749.49,686.82 L750.72,687.11 L751.94,687.4 L753.17,687.69 L754.39,687.99 L755.62,688.29 L756.85,688.59 L758.07,688.9 L759.3,689.21 L760.52,689.53 L761.75,689.85 L762.97,690.18 L764.2,690.52"/>
<path stroke="#0000ff" d="M470,727 L471.23,685.07 L472.45,687.42 L473.68,689.95 L474.9,692.11 L476.13,693.43 L477.36,694.21 L478.58,694.82 L479.81,695.33 L481.03,695.77 L482.26,696.11 L483.48,696.32 L484.71,696.37 L485.94,696.21 L487.16,695.83 L488.39,695.24 L489.61,694.41 L490.84,693.38 L492.06,692.16 L493.29,690.77 L494.52,689.23 L495.74,687.59 L496.97,685.85 L498.19,684.05 L499.42,682.2 L500.65,680.3 L501.87,678.34 L503.1,676.29 L504.32,674.15 L505.55,671.9 L506.77,669.5 L508,666.96 L509.23,664.27 L510.45,661.46 L511.68,658.53 L512.9,655.5 L514.13,652.4 L515.36,649.26 L516.58,646.11 L517.81,642.96 L519.03,639.84 L520.26,636.76 L521.49,633.72 L522.71,630.75 L523.94,627.84 L525.16,625 L526.39,622.22 L527.61,619.51 L528.84,616.87 L530.07,614.29 L531.29,611.79 L532.52,609.36 L533.74,607.01 L534.97,604.75 L536.19,602.58 L537.42,600.52 L538.65,598.58 L539.87,596.76 L541.1,595.07 L542.32,593.53 L543.55,592.13 L544.78,590.88 L546,589.8 L547.23,588.87 L548.45,588.1 L549.68,587.47 L550.9,587.01 L552.13,586.68 L553.36,586.49 L554.58,586.44 L555.81,586.5 L557.03,586.68 L558.26,586.95 L559.49,587.32 L560.71,587.78 L561.94,588.33 L563.16,588.94 L564.39,589.62 L565.62,590.36 L566.84,591.14 L568.07,591.95 L569.29,592.8 L570.52,593.66 L571.74,594.54 L572.97,595.43 L574.2,596.33 L575.42,597.23 L576.65,598.13 L577.87,599.02 L579.1,599.92 L580.33,600.81 L581.55,601.69 L582.78,602.58 L584,603.47 L585.23,604.36 L586.45,605.25 L587.68,606.16 L588.91,607.06 L590.13,607.98 L591.36,608.91 L592.58,609.84 L593.81,610.78 L595.03,611.72 L596.26,612.67 L597.49,613.62 L598.71,614.56 L599.94,615.5 L601.16,616.43 L602.39,617.34 L603.62,618.25 L604.84,619.14 L606.07,620.02 L607.29,620.88 L608.52,621.72 L609.75,622.55 L610.97,623.36 L612.2,624.16 L613.42,624.94 L614.65,625.72 L615.87,626.48 L617.1,627.23 L618.33,627.98 L619.55,628.72 L620.78,629.46 L622,630.19 L623.23,630.92 L624.45,631.65 L625.68,632.38 L626.91,633.11 L628.13,633.83 L629.36,634.55 L630.58,635.27 L631.81,635.98 L633.04,636.69 L634.26,637.39 L635.49,638.09 L636.71,638.79 L637.94,639.48 L639.16,640.16 L640.39,640.84 L641.62,641.52 L642.84,642.19 L644.07,642.85 L645.29,643.52 L646.52,644.19 L647.75,644.86 L648.97,645.53 L650.2,646.2 L651.42,646.88 L652.65,647.57 L653.88,648.26 L655.1,648.96 L656.33,649.67 L657.55,650.39 L658.78,651.12 L660,651.85 L661.23,652.6 L662.46,653.35 L663.68,654.11 L664.91,654.87 L666.13,655.63 L667.36,656.4 L668.59,657.16 L669.81,657.92 L671.04,658.68 L672.26,659.43 L673.49,660.17 L674.71,660.89 L675.94,661.61 L677.17,662.31 L678.39,662.99 L679.62,663.66 L680.84,664.3 L682.07,664.94 L683.3,665.55 L684.52,666.14 L685.75,666.72 L686.97,667.27 L688.2,667.81 L689.42,668.34 L690.65,668.84 L691.88,669.34 L693.1,669.82 L694.33,670.28 L695.55,670.74 L696.78,671.18 L698,671.61 L699.23,672.04 L700.46,672.46 L701.68,672.87 L702.91,673.27 L704.13,673.67 L705.36,674.06 L706.59,674.45 L707.81,674.83 L709.04,675.21 L710.26,675.58 L711.49,675.95 L712.72,676.32 L713.94,676.68 L715.17,677.04 L716.39,677.39 L717.62,677.75 L718.84,678.1 L720.07,678.44 L721.3,678.78 L722.52,679.12 L723.75,679.45 L724.97,679.78 L726.2,680.11 L727.42,680.43 L728.65,680.75 L729.88,681.07 L731.1,681.38 L732.33,681.69 L733.55,681.99 L734.78,682.3 L736.01,682.6 L737.23,682.89 L738.46,683.19 L739.68,683.48 L740.91,683.76 L742.13,684.05 L743.36,684.34 L744.59,684.62 L745.81,684.91 L747.04,685.19 L748.26,685.48 L749.49,685.77 L750.72,686.06 L751.94,686.35 L753.17,686.64 L754.39,686.94 L755.62,687.24 L756.85,687.54 L758.07,687.85 L759.3,688.16 L760.52,688.48 L761.75,688.8 L762.97,689.13 L764.2,689.47"/>
<path stroke="#ff0000" d="M470,727 L471.23,693.46 L472.45,695.83 L473.68,698.38 L474.9,700.55 L476.13,701.82 L477.36,702.51 L478.58,703.04 L479.81,703.47 L481.03,703.83 L482.26,704.09 L483.48,704.26 L484.71,704.34 L485.94,704.35 L487.16,704.29 L488.39,704.17 L489.61,704 L490.84,703.79 L492.06,703.54 L493.29,703.25 L494.52,702.93 L495.74,702.58 L496.97,702.22 L498.19,701.83 L499.42,701.43 L500.65,701 L501.87,700.55 L503.1,700.07 L504.32,699.55 L505.55,698.98 L506.77,698.36 L508,697.67 L509.23,696.92 L510.45,696.11 L511.68,695.23 L512.9,694.29 L514.13,693.29 L515.36,692.23 L516.58,691.1 L517.81,689.91 L519.03,688.63 L520.26,687.25 L521.49,685.78 L522.71,684.19 L523.94,682.47 L525.16,680.63 L526.39,678.64 L527.61,676.53 L528.84,674.27 L530.07,671.88 L531.29,669.36 L532.52,666.71 L533.74,663.94 L534.97,661.03 L536.19,658.01 L537.42,654.87 L538.65,651.62 L539.87,648.27 L541.1,644.83 L542.32,641.31 L543.55,637.72 L544.78,634.09 L546,630.44 L547.23,626.79 L548.45,623.16 L549.68,619.57 L550.9,616.06 L552.13,612.63 L553.36,609.3 L554.58,606.09 L555.81,603.01 L557.03,600.08 L558.26,597.24 L559.49,594.56 L560.71,592.05 L561.94,589.7 L563.16,587.52 L564.39,585.52 L565.62,583.68 L566.84,582.02 L568.07,580.52 L569.29,579.18 L570.52,578 L571.74,576.97 L572.97,576.09 L574.2,575.36 L575.42,574.76 L576.65,574.29 L577.87,573.96 L579.1,573.76 L580.33,573.69 L581.55,573.75 L582.78,573.94 L584,574.24 L585.23,574.67 L586.45,575.22 L587.68,575.89 L588.91,576.68 L590.13,577.59 L591.36,578.61 L592.58,579.74 L593.81,580.98 L595.03,582.33 L596.26,583.79 L597.49,585.35 L598.71,587 L599.94,588.75 L601.16,590.58 L602.39,592.49 L603.62,594.46 L604.84,596.5 L606.07,598.58 L607.29,600.7 L608.52,602.85 L609.75,605 L610.97,607.16 L612.2,609.3 L613.42,611.42 L614.65,613.5 L615.87,615.54 L617.1,617.53 L618.33,619.45 L619.55,621.3 L620.78,623.09 L622,624.79 L623.23,626.43 L624.45,627.98 L625.68,629.46 L626.91,630.87 L628.13,632.2 L629.36,633.47 L630.58,634.67 L631.81,635.8 L633.04,636.88 L634.26,637.9 L635.49,638.87 L636.71,639.8 L637.94,640.68 L639.16,641.51 L640.39,642.31 L641.62,643.08 L642.84,643.81 L644.07,644.52 L645.29,645.2 L646.52,645.85 L647.75,646.48 L648.97,647.1 L650.2,647.69 L651.42,648.26 L652.65,648.82 L653.88,649.36 L655.1,649.89 L656.33,650.41 L657.55,650.91 L658.78,651.4 L660,651.89 L661.23,652.36 L662.46,652.83 L663.68,653.29 L664.91,653.74 L666.13,654.19 L667.36,654.63 L668.59,655.06 L669.81,655.5 L671.04,655.92 L672.26,656.35 L673.49,656.77 L674.71,657.19 L675.94,657.61 L677.17,658.02 L678.39,658.44 L679.62,658.85 L680.84,659.26 L682.07,659.68 L683.3,660.09 L684.52,660.5 L685.75,660.92 L686.97,661.33 L688.2,661.74 L689.42,662.15 L690.65,662.57 L691.88,662.98 L693.1,663.39 L694.33,663.8 L695.55,664.21 L696.78,664.62 L698,665.03 L699.23,665.44 L700.46,665.85 L701.68,666.25 L702.91,666.66 L704.13,667.06 L705.36,667.46 L706.59,667.86 L707.81,668.26 L709.04,668.65 L710.26,669.04 L711.49,669.44 L712.72,669.82 L713.94,670.21 L715.17,670.6 L716.39,670.98 L717.62,671.36 L718.84,671.73 L720.07,672.11 L721.3,672.48 L722.52,672.85 L723.75,673.22 L724.97,673.59 L726.2,673.95 L727.42,674.31 L728.65,674.67 L729.88,675.03 L731.1,675.38 L732.33,675.74 L733.55,676.09 L734.78,676.44 L736.01,676.79 L737.23,677.13 L738.46,677.48 L739.68,677.82 L740.91,678.16 L742.13,678.5 L743.36,678.84 L744.59,679.18 L745.81,679.52 L747.04,679.86 L748.26,680.2 L749.49,680.54 L750.72,680.88 L751.94,681.22 L753.17,681.56 L754.39,681.9 L755.62,682.24 L756.85,682.58 L758.07,682.92 L759.3,683.27 L760.52,683.61 L761.75,683.96 L762.97,684.3 L764.2,684.65"/>
<path stroke="#000000" d="M470,727 L471.23,681.51 L472.45,684.79 L473.68,688.36 L474.9,691.71 L476.13,694.2 L477.36,695.66 L478.58,696.63 L479.81,697.42 L481.03,698.13 L482.26,698.75 L483.48,699.27 L484.71,699.69 L485.94,700.01 L487.16,700.22 L488.39,700.34 L489.61,700.37 L490.84,700.33 L492.06,700.24 L493.29,700.09 L494.52,699.9 L495.74,699.68 L496.97,699.43 L498.19,699.15 L499.42,698.86 L500.65,698.54 L501.87,698.2 L503.1,697.83 L504.32,697.41 L505.55,696.91 L506.77,696.32 L508,695.6 L509.23,694.75 L510.45,693.77 L511.68,692.66 L512.9,691.43 L514.13,690.09 L515.36,688.66 L516.58,687.14 L517.81,685.56 L519.03,683.91 L520.26,682.21 L521.49,680.47 L522.71,678.67 L523.94,676.79 L525.16,674.78 L526.39,672.61 L527.61,670.24 L528.84,667.66 L530.07,664.86 L531.29,661.87 L532.52,658.71 L533.74,655.42 L534.97,652.04 L536.19,648.59 L537.42,645.12 L538.65,641.66 L539.87,638.24 L541.1,634.88 L542.32,631.6 L543.55,628.38 L544.78,625.2 L546,622.03 L547.23,618.83 L548.45,615.6 L549.68,612.33 L550.9,609.06 L552.13,605.82 L553.36,602.67 L554.58,599.65 L555.81,596.82 L557.03,594.21 L558.26,591.84 L559.49,589.71 L560.71,587.8 L561.94,586.05 L563.16,584.43 L564.39,582.92 L565.62,581.5 L566.84,580.2 L568.07,579.07 L569.29,578.14 L570.52,577.49 L571.74,577.15 L572.97,577.15 L574.2,577.47 L575.42,578.07 L576.65,578.88 L577.87,579.83 L579.1,580.83 L580.33,581.84 L581.55,582.82 L582.78,583.79 L584,584.74 L585.23,585.71 L586.45,586.72 L587.68,587.8 L588.91,588.98 L590.13,590.3 L591.36,591.81 L592.58,593.55 L593.81,595.54 L595.03,597.77 L596.26,600.2 L597.49,602.76 L598.71,605.36 L599.94,607.9 L601.16,610.33 L602.39,612.59 L603.62,614.68 L604.84,616.61 L606.07,618.4 L607.29,620.09 L608.52,621.71 L609.75,623.27 L610.97,624.79 L612.2,626.27 L613.42,627.71 L614.65,629.12 L615.87,630.5 L617.1,631.85 L618.33,633.18 L619.55,634.47 L620.78,635.72 L622,636.92 L623.23,638.06 L624.45,639.13 L625.68,640.13 L626.91,641.07 L628.13,641.94 L629.36,642.76 L630.58,643.53 L631.81,644.27 L633.04,644.97 L634.26,645.66 L635.49,646.32 L636.71,646.98 L637.94,647.62 L639.16,648.25 L640.39,648.87 L641.62,649.48 L642.84,650.08 L644.07,650.67 L645.29,651.24 L646.52,651.81 L647.75,652.36 L648.97,652.91 L650.2,653.44 L651.42,653.96 L652.65,654.47 L653.88,654.97 L655.1,655.46 L656.33,655.95 L657.55,656.42 L658.78,656.89 L660,657.35 L661.23,657.8 L662.46,658.25 L663.68,658.69 L664.91,659.13 L666.13,659.55 L667.36,659.98 L668.59,660.4 L669.81,660.81 L671.04,661.22 L672.26,661.63 L673.49,662.03 L674.71,662.43 L675.94,662.82 L677.17,663.21 L678.39,663.6 L679.62,663.98 L680.84,664.37 L682.07,664.75 L683.3,665.12 L684.52,665.5 L685.75,665.87 L686.97,666.24 L688.2,666.61 L689.42,666.97 L690.65,667.33 L691.88,667.69 L693.1,668.04 L694.33,668.39 L695.55,668.73 L696.78,669.08 L698,669.42 L699.23,669.76 L700.46,670.09 L701.68,670.43 L702.91,670.76 L704.13,671.09 L705.36,671.42 L706.59,671.75 L707.81,672.08 L709.04,672.4 L710.26,672.73 L711.49,673.05 L712.72,673.38 L713.94,673.7 L715.17,674.02 L716.39,674.35 L717.62,674.67 L718.84,674.99 L720.07,675.32 L721.3,675.64 L722.52,675.96 L723.75,676.28 L724.97,676.6 L726.2,676.91 L727.42,677.22 L728.65,677.54 L729.88,677.84 L731.1,678.15 L732.33,678.46 L733.55,678.76 L734.78,679.06 L736.01,679.37 L737.23,679.67 L738.46,679.97 L739.68,680.27 L740.91,680.57 L742.13,680.87 L743.36,681.18 L744.59,681.48 L745.81,681.78 L747.04,682.08 L748.26,682.39 L749.49,682.69 L750.72,683 L751.94,683.31 L753.17,683.62 L754.39,683.93 L755.62,684.25 L756.85,684.57 L758.07,684.89 L759.3,685.21 L760.52,685.53 L761.75,685.86 L762.97,686.2 L764.2,686.54"/>
<path stroke="#808080" d="M470,727 L471.23,708.34 L472.45,709.17 L473.68,710.11 L474.9,711.1 L476.13,712.06 L477.36,712.92 L478.58,713.59 L479.81,714 L481.03,714.19 L482.26,714.25 L483.48,714.25 L484.71,714.21 L485.94,714.16 L487.16,714.09 L488.39,714.02 L489.61,713.93 L490.84,713.84 L492.06,713.75 L493.29,713.64 L494.52,713.53 L495.74,713.42 L496.97,713.3 L498.19,713.18 L499.42,713.05 L500.65,712.91 L501.87,712.76 L503.1,712.59 L504.32,712.39 L505.55,712.16 L506.77,711.88 L508,711.57 L509.23,711.21 L510.45,710.8 L511.68,710.36 L512.9,709.87 L514.13,709.34 L515.36,708.78 L516.58,708.18 L517.81,707.56 L519.03,706.9 L520.26,706.2 L521.49,705.47 L522.71,704.69 L523.94,703.87 L525.16,703.01 L526.39,702.1 L527.61,701.14 L528.84,700.14 L530.07,699.08 L531.29,697.98 L532.52,696.84 L533.74,695.65 L534.97,694.42 L536.19,693.15 L537.42,691.83 L538.65,690.48 L539.87,689.1 L541.1,687.67 L542.32,686.21 L543.55,684.71 L544.78,683.18 L546,681.62 L547.23,680.03 L548.45,678.41 L549.68,676.77 L550.9,675.1 L552.13,673.41 L553.36,671.71 L554.58,669.99 L555.81,668.27 L557.03,666.53 L558.26,664.79 L559.49,663.05 L560.71,661.3 L561.94,659.55 L563.16,657.81 L564.39,656.07 L565.62,654.33 L566.84,652.6 L568.07,650.88 L569.29,649.17 L570.52,647.46 L571.74,645.77 L572.97,644.09 L574.2,642.41 L575.42,640.75 L576.65,639.1 L577.87,637.46 L579.1,635.84 L580.33,634.23 L581.55,632.64 L582.78,631.07 L584,629.52 L585.23,627.99 L586.45,626.49 L587.68,625.03 L588.91,623.6 L590.13,622.21 L591.36,620.87 L592.58,619.58 L593.81,618.35 L595.03,617.17 L596.26,616.07 L597.49,615.03 L598.71,614.07 L599.94,613.19 L601.16,612.39 L602.39,611.68 L603.62,611.06 L604.84,610.53 L606.07,610.09 L607.29,609.75 L608.52,609.5 L609.75,609.35 L610.97,609.3 L612.2,609.35 L613.42,609.5 L614.65,609.74 L615.87,610.08 L617.1,610.52 L618.33,611.06 L619.55,611.69 L620.78,612.42 L622,613.23 L623.23,614.14 L624.45,615.13 L625.68,616.2 L626.91,617.34 L628.13,618.55 L629.36,619.83 L630.58,621.16 L631.81,622.55 L633.04,623.97 L634.26,625.44 L635.49,626.93 L636.71,628.45 L637.94,629.99 L639.16,631.53 L640.39,633.08 L641.62,634.64 L642.84,636.19 L644.07,637.73 L645.29,639.26 L646.52,640.78 L647.75,642.29 L648.97,643.78 L650.2,645.25 L651.42,646.7 L652.65,648.13 L653.88,649.54 L655.1,650.94 L656.33,652.32 L657.55,653.68 L658.78,655.02 L660,656.34 L661.23,657.64 L662.46,658.93 L663.68,660.19 L664.91,661.44 L666.13,662.66 L667.36,663.85 L668.59,665.03 L669.81,666.17 L671.04,667.29 L672.26,668.37 L673.49,669.42 L674.71,670.43 L675.94,671.41 L677.17,672.35 L678.39,673.25 L679.62,674.11 L680.84,674.93 L682.07,675.71 L683.3,676.45 L684.52,677.15 L685.75,677.82 L686.97,678.45 L688.2,679.05 L689.42,679.61 L690.65,680.15 L691.88,680.66 L693.1,681.14 L694.33,681.6 L695.55,682.04 L696.78,682.46 L698,682.87 L699.23,683.26 L700.46,683.64 L701.68,684.01 L702.91,684.37 L704.13,684.73 L705.36,685.07 L706.59,685.41 L707.81,685.75 L709.04,686.08 L710.26,686.41 L711.49,686.74 L712.72,687.06 L713.94,687.39 L715.17,687.71 L716.39,688.03 L717.62,688.35 L718.84,688.66 L720.07,688.98 L721.3,689.29 L722.52,689.6 L723.75,689.91 L724.97,690.22 L726.2,690.53 L727.42,690.83 L728.65,691.13 L729.88,691.43 L731.1,691.73 L732.33,692.02 L733.55,692.31 L734.78,692.6 L736.01,692.89 L737.23,693.17 L738.46,693.45 L739.68,693.73 L740.91,694.01 L742.13,694.28 L743.36,694.55 L744.59,694.83 L745.81,695.1 L747.04,695.37 L748.26,695.65 L749.49,695.92 L750.72,696.2 L751.94,696.48 L753.17,696.77 L754.39,697.06 L755.62,697.35 L756.85,697.64 L758.07,697.94 L759.3,698.25 L760.52,698.56 L761.75,698.87 L762.97,699.2 L764.2,699.54"/>
</g>
<path d="M470,433.5 H764.2 V727 H470 Z M470,727 v9.5 M470,433.5 v-9.5 M482.26,727 v4.5 M482.26,433.5 v-4.5 M494.52,727 v4.5 M494.52,433.5 v-4.5 M506.77,727 v9.5 M506.77,433.5 v-9.5 M519.03,727 v4.5 M519.03,433.5 v-4.5 M531.29,727 v4.5 M531.29,433.5 v-4.5 M543.55,727 v9.5 M543.55,433.5 v-9.5 M555.81,727 v4.5 M555.81,433.5 v-4.5 M568.07,727 v4.5 M568.07,433.5 v-4.5 M580.33,727 v9.5 M580.33,433.5 v-9.5 M592.58,727 v4.5 M592.58,433.5 v-4.5 M604.84,727 v4.5 M604.84,433.5 v-4.5 M617.1,727 v9.5 M617.1,433.5 v-9.5 M629.36,727 v4.5 M629.36,433.5 v-4.5 M641.62,727 v4.5 M641.62,433.5 v-4.5 M653.88,727 v9.5 M653.88,433.5 v-9.5 M666.13,727 v4.5 M666.13,433.5 v-4.5 M678.39,727 v4.5 M678.39,433.5 v-4.5 M690.65,727 v9.5 M690.65,433.5 v-9.5 M702.91,727 v4.5 M702.91,433.5 v-4.5 M715.17,727 v4.5 M715.17,433.5 v-4.5 M727.42,727 v9.5 M727.42,433.5 v-9.5 M739.68,727 v4.5 M739.68,433.5 v-4.5 M751.94,727 v4.5 M751.94,433.5 v-4.5 M764.2,727 v9.5 M764.2,433.5 v-9.5 M470,727 h-10 M764.2,727 h10 M470,716.52 h-5 M764.2,716.52 h5 M470,706.04 h-10 M764.2,706.04 h10 M470,695.55 h-5 M764.2,695.55 h5 M470,685.07 h-10 M764.2,685.07 h10 M470,674.59 h-5 M764.2,674.59 h5 M470,664.11 h-10 M764.2,664.11 h10 M470,653.62 h-5 M764.2,653.62 h5 M470,643.14 h-10 M764.2,643.14 h10 M470,632.66 h-5 M764.2,632.66 h5 M470,622.18 h-10 M764.2,622.18 h10 M470,611.7 h-5 M764.2,611.7 h5 M470,601.21 h-10 M764.2,601.21 h10 M470,590.73 h-5 M764.2,590.73 h5 M470,580.25 h-10 M764.2,580.25 h10 M470,569.77 h-5 M764.2,569.77 h5 M470,559.29 h-10 M764.2,559.29 h10 M470,548.8 h-5 M764.2,548.8 h5 M470,538.32 h-10 M764.2,538.32 h10 M470,527.84 h-5 M764.2,527.84 h5 M470,517.36 h-10 M764.2,517.36 h10 M470,506.88 h-5 M764.2,506.88 h5 M470,496.39 h-10 M764.2,496.39 h10 M470,485.91 h-5 M764.2,485.91 h5 M470,475.43 h-10 M764.2,475.43 h10 M470,464.95 h-5 M764.2,464.95 h5 M470,454.46 h-10 M764.2,454.46 h10 M470,443.98 h-5 M764.2,443.98 h5 M470,433.5 h-10 M764.2,433.5 h10" fill="none" stroke="#000" stroke-width="2.5" stroke-linecap="round"/>
<text x="470" y="755.6" text-anchor="middle" class="tl">0</text>
<text x="506.77" y="755.6" text-anchor="middle" class="tl">3</text>
<text x="543.55" y="755.6" text-anchor="middle" class="tl">6</text>
<text x="580.33" y="755.6" text-anchor="middle" class="tl">9</text>
<text x="617.1" y="755.6" text-anchor="middle" class="tl">12</text>
<text x="653.88" y="755.6" text-anchor="middle" class="tl">15</text>
<text x="690.65" y="755.6" text-anchor="middle" class="tl">18</text>
<text x="727.42" y="755.6" text-anchor="middle" class="tl">21</text>
<text x="764.2" y="755.6" text-anchor="middle" class="tl">24</text>
<text x="454.5" y="732.6" text-anchor="end" class="tl">0</text>
<text x="454.5" y="690.67" text-anchor="end" class="tl">2</text>
<text x="454.5" y="648.74" text-anchor="end" class="tl">4</text>
<text x="454.5" y="606.81" text-anchor="end" class="tl">6</text>
<text x="454.5" y="564.89" text-anchor="end" class="tl">8</text>
<text x="454.5" y="522.96" text-anchor="end" class="tl">10</text>
<text x="454.5" y="481.03" text-anchor="end" class="tl">12</text>
<text x="454.5" y="439.1" text-anchor="end" class="tl">14</text>
<text x="617.9" y="774.2" text-anchor="middle" class="at">Time (Hour)</text>
<text transform="translate(428.1,686) rotate(-90)" class="yt">Heat Flow Rate (mW. g<tspan font-size="9.5" dx="1.5" dy="3.8">Cem</tspan><tspan font-size="9.5" dx="0.5" dy="-9.3">-1</tspan><tspan dx="0.6" dy="5.5">)</tspan></text>
<text x="627.9" y="806.3" text-anchor="middle" class="pl">(D)</text>
<text x="713.9" y="452.2" text-anchor="middle" class="lg">Cement #3</text>
<text x="713.9" y="470.4" text-anchor="middle" class="lg">MK + F-LS</text>
<path d="M664.3,486.4 H687.9" stroke="#808080" stroke-width="3"/>
<text x="692.7" y="491.7" class="lg">0%</text>
<path d="M664.3,507.03 H687.9" stroke="#000000" stroke-width="3"/>
<text x="692.7" y="512.33" class="lg">10%-10%</text>
<path d="M664.3,527.66 H687.9" stroke="#ff0000" stroke-width="3"/>
<text x="692.7" y="532.96" class="lg">15%-15%</text>
<path d="M664.3,548.29 H687.9" stroke="#0000ff" stroke-width="3"/>
<text x="692.7" y="553.59" class="lg">20%-20%</text>
<path d="M664.3,568.92 H687.9" stroke="#00ff00" stroke-width="3"/>
<text x="692.7" y="574.22" class="lg">25%-25%</text>
<path d="M664.3,589.55 H687.9" stroke="#ff6600" stroke-width="3"/>
<text x="692.7" y="594.85" class="lg">30%-30%</text>
<path d="M664.3,610.18 H687.9" stroke="#8800cc" stroke-width="3"/>
<text x="692.7" y="615.48" class="lg">20%-10%</text>
<path d="M664.3,630.81 H687.9" stroke="#ff99cc" stroke-width="3"/>
<text x="692.7" y="636.11" class="lg">40%-20%</text>
<clipPath id="cE"><rect x="54.4" y="852.2" width="299.8" height="298.4"/></clipPath>
<g clip-path="url(#cE)" fill="none" stroke-width="3" stroke-linejoin="round" stroke-linecap="round">
<path stroke="#ff99cc" d="M54.4,1150.6 L55.4,1128.22 L56.65,1133.57 L57.9,1137.37 L59.15,1139.29 L60.4,1140.71 L61.65,1141.68 L62.89,1142.29 L64.14,1142.68 L65.39,1142.98 L66.64,1143.24 L67.89,1143.45 L69.14,1143.63 L70.39,1143.79 L71.64,1143.92 L72.89,1144.03 L74.14,1144.12 L75.39,1144.19 L76.64,1144.25 L77.88,1144.3 L79.13,1144.34 L80.38,1144.37 L81.63,1144.4 L82.88,1144.43 L84.13,1144.46 L85.38,1144.48 L86.63,1144.5 L87.88,1144.53 L89.13,1144.56 L90.38,1144.6 L91.63,1144.64 L92.87,1144.68 L94.12,1144.73 L95.37,1144.79 L96.62,1144.85 L97.87,1144.91 L99.12,1144.98 L100.37,1145.05 L101.62,1145.13 L102.87,1145.2 L104.12,1145.28 L105.37,1145.36 L106.62,1145.44 L107.86,1145.52 L109.11,1145.59 L110.36,1145.66 L111.61,1145.73 L112.86,1145.78 L114.11,1145.83 L115.36,1145.86 L116.61,1145.88 L117.86,1145.88 L119.11,1145.87 L120.36,1145.83 L121.61,1145.78 L122.85,1145.7 L124.1,1145.61 L125.35,1145.49 L126.6,1145.35 L127.85,1145.19 L129.1,1145.01 L130.35,1144.8 L131.6,1144.56 L132.85,1144.29 L134.1,1144 L135.35,1143.67 L136.6,1143.31 L137.84,1142.91 L139.09,1142.47 L140.34,1142 L141.59,1141.49 L142.84,1140.94 L144.09,1140.35 L145.34,1139.73 L146.59,1139.07 L147.84,1138.36 L149.09,1137.62 L150.34,1136.85 L151.59,1136.03 L152.83,1135.18 L154.08,1134.3 L155.33,1133.38 L156.58,1132.43 L157.83,1131.45 L159.08,1130.44 L160.33,1129.4 L161.58,1128.34 L162.83,1127.25 L164.08,1126.14 L165.33,1125 L166.58,1123.84 L167.82,1122.66 L169.07,1121.46 L170.32,1120.24 L171.57,1119.01 L172.82,1117.75 L174.07,1116.47 L175.32,1115.18 L176.57,1113.86 L177.82,1112.53 L179.07,1111.17 L180.32,1109.79 L181.57,1108.39 L182.81,1106.96 L184.06,1105.51 L185.31,1104.03 L186.56,1102.52 L187.81,1100.98 L189.06,1099.41 L190.31,1097.8 L191.56,1096.15 L192.81,1094.46 L194.06,1092.73 L195.31,1090.96 L196.56,1089.14 L197.8,1087.28 L199.05,1085.37 L200.3,1083.41 L201.55,1081.41 L202.8,1079.36 L204.05,1077.25 L205.3,1075.1 L206.55,1072.9 L207.8,1070.65 L209.05,1068.34 L210.3,1065.98 L211.55,1063.56 L212.79,1061.08 L214.04,1058.55 L215.29,1055.96 L216.54,1053.31 L217.79,1050.61 L219.04,1047.86 L220.29,1045.07 L221.54,1042.24 L222.79,1039.37 L224.04,1036.48 L225.29,1033.58 L226.54,1030.67 L227.78,1027.77 L229.03,1024.89 L230.28,1022.05 L231.53,1019.25 L232.78,1016.51 L234.03,1013.85 L235.28,1011.27 L236.53,1008.78 L237.78,1006.4 L239.03,1004.13 L240.28,1001.99 L241.53,999.98 L242.77,998.11 L244.02,996.37 L245.27,994.79 L246.52,993.34 L247.77,992.05 L249.02,990.9 L250.27,989.89 L251.52,989.03 L252.77,988.3 L254.02,987.71 L255.27,987.24 L256.52,986.9 L257.76,986.67 L259.01,986.56 L260.26,986.55 L261.51,986.64 L262.76,986.82 L264.01,987.09 L265.26,987.45 L266.51,987.88 L267.76,988.38 L269.01,988.96 L270.26,989.59 L271.51,990.28 L272.75,991.03 L274,991.82 L275.25,992.66 L276.5,993.54 L277.75,994.46 L279,995.41 L280.25,996.39 L281.5,997.39 L282.75,998.42 L284,999.48 L285.25,1000.55 L286.5,1001.65 L287.74,1002.76 L288.99,1003.9 L290.24,1005.06 L291.49,1006.24 L292.74,1007.45 L293.99,1008.67 L295.24,1009.93 L296.49,1011.2 L297.74,1012.51 L298.99,1013.85 L300.24,1015.22 L301.49,1016.61 L302.73,1018.04 L303.98,1019.5 L305.23,1020.98 L306.48,1022.49 L307.73,1024.03 L308.98,1025.59 L310.23,1027.16 L311.48,1028.76 L312.73,1030.36 L313.98,1031.97 L315.23,1033.58 L316.48,1035.2 L317.72,1036.81 L318.97,1038.42 L320.22,1040.02 L321.47,1041.61 L322.72,1043.18 L323.97,1044.73 L325.22,1046.27 L326.47,1047.78 L327.72,1049.25 L328.97,1050.7 L330.22,1052.11 L331.47,1053.5 L332.71,1054.85 L333.96,1056.17 L335.21,1057.48 L336.46,1058.77 L337.71,1060.04 L338.96,1061.31 L340.21,1062.56 L341.46,1063.78 L342.71,1064.98 L343.96,1066.13 L345.21,1067.25 L346.46,1068.33 L347.7,1069.37 L348.95,1070.37 L350.2,1071.32 L351.45,1072.21 L352.7,1073.03 L353.95,1073.73"/>
<path stroke="#8800cc" d="M54.4,1150.6 L55.4,1131.42 L56.65,1134.33 L57.9,1137.53 L59.15,1140.28 L60.4,1141.84 L61.65,1142.51 L62.89,1142.89 L64.14,1143.2 L65.39,1143.46 L66.64,1143.69 L67.89,1143.89 L69.14,1144.06 L70.39,1144.21 L71.64,1144.33 L72.89,1144.44 L74.14,1144.54 L75.39,1144.62 L76.64,1144.7 L77.88,1144.76 L79.13,1144.82 L80.38,1144.87 L81.63,1144.92 L82.88,1144.96 L84.13,1145 L85.38,1145.04 L86.63,1145.08 L87.88,1145.13 L89.13,1145.17 L90.38,1145.22 L91.63,1145.28 L92.87,1145.34 L94.12,1145.4 L95.37,1145.47 L96.62,1145.54 L97.87,1145.62 L99.12,1145.7 L100.37,1145.79 L101.62,1145.88 L102.87,1145.97 L104.12,1146.05 L105.37,1146.14 L106.62,1146.23 L107.86,1146.32 L109.11,1146.4 L110.36,1146.48 L111.61,1146.55 L112.86,1146.61 L114.11,1146.66 L115.36,1146.7 L116.61,1146.72 L117.86,1146.73 L119.11,1146.71 L120.36,1146.68 L121.61,1146.63 L122.85,1146.55 L124.1,1146.46 L125.35,1146.34 L126.6,1146.21 L127.85,1146.05 L129.1,1145.87 L130.35,1145.67 L131.6,1145.45 L132.85,1145.2 L134.1,1144.92 L135.35,1144.62 L136.6,1144.3 L137.84,1143.94 L139.09,1143.56 L140.34,1143.15 L141.59,1142.71 L142.84,1142.23 L144.09,1141.73 L145.34,1141.2 L146.59,1140.63 L147.84,1140.04 L149.09,1139.42 L150.34,1138.76 L151.59,1138.07 L152.83,1137.36 L154.08,1136.61 L155.33,1135.83 L156.58,1135.03 L157.83,1134.2 L159.08,1133.33 L160.33,1132.45 L161.58,1131.53 L162.83,1130.59 L164.08,1129.63 L165.33,1128.64 L166.58,1127.62 L167.82,1126.58 L169.07,1125.52 L170.32,1124.44 L171.57,1123.33 L172.82,1122.2 L174.07,1121.05 L175.32,1119.87 L176.57,1118.67 L177.82,1117.46 L179.07,1116.21 L180.32,1114.95 L181.57,1113.66 L182.81,1112.34 L184.06,1111 L185.31,1109.64 L186.56,1108.24 L187.81,1106.81 L189.06,1105.35 L190.31,1103.85 L191.56,1102.32 L192.81,1100.74 L194.06,1099.12 L195.31,1097.46 L196.56,1095.75 L197.8,1093.99 L199.05,1092.17 L200.3,1090.3 L201.55,1088.36 L202.8,1086.37 L204.05,1084.31 L205.3,1082.18 L206.55,1079.98 L207.8,1077.7 L209.05,1075.35 L210.3,1072.92 L211.55,1070.4 L212.79,1067.8 L214.04,1065.11 L215.29,1062.33 L216.54,1059.47 L217.79,1056.53 L219.04,1053.5 L220.29,1050.4 L221.54,1047.23 L222.79,1044 L224.04,1040.71 L225.29,1037.39 L226.54,1034.04 L227.78,1030.68 L229.03,1027.32 L230.28,1023.98 L231.53,1020.68 L232.78,1017.43 L234.03,1014.26 L235.28,1011.18 L236.53,1008.2 L237.78,1005.34 L239.03,1002.61 L240.28,1000.04 L241.53,997.62 L242.77,995.38 L244.02,993.31 L245.27,991.42 L246.52,989.72 L247.77,988.21 L249.02,986.9 L250.27,985.78 L251.52,984.85 L252.77,984.12 L254.02,983.57 L255.27,983.21 L256.52,983.02 L257.76,983.01 L259.01,983.17 L260.26,983.5 L261.51,983.97 L262.76,984.59 L264.01,985.35 L265.26,986.24 L266.51,987.25 L267.76,988.37 L269.01,989.58 L270.26,990.88 L271.51,992.24 L272.75,993.67 L274,995.15 L275.25,996.65 L276.5,998.18 L277.75,999.73 L279,1001.27 L280.25,1002.8 L281.5,1004.33 L282.75,1005.83 L284,1007.31 L285.25,1008.77 L286.5,1010.2 L287.74,1011.61 L288.99,1013 L290.24,1014.37 L291.49,1015.73 L292.74,1017.07 L293.99,1018.41 L295.24,1019.75 L296.49,1021.1 L297.74,1022.45 L298.99,1023.81 L300.24,1025.18 L301.49,1026.57 L302.73,1027.98 L303.98,1029.4 L305.23,1030.84 L306.48,1032.29 L307.73,1033.76 L308.98,1035.23 L310.23,1036.71 L311.48,1038.2 L312.73,1039.68 L313.98,1041.17 L315.23,1042.64 L316.48,1044.11 L317.72,1045.58 L318.97,1047.03 L320.22,1048.47 L321.47,1049.89 L322.72,1051.29 L323.97,1052.67 L325.22,1054.02 L326.47,1055.35 L327.72,1056.66 L328.97,1057.94 L330.22,1059.2 L331.47,1060.43 L332.71,1061.65 L333.96,1062.84 L335.21,1064.02 L336.46,1065.19 L337.71,1066.34 L338.96,1067.49 L340.21,1068.62 L341.46,1069.73 L342.71,1070.81 L343.96,1071.87 L345.21,1072.9 L346.46,1073.9 L347.7,1074.86 L348.95,1075.8 L350.2,1076.7 L351.45,1077.56 L352.7,1078.36 L353.95,1079.06"/>
<path stroke="#ff6600" d="M54.4,1150.6 L55.4,1133.55 L56.65,1135.76 L57.9,1138.18 L59.15,1140.26 L60.4,1141.47 L61.65,1142 L62.89,1142.32 L64.14,1142.58 L65.39,1142.8 L66.64,1143 L67.89,1143.17 L69.14,1143.32 L70.39,1143.44 L71.64,1143.54 L72.89,1143.63 L74.14,1143.71 L75.39,1143.78 L76.64,1143.83 L77.88,1143.89 L79.13,1143.94 L80.38,1143.98 L81.63,1144.02 L82.88,1144.06 L84.13,1144.09 L85.38,1144.12 L86.63,1144.15 L87.88,1144.17 L89.13,1144.18 L90.38,1144.19 L91.63,1144.2 L92.87,1144.21 L94.12,1144.21 L95.37,1144.21 L96.62,1144.21 L97.87,1144.21 L99.12,1144.21 L100.37,1144.21 L101.62,1144.21 L102.87,1144.21 L104.12,1144.22 L105.37,1144.23 L106.62,1144.24 L107.86,1144.25 L109.11,1144.27 L110.36,1144.29 L111.61,1144.31 L112.86,1144.32 L114.11,1144.33 L115.36,1144.32 L116.61,1144.3 L117.86,1144.25 L119.11,1144.19 L120.36,1144.09 L121.61,1143.97 L122.85,1143.82 L124.1,1143.64 L125.35,1143.43 L126.6,1143.17 L127.85,1142.88 L129.1,1142.55 L130.35,1142.17 L131.6,1141.74 L132.85,1141.26 L134.1,1140.72 L135.35,1140.12 L136.6,1139.45 L137.84,1138.72 L139.09,1137.92 L140.34,1137.05 L141.59,1136.12 L142.84,1135.12 L144.09,1134.06 L145.34,1132.95 L146.59,1131.78 L147.84,1130.55 L149.09,1129.26 L150.34,1127.93 L151.59,1126.55 L152.83,1125.14 L154.08,1123.69 L155.33,1122.21 L156.58,1120.71 L157.83,1119.19 L159.08,1117.66 L160.33,1116.11 L161.58,1114.55 L162.83,1112.98 L164.08,1111.4 L165.33,1109.81 L166.58,1108.21 L167.82,1106.6 L169.07,1104.98 L170.32,1103.34 L171.57,1101.68 L172.82,1100 L174.07,1098.3 L175.32,1096.57 L176.57,1094.81 L177.82,1093.02 L179.07,1091.2 L180.32,1089.35 L181.57,1087.46 L182.81,1085.55 L184.06,1083.6 L185.31,1081.62 L186.56,1079.61 L187.81,1077.58 L189.06,1075.51 L190.31,1073.41 L191.56,1071.28 L192.81,1069.12 L194.06,1066.93 L195.31,1064.69 L196.56,1062.41 L197.8,1060.09 L199.05,1057.72 L200.3,1055.3 L201.55,1052.82 L202.8,1050.28 L204.05,1047.69 L205.3,1045.03 L206.55,1042.32 L207.8,1039.55 L209.05,1036.73 L210.3,1033.87 L211.55,1030.98 L212.79,1028.06 L214.04,1025.14 L215.29,1022.21 L216.54,1019.3 L217.79,1016.42 L219.04,1013.59 L220.29,1010.82 L221.54,1008.12 L222.79,1005.52 L224.04,1003.02 L225.29,1000.63 L226.54,998.38 L227.78,996.25 L229.03,994.28 L230.28,992.44 L231.53,990.76 L232.78,989.24 L234.03,987.87 L235.28,986.64 L236.53,985.57 L237.78,984.64 L239.03,983.86 L240.28,983.2 L241.53,982.68 L242.77,982.27 L244.02,981.98 L245.27,981.8 L246.52,981.72 L247.77,981.74 L249.02,981.85 L250.27,982.05 L251.52,982.33 L252.77,982.69 L254.02,983.13 L255.27,983.65 L256.52,984.24 L257.76,984.9 L259.01,985.64 L260.26,986.44 L261.51,987.32 L262.76,988.25 L264.01,989.25 L265.26,990.32 L266.51,991.43 L267.76,992.6 L269.01,993.82 L270.26,995.08 L271.51,996.38 L272.75,997.71 L274,999.06 L275.25,1000.43 L276.5,1001.82 L277.75,1003.22 L279,1004.62 L280.25,1006.02 L281.5,1007.43 L282.75,1008.82 L284,1010.22 L285.25,1011.6 L286.5,1012.98 L287.74,1014.36 L288.99,1015.74 L290.24,1017.11 L291.49,1018.48 L292.74,1019.86 L293.99,1021.24 L295.24,1022.62 L296.49,1024.02 L297.74,1025.42 L298.99,1026.84 L300.24,1028.26 L301.49,1029.7 L302.73,1031.15 L303.98,1032.61 L305.23,1034.08 L306.48,1035.56 L307.73,1037.04 L308.98,1038.53 L310.23,1040.01 L311.48,1041.5 L312.73,1042.98 L313.98,1044.46 L315.23,1045.93 L316.48,1047.39 L317.72,1048.84 L318.97,1050.27 L320.22,1051.7 L321.47,1053.1 L322.72,1054.49 L323.97,1055.86 L325.22,1057.21 L326.47,1058.54 L327.72,1059.84 L328.97,1061.12 L330.22,1062.38 L331.47,1063.62 L332.71,1064.84 L333.96,1066.05 L335.21,1067.23 L336.46,1068.41 L337.71,1069.57 L338.96,1070.73 L340.21,1071.87 L341.46,1073 L342.71,1074.1 L343.96,1075.19 L345.21,1076.27 L346.46,1077.32 L347.7,1078.35 L348.95,1079.36 L350.2,1080.35 L351.45,1081.31 L352.7,1082.24 L353.95,1083.08"/>
<path stroke="#00ff00" d="M54.4,1150.6 L55.4,1137.81 L56.65,1139.4 L57.9,1141.14 L59.15,1142.63 L60.4,1143.45 L61.65,1143.77 L62.89,1143.94 L64.14,1144.07 L65.39,1144.19 L66.64,1144.29 L67.89,1144.38 L69.14,1144.46 L70.39,1144.52 L71.64,1144.56 L72.89,1144.6 L74.14,1144.62 L75.39,1144.63 L76.64,1144.64 L77.88,1144.64 L79.13,1144.64 L80.38,1144.64 L81.63,1144.64 L82.88,1144.64 L84.13,1144.64 L85.38,1144.64 L86.63,1144.64 L87.88,1144.64 L89.13,1144.64 L90.38,1144.63 L91.63,1144.63 L92.87,1144.63 L94.12,1144.62 L95.37,1144.61 L96.62,1144.6 L97.87,1144.58 L99.12,1144.56 L100.37,1144.55 L101.62,1144.53 L102.87,1144.5 L104.12,1144.48 L105.37,1144.46 L106.62,1144.43 L107.86,1144.4 L109.11,1144.36 L110.36,1144.31 L111.61,1144.24 L112.86,1144.15 L114.11,1144.03 L115.36,1143.88 L116.61,1143.69 L117.86,1143.46 L119.11,1143.18 L120.36,1142.85 L121.61,1142.46 L122.85,1142.02 L124.1,1141.52 L125.35,1140.96 L126.6,1140.35 L127.85,1139.68 L129.1,1138.95 L130.35,1138.17 L131.6,1137.33 L132.85,1136.42 L134.1,1135.47 L135.35,1134.45 L136.6,1133.37 L137.84,1132.23 L139.09,1131.04 L140.34,1129.78 L141.59,1128.47 L142.84,1127.11 L144.09,1125.69 L145.34,1124.23 L146.59,1122.71 L147.84,1121.14 L149.09,1119.53 L150.34,1117.87 L151.59,1116.17 L152.83,1114.43 L154.08,1112.66 L155.33,1110.86 L156.58,1109.03 L157.83,1107.17 L159.08,1105.29 L160.33,1103.39 L161.58,1101.48 L162.83,1099.55 L164.08,1097.61 L165.33,1095.66 L166.58,1093.7 L167.82,1091.74 L169.07,1089.77 L170.32,1087.8 L171.57,1085.83 L172.82,1083.85 L174.07,1081.88 L175.32,1079.91 L176.57,1077.93 L177.82,1075.95 L179.07,1073.96 L180.32,1071.97 L181.57,1069.97 L182.81,1067.96 L184.06,1065.94 L185.31,1063.9 L186.56,1061.84 L187.81,1059.75 L189.06,1057.64 L190.31,1055.49 L191.56,1053.32 L192.81,1051.11 L194.06,1048.87 L195.31,1046.6 L196.56,1044.29 L197.8,1041.96 L199.05,1039.6 L200.3,1037.21 L201.55,1034.82 L202.8,1032.41 L204.05,1030 L205.3,1027.6 L206.55,1025.22 L207.8,1022.87 L209.05,1020.56 L210.3,1018.3 L211.55,1016.1 L212.79,1013.96 L214.04,1011.91 L215.29,1009.94 L216.54,1008.07 L217.79,1006.3 L219.04,1004.64 L220.29,1003.09 L221.54,1001.66 L222.79,1000.35 L224.04,999.15 L225.29,998.08 L226.54,997.12 L227.78,996.29 L229.03,995.57 L230.28,994.96 L231.53,994.46 L232.78,994.07 L234.03,993.79 L235.28,993.6 L236.53,993.52 L237.78,993.53 L239.03,993.63 L240.28,993.83 L241.53,994.11 L242.77,994.49 L244.02,994.94 L245.27,995.48 L246.52,996.1 L247.77,996.8 L249.02,997.57 L250.27,998.42 L251.52,999.33 L252.77,1000.31 L254.02,1001.35 L255.27,1002.45 L256.52,1003.61 L257.76,1004.82 L259.01,1006.07 L260.26,1007.36 L261.51,1008.7 L262.76,1010.07 L264.01,1011.47 L265.26,1012.9 L266.51,1014.35 L267.76,1015.82 L269.01,1017.31 L270.26,1018.81 L271.51,1020.32 L272.75,1021.83 L274,1023.35 L275.25,1024.87 L276.5,1026.38 L277.75,1027.9 L279,1029.4 L280.25,1030.89 L281.5,1032.38 L282.75,1033.86 L284,1035.32 L285.25,1036.77 L286.5,1038.21 L287.74,1039.64 L288.99,1041.05 L290.24,1042.46 L291.49,1043.85 L292.74,1045.23 L293.99,1046.59 L295.24,1047.95 L296.49,1049.29 L297.74,1050.62 L298.99,1051.93 L300.24,1053.23 L301.49,1054.51 L302.73,1055.78 L303.98,1057.03 L305.23,1058.26 L306.48,1059.48 L307.73,1060.68 L308.98,1061.86 L310.23,1063.03 L311.48,1064.18 L312.73,1065.31 L313.98,1066.43 L315.23,1067.53 L316.48,1068.61 L317.72,1069.69 L318.97,1070.74 L320.22,1071.79 L321.47,1072.82 L322.72,1073.84 L323.97,1074.85 L325.22,1075.84 L326.47,1076.83 L327.72,1077.81 L328.97,1078.79 L330.22,1079.76 L331.47,1080.72 L332.71,1081.68 L333.96,1082.64 L335.21,1083.59 L336.46,1084.54 L337.71,1085.49 L338.96,1086.44 L340.21,1087.39 L341.46,1088.33 L342.71,1089.28 L343.96,1090.22 L345.21,1091.17 L346.46,1092.11 L347.7,1093.07 L348.95,1094.03 L350.2,1094.99 L351.45,1095.97 L352.7,1096.96 L353.95,1097.97"/>
<path stroke="#0000ff" d="M54.4,1150.6 L55.4,1135.25 L56.65,1136.96 L57.9,1138.87 L59.15,1140.71 L60.4,1142.17 L61.65,1143 L62.89,1143.41 L64.14,1143.65 L65.39,1143.84 L66.64,1143.99 L67.89,1144.13 L69.14,1144.25 L70.39,1144.34 L71.64,1144.43 L72.89,1144.5 L74.14,1144.57 L75.39,1144.63 L76.64,1144.68 L77.88,1144.73 L79.13,1144.78 L80.38,1144.83 L81.63,1144.87 L82.88,1144.91 L84.13,1144.94 L85.38,1144.97 L86.63,1145 L87.88,1145.02 L89.13,1145.04 L90.38,1145.05 L91.63,1145.05 L92.87,1145.06 L94.12,1145.06 L95.37,1145.06 L96.62,1145.05 L97.87,1145.04 L99.12,1145.03 L100.37,1145.02 L101.62,1145.01 L102.87,1145 L104.12,1144.99 L105.37,1144.97 L106.62,1144.96 L107.86,1144.95 L109.11,1144.94 L110.36,1144.93 L111.61,1144.92 L112.86,1144.9 L114.11,1144.87 L115.36,1144.84 L116.61,1144.79 L117.86,1144.74 L119.11,1144.66 L120.36,1144.57 L121.61,1144.46 L122.85,1144.33 L124.1,1144.18 L125.35,1144 L126.6,1143.8 L127.85,1143.56 L129.1,1143.29 L130.35,1142.99 L131.6,1142.64 L132.85,1142.24 L134.1,1141.78 L135.35,1141.27 L136.6,1140.7 L137.84,1140.07 L139.09,1139.37 L140.34,1138.6 L141.59,1137.77 L142.84,1136.88 L144.09,1135.94 L145.34,1134.94 L146.59,1133.89 L147.84,1132.78 L149.09,1131.62 L150.34,1130.42 L151.59,1129.19 L152.83,1127.92 L154.08,1126.62 L155.33,1125.3 L156.58,1123.97 L157.83,1122.63 L159.08,1121.29 L160.33,1119.95 L161.58,1118.62 L162.83,1117.29 L164.08,1115.98 L165.33,1114.68 L166.58,1113.4 L167.82,1112.13 L169.07,1110.87 L170.32,1109.63 L171.57,1108.4 L172.82,1107.18 L174.07,1105.98 L175.32,1104.78 L176.57,1103.58 L177.82,1102.38 L179.07,1101.18 L180.32,1099.98 L181.57,1098.77 L182.81,1097.54 L184.06,1096.3 L185.31,1095.04 L186.56,1093.74 L187.81,1092.42 L189.06,1091.06 L190.31,1089.66 L191.56,1088.22 L192.81,1086.72 L194.06,1085.16 L195.31,1083.53 L196.56,1081.84 L197.8,1080.07 L199.05,1078.21 L200.3,1076.28 L201.55,1074.25 L202.8,1072.13 L204.05,1069.92 L205.3,1067.61 L206.55,1065.2 L207.8,1062.71 L209.05,1060.12 L210.3,1057.44 L211.55,1054.69 L212.79,1051.86 L214.04,1048.96 L215.29,1046.01 L216.54,1043.01 L217.79,1039.98 L219.04,1036.93 L220.29,1033.88 L221.54,1030.83 L222.79,1027.81 L224.04,1024.83 L225.29,1021.91 L226.54,1019.05 L227.78,1016.28 L229.03,1013.6 L230.28,1011.03 L231.53,1008.58 L232.78,1006.25 L234.03,1004.06 L235.28,1002.01 L236.53,1000.1 L237.78,998.35 L239.03,996.74 L240.28,995.3 L241.53,994 L242.77,992.86 L244.02,991.88 L245.27,991.04 L246.52,990.36 L247.77,989.82 L249.02,989.42 L250.27,989.17 L251.52,989.05 L252.77,989.06 L254.02,989.2 L255.27,989.46 L256.52,989.83 L257.76,990.32 L259.01,990.9 L260.26,991.59 L261.51,992.36 L262.76,993.22 L264.01,994.15 L265.26,995.15 L266.51,996.21 L267.76,997.33 L269.01,998.5 L270.26,999.71 L271.51,1000.96 L272.75,1002.24 L274,1003.55 L275.25,1004.87 L276.5,1006.22 L277.75,1007.58 L279,1008.95 L280.25,1010.34 L281.5,1011.73 L282.75,1013.14 L284,1014.55 L285.25,1015.97 L286.5,1017.41 L287.74,1018.86 L288.99,1020.32 L290.24,1021.8 L291.49,1023.29 L292.74,1024.8 L293.99,1026.32 L295.24,1027.85 L296.49,1029.39 L297.74,1030.94 L298.99,1032.49 L300.24,1034.05 L301.49,1035.61 L302.73,1037.16 L303.98,1038.71 L305.23,1040.24 L306.48,1041.77 L307.73,1043.27 L308.98,1044.76 L310.23,1046.23 L311.48,1047.68 L312.73,1049.11 L313.98,1050.51 L315.23,1051.9 L316.48,1053.26 L317.72,1054.61 L318.97,1055.94 L320.22,1057.24 L321.47,1058.53 L322.72,1059.79 L323.97,1061.03 L325.22,1062.26 L326.47,1063.46 L327.72,1064.66 L328.97,1065.85 L330.22,1067.04 L331.47,1068.22 L332.71,1069.39 L333.96,1070.54 L335.21,1071.68 L336.46,1072.8 L337.71,1073.9 L338.96,1074.99 L340.21,1076.06 L341.46,1077.13 L342.71,1078.19 L343.96,1079.24 L345.21,1080.3 L346.46,1081.36 L347.7,1082.42 L348.95,1083.5 L350.2,1084.58 L351.45,1085.68 L352.7,1086.79 L353.95,1087.92"/>
<path stroke="#ff0000" d="M54.4,1150.6 L55.4,1135.68 L56.65,1138 L57.9,1140.53 L59.15,1142.72 L60.4,1144.01 L61.65,1144.61 L62.89,1144.99 L64.14,1145.29 L65.39,1145.56 L66.64,1145.8 L67.89,1146 L69.14,1146.18 L70.39,1146.33 L71.64,1146.46 L72.89,1146.57 L74.14,1146.67 L75.39,1146.76 L76.64,1146.83 L77.88,1146.9 L79.13,1146.97 L80.38,1147.02 L81.63,1147.08 L82.88,1147.12 L84.13,1147.17 L85.38,1147.21 L86.63,1147.25 L87.88,1147.29 L89.13,1147.33 L90.38,1147.36 L91.63,1147.4 L92.87,1147.44 L94.12,1147.48 L95.37,1147.51 L96.62,1147.55 L97.87,1147.59 L99.12,1147.63 L100.37,1147.67 L101.62,1147.71 L102.87,1147.74 L104.12,1147.78 L105.37,1147.81 L106.62,1147.85 L107.86,1147.88 L109.11,1147.91 L110.36,1147.94 L111.61,1147.97 L112.86,1147.99 L114.11,1148.01 L115.36,1148.03 L116.61,1148.03 L117.86,1148.04 L119.11,1148.03 L120.36,1148.02 L121.61,1148 L122.85,1147.98 L124.1,1147.95 L125.35,1147.91 L126.6,1147.86 L127.85,1147.8 L129.1,1147.73 L130.35,1147.65 L131.6,1147.56 L132.85,1147.45 L134.1,1147.33 L135.35,1147.19 L136.6,1147.03 L137.84,1146.85 L139.09,1146.66 L140.34,1146.43 L141.59,1146.19 L142.84,1145.93 L144.09,1145.65 L145.34,1145.35 L146.59,1145.03 L147.84,1144.69 L149.09,1144.34 L150.34,1143.96 L151.59,1143.57 L152.83,1143.16 L154.08,1142.74 L155.33,1142.31 L156.58,1141.87 L157.83,1141.42 L159.08,1140.95 L160.33,1140.49 L161.58,1140.01 L162.83,1139.53 L164.08,1139.04 L165.33,1138.54 L166.58,1138.04 L167.82,1137.53 L169.07,1137.01 L170.32,1136.47 L171.57,1135.93 L172.82,1135.37 L174.07,1134.8 L175.32,1134.2 L176.57,1133.59 L177.82,1132.96 L179.07,1132.31 L180.32,1131.63 L181.57,1130.92 L182.81,1130.18 L184.06,1129.42 L185.31,1128.63 L186.56,1127.81 L187.81,1126.95 L189.06,1126.07 L190.31,1125.15 L191.56,1124.21 L192.81,1123.24 L194.06,1122.24 L195.31,1121.2 L196.56,1120.14 L197.8,1119.06 L199.05,1117.94 L200.3,1116.79 L201.55,1115.62 L202.8,1114.41 L204.05,1113.18 L205.3,1111.91 L206.55,1110.6 L207.8,1109.26 L209.05,1107.87 L210.3,1106.43 L211.55,1104.95 L212.79,1103.41 L214.04,1101.81 L215.29,1100.15 L216.54,1098.42 L217.79,1096.61 L219.04,1094.73 L220.29,1092.77 L221.54,1090.73 L222.79,1088.6 L224.04,1086.37 L225.29,1084.06 L226.54,1081.66 L227.78,1079.17 L229.03,1076.59 L230.28,1073.92 L231.53,1071.16 L232.78,1068.32 L234.03,1065.41 L235.28,1062.41 L236.53,1059.35 L237.78,1056.22 L239.03,1053.02 L240.28,1049.78 L241.53,1046.49 L242.77,1043.16 L244.02,1039.81 L245.27,1036.45 L246.52,1033.09 L247.77,1029.75 L249.02,1026.45 L250.27,1023.2 L251.52,1020.02 L252.77,1016.94 L254.02,1013.97 L255.27,1011.13 L256.52,1008.44 L257.76,1005.9 L259.01,1003.54 L260.26,1001.37 L261.51,999.38 L262.76,997.59 L264.01,996 L265.26,994.6 L266.51,993.4 L267.76,992.38 L269.01,991.54 L270.26,990.88 L271.51,990.38 L272.75,990.03 L274,989.83 L275.25,989.77 L276.5,989.83 L277.75,990.01 L279,990.3 L280.25,990.7 L281.5,991.21 L282.75,991.8 L284,992.49 L285.25,993.27 L286.5,994.12 L287.74,995.06 L288.99,996.07 L290.24,997.15 L291.49,998.3 L292.74,999.5 L293.99,1000.77 L295.24,1002.08 L296.49,1003.44 L297.74,1004.84 L298.99,1006.27 L300.24,1007.74 L301.49,1009.23 L302.73,1010.75 L303.98,1012.28 L305.23,1013.82 L306.48,1015.38 L307.73,1016.94 L308.98,1018.5 L310.23,1020.06 L311.48,1021.63 L312.73,1023.19 L313.98,1024.75 L315.23,1026.31 L316.48,1027.86 L317.72,1029.41 L318.97,1030.95 L320.22,1032.49 L321.47,1034.02 L322.72,1035.54 L323.97,1037.05 L325.22,1038.55 L326.47,1040.05 L327.72,1041.54 L328.97,1043.03 L330.22,1044.51 L331.47,1045.97 L332.71,1047.43 L333.96,1048.87 L335.21,1050.31 L336.46,1051.74 L337.71,1053.17 L338.96,1054.6 L340.21,1056.02 L341.46,1057.44 L342.71,1058.86 L343.96,1060.27 L345.21,1061.68 L346.46,1063.09 L347.7,1064.49 L348.95,1065.9 L350.2,1067.3 L351.45,1068.69 L352.7,1070.09 L353.95,1071.46"/>
<path stroke="#000000" d="M54.4,1150.6 L55.4,1140.37 L56.65,1141.7 L57.9,1143.16 L59.15,1144.42 L60.4,1145.16 L61.65,1145.5 L62.89,1145.72 L64.14,1145.89 L65.39,1146.04 L66.64,1146.17 L67.89,1146.28 L69.14,1146.38 L70.39,1146.47 L71.64,1146.55 L72.89,1146.62 L74.14,1146.69 L75.39,1146.76 L76.64,1146.82 L77.88,1146.89 L79.13,1146.95 L80.38,1147.01 L81.63,1147.06 L82.88,1147.12 L84.13,1147.16 L85.38,1147.21 L86.63,1147.25 L87.88,1147.29 L89.13,1147.33 L90.38,1147.36 L91.63,1147.4 L92.87,1147.43 L94.12,1147.46 L95.37,1147.49 L96.62,1147.51 L97.87,1147.54 L99.12,1147.57 L100.37,1147.59 L101.62,1147.62 L102.87,1147.64 L104.12,1147.67 L105.37,1147.69 L106.62,1147.71 L107.86,1147.74 L109.11,1147.76 L110.36,1147.78 L111.61,1147.8 L112.86,1147.81 L114.11,1147.83 L115.36,1147.83 L116.61,1147.84 L117.86,1147.83 L119.11,1147.82 L120.36,1147.81 L121.61,1147.78 L122.85,1147.75 L124.1,1147.71 L125.35,1147.66 L126.6,1147.6 L127.85,1147.54 L129.1,1147.46 L130.35,1147.37 L131.6,1147.26 L132.85,1147.14 L134.1,1147 L135.35,1146.84 L136.6,1146.66 L137.84,1146.46 L139.09,1146.24 L140.34,1145.99 L141.59,1145.73 L142.84,1145.44 L144.09,1145.13 L145.34,1144.81 L146.59,1144.46 L147.84,1144.1 L149.09,1143.71 L150.34,1143.31 L151.59,1142.9 L152.83,1142.46 L154.08,1142.02 L155.33,1141.57 L156.58,1141.11 L157.83,1140.64 L159.08,1140.16 L160.33,1139.68 L161.58,1139.2 L162.83,1138.71 L164.08,1138.21 L165.33,1137.72 L166.58,1137.22 L167.82,1136.71 L169.07,1136.2 L170.32,1135.67 L171.57,1135.14 L172.82,1134.6 L174.07,1134.05 L175.32,1133.47 L176.57,1132.89 L177.82,1132.28 L179.07,1131.65 L180.32,1131 L181.57,1130.32 L182.81,1129.62 L184.06,1128.88 L185.31,1128.12 L186.56,1127.33 L187.81,1126.5 L189.06,1125.64 L190.31,1124.75 L191.56,1123.82 L192.81,1122.85 L194.06,1121.85 L195.31,1120.81 L196.56,1119.73 L197.8,1118.61 L199.05,1117.45 L200.3,1116.24 L201.55,1114.99 L202.8,1113.69 L204.05,1112.34 L205.3,1110.93 L206.55,1109.48 L207.8,1107.96 L209.05,1106.39 L210.3,1104.75 L211.55,1103.05 L212.79,1101.29 L214.04,1099.46 L215.29,1097.56 L216.54,1095.59 L217.79,1093.55 L219.04,1091.44 L220.29,1089.26 L221.54,1087.02 L222.79,1084.72 L224.04,1082.35 L225.29,1079.92 L226.54,1077.45 L227.78,1074.92 L229.03,1072.35 L230.28,1069.74 L231.53,1067.1 L232.78,1064.43 L234.03,1061.74 L235.28,1059.04 L236.53,1056.32 L237.78,1053.59 L239.03,1050.86 L240.28,1048.13 L241.53,1045.4 L242.77,1042.69 L244.02,1039.99 L245.27,1037.31 L246.52,1034.66 L247.77,1032.04 L249.02,1029.46 L250.27,1026.94 L251.52,1024.47 L252.77,1022.07 L254.02,1019.75 L255.27,1017.52 L256.52,1015.39 L257.76,1013.36 L259.01,1011.46 L260.26,1009.68 L261.51,1008.04 L262.76,1006.54 L264.01,1005.18 L265.26,1003.97 L266.51,1002.91 L267.76,1002 L269.01,1001.24 L270.26,1000.63 L271.51,1000.17 L272.75,999.85 L274,999.67 L275.25,999.63 L276.5,999.71 L277.75,999.92 L279,1000.25 L280.25,1000.7 L281.5,1001.25 L282.75,1001.89 L284,1002.63 L285.25,1003.45 L286.5,1004.35 L287.74,1005.32 L288.99,1006.35 L290.24,1007.43 L291.49,1008.56 L292.74,1009.73 L293.99,1010.94 L295.24,1012.18 L296.49,1013.45 L297.74,1014.74 L298.99,1016.04 L300.24,1017.36 L301.49,1018.7 L302.73,1020.04 L303.98,1021.39 L305.23,1022.75 L306.48,1024.11 L307.73,1025.48 L308.98,1026.85 L310.23,1028.22 L311.48,1029.59 L312.73,1030.96 L313.98,1032.34 L315.23,1033.71 L316.48,1035.08 L317.72,1036.45 L318.97,1037.82 L320.22,1039.19 L321.47,1040.55 L322.72,1041.91 L323.97,1043.27 L325.22,1044.62 L326.47,1045.97 L327.72,1047.32 L328.97,1048.66 L330.22,1049.99 L331.47,1051.32 L332.71,1052.64 L333.96,1053.95 L335.21,1055.27 L336.46,1056.59 L337.71,1057.9 L338.96,1059.21 L340.21,1060.52 L341.46,1061.83 L342.71,1063.14 L343.96,1064.44 L345.21,1065.73 L346.46,1067.03 L347.7,1068.32 L348.95,1069.61 L350.2,1070.89 L351.45,1072.17 L352.7,1073.43 L353.95,1074.68"/>
<path stroke="#808080" d="M54.4,1150.6 L55.4,1144.21 L56.65,1144.46 L57.9,1144.75 L59.15,1145.05 L60.4,1145.36 L61.65,1145.65 L62.89,1145.91 L64.14,1146.11 L65.39,1146.25 L66.64,1146.32 L67.89,1146.35 L69.14,1146.36 L70.39,1146.35 L71.64,1146.34 L72.89,1146.32 L74.14,1146.3 L75.39,1146.29 L76.64,1146.27 L77.88,1146.25 L79.13,1146.22 L80.38,1146.2 L81.63,1146.18 L82.88,1146.15 L84.13,1146.13 L85.38,1146.1 L86.63,1146.07 L87.88,1146.04 L89.13,1146.01 L90.38,1145.97 L91.63,1145.92 L92.87,1145.86 L94.12,1145.79 L95.37,1145.71 L96.62,1145.62 L97.87,1145.51 L99.12,1145.39 L100.37,1145.26 L101.62,1145.11 L102.87,1144.95 L104.12,1144.78 L105.37,1144.6 L106.62,1144.41 L107.86,1144.2 L109.11,1143.99 L110.36,1143.77 L111.61,1143.54 L112.86,1143.3 L114.11,1143.05 L115.36,1142.78 L116.61,1142.49 L117.86,1142.18 L119.11,1141.85 L120.36,1141.5 L121.61,1141.12 L122.85,1140.72 L124.1,1140.29 L125.35,1139.83 L126.6,1139.35 L127.85,1138.83 L129.1,1138.28 L130.35,1137.71 L131.6,1137.09 L132.85,1136.45 L134.1,1135.77 L135.35,1135.05 L136.6,1134.3 L137.84,1133.51 L139.09,1132.69 L140.34,1131.82 L141.59,1130.93 L142.84,1130 L144.09,1129.04 L145.34,1128.04 L146.59,1127.02 L147.84,1125.97 L149.09,1124.89 L150.34,1123.78 L151.59,1122.65 L152.83,1121.5 L154.08,1120.34 L155.33,1119.15 L156.58,1117.95 L157.83,1116.74 L159.08,1115.52 L160.33,1114.29 L161.58,1113.06 L162.83,1111.82 L164.08,1110.57 L165.33,1109.32 L166.58,1108.07 L167.82,1106.81 L169.07,1105.55 L170.32,1104.28 L171.57,1103.01 L172.82,1101.73 L174.07,1100.45 L175.32,1099.16 L176.57,1097.86 L177.82,1096.56 L179.07,1095.25 L180.32,1093.93 L181.57,1092.6 L182.81,1091.27 L184.06,1089.92 L185.31,1088.58 L186.56,1087.22 L187.81,1085.86 L189.06,1084.5 L190.31,1083.13 L191.56,1081.77 L192.81,1080.41 L194.06,1079.05 L195.31,1077.69 L196.56,1076.35 L197.8,1075.01 L199.05,1073.69 L200.3,1072.37 L201.55,1071.07 L202.8,1069.79 L204.05,1068.52 L205.3,1067.26 L206.55,1066.03 L207.8,1064.81 L209.05,1063.61 L210.3,1062.43 L211.55,1061.27 L212.79,1060.13 L214.04,1059.01 L215.29,1057.91 L216.54,1056.84 L217.79,1055.79 L219.04,1054.76 L220.29,1053.77 L221.54,1052.8 L222.79,1051.87 L224.04,1050.98 L225.29,1050.12 L226.54,1049.31 L227.78,1048.55 L229.03,1047.84 L230.28,1047.18 L231.53,1046.58 L232.78,1046.04 L234.03,1045.57 L235.28,1045.17 L236.53,1044.85 L237.78,1044.59 L239.03,1044.42 L240.28,1044.32 L241.53,1044.3 L242.77,1044.36 L244.02,1044.49 L245.27,1044.7 L246.52,1044.99 L247.77,1045.34 L249.02,1045.77 L250.27,1046.26 L251.52,1046.81 L252.77,1047.42 L254.02,1048.08 L255.27,1048.8 L256.52,1049.57 L257.76,1050.38 L259.01,1051.24 L260.26,1052.14 L261.51,1053.08 L262.76,1054.05 L264.01,1055.06 L265.26,1056.1 L266.51,1057.17 L267.76,1058.28 L269.01,1059.41 L270.26,1060.57 L271.51,1061.76 L272.75,1062.97 L274,1064.2 L275.25,1065.46 L276.5,1066.73 L277.75,1068.02 L279,1069.33 L280.25,1070.64 L281.5,1071.97 L282.75,1073.3 L284,1074.63 L285.25,1075.96 L286.5,1077.29 L287.74,1078.62 L288.99,1079.93 L290.24,1081.23 L291.49,1082.51 L292.74,1083.77 L293.99,1085.02 L295.24,1086.24 L296.49,1087.44 L297.74,1088.62 L298.99,1089.77 L300.24,1090.89 L301.49,1091.99 L302.73,1093.06 L303.98,1094.1 L305.23,1095.11 L306.48,1096.1 L307.73,1097.06 L308.98,1097.99 L310.23,1098.89 L311.48,1099.77 L312.73,1100.62 L313.98,1101.45 L315.23,1102.25 L316.48,1103.03 L317.72,1103.78 L318.97,1104.51 L320.22,1105.22 L321.47,1105.9 L322.72,1106.57 L323.97,1107.22 L325.22,1107.84 L326.47,1108.45 L327.72,1109.04 L328.97,1109.62 L330.22,1110.18 L331.47,1110.73 L332.71,1111.27 L333.96,1111.8 L335.21,1112.32 L336.46,1112.85 L337.71,1113.36 L338.96,1113.88 L340.21,1114.38 L341.46,1114.88 L342.71,1115.36 L343.96,1115.82 L345.21,1116.27 L346.46,1116.7 L347.7,1117.1 L348.95,1117.49 L350.2,1117.86 L351.45,1118.23 L352.7,1118.6 L353.95,1118.98"/>
</g>
<path d="M54.4,852.2 H354.2 V1150.6 H54.4 Z M54.4,1150.6 v9.5 M54.4,852.2 v-9.5 M66.89,1150.6 v4.5 M66.89,852.2 v-4.5 M79.38,1150.6 v4.5 M79.38,852.2 v-4.5 M91.88,1150.6 v9.5 M91.88,852.2 v-9.5 M104.37,1150.6 v4.5 M104.37,852.2 v-4.5 M116.86,1150.6 v4.5 M116.86,852.2 v-4.5 M129.35,1150.6 v9.5 M129.35,852.2 v-9.5 M141.84,1150.6 v4.5 M141.84,852.2 v-4.5 M154.33,1150.6 v4.5 M154.33,852.2 v-4.5 M166.83,1150.6 v9.5 M166.83,852.2 v-9.5 M179.32,1150.6 v4.5 M179.32,852.2 v-4.5 M191.81,1150.6 v4.5 M191.81,852.2 v-4.5 M204.3,1150.6 v9.5 M204.3,852.2 v-9.5 M216.79,1150.6 v4.5 M216.79,852.2 v-4.5 M229.28,1150.6 v4.5 M229.28,852.2 v-4.5 M241.78,1150.6 v9.5 M241.78,852.2 v-9.5 M254.27,1150.6 v4.5 M254.27,852.2 v-4.5 M266.76,1150.6 v4.5 M266.76,852.2 v-4.5 M279.25,1150.6 v9.5 M279.25,852.2 v-9.5 M291.74,1150.6 v4.5 M291.74,852.2 v-4.5 M304.23,1150.6 v4.5 M304.23,852.2 v-4.5 M316.72,1150.6 v9.5 M316.72,852.2 v-9.5 M329.22,1150.6 v4.5 M329.22,852.2 v-4.5 M341.71,1150.6 v4.5 M341.71,852.2 v-4.5 M354.2,1150.6 v9.5 M354.2,852.2 v-9.5 M54.4,1150.6 h-10 M354.2,1150.6 h10 M54.4,1139.94 h-5 M354.2,1139.94 h5 M54.4,1129.29 h-10 M354.2,1129.29 h10 M54.4,1118.63 h-5 M354.2,1118.63 h5 M54.4,1107.97 h-10 M354.2,1107.97 h10 M54.4,1097.31 h-5 M354.2,1097.31 h5 M54.4,1086.66 h-10 M354.2,1086.66 h10 M54.4,1076 h-5 M354.2,1076 h5 M54.4,1065.34 h-10 M354.2,1065.34 h10 M54.4,1054.69 h-5 M354.2,1054.69 h5 M54.4,1044.03 h-10 M354.2,1044.03 h10 M54.4,1033.37 h-5 M354.2,1033.37 h5 M54.4,1022.71 h-10 M354.2,1022.71 h10 M54.4,1012.06 h-5 M354.2,1012.06 h5 M54.4,1001.4 h-10 M354.2,1001.4 h10 M54.4,990.74 h-5 M354.2,990.74 h5 M54.4,980.09 h-10 M354.2,980.09 h10 M54.4,969.43 h-5 M354.2,969.43 h5 M54.4,958.77 h-10 M354.2,958.77 h10 M54.4,948.11 h-5 M354.2,948.11 h5 M54.4,937.46 h-10 M354.2,937.46 h10 M54.4,926.8 h-5 M354.2,926.8 h5 M54.4,916.14 h-10 M354.2,916.14 h10 M54.4,905.49 h-5 M354.2,905.49 h5 M54.4,894.83 h-10 M354.2,894.83 h10 M54.4,884.17 h-5 M354.2,884.17 h5 M54.4,873.51 h-10 M354.2,873.51 h10 M54.4,862.86 h-5 M354.2,862.86 h5 M54.4,852.2 h-10 M354.2,852.2 h10" fill="none" stroke="#000" stroke-width="2.5" stroke-linecap="round"/>
<text x="54.4" y="1179.9" text-anchor="middle" class="tl">0</text>
<text x="91.88" y="1179.9" text-anchor="middle" class="tl">3</text>
<text x="129.35" y="1179.9" text-anchor="middle" class="tl">6</text>
<text x="166.83" y="1179.9" text-anchor="middle" class="tl">9</text>
<text x="204.3" y="1179.9" text-anchor="middle" class="tl">12</text>
<text x="241.78" y="1179.9" text-anchor="middle" class="tl">15</text>
<text x="279.25" y="1179.9" text-anchor="middle" class="tl">18</text>
<text x="316.72" y="1179.9" text-anchor="middle" class="tl">21</text>
<text x="354.2" y="1179.9" text-anchor="middle" class="tl">24</text>
<text x="38.9" y="1156.2" text-anchor="end" class="tl">0</text>
<text x="38.9" y="1113.57" text-anchor="end" class="tl">2</text>
<text x="38.9" y="1070.94" text-anchor="end" class="tl">4</text>
<text x="38.9" y="1028.31" text-anchor="end" class="tl">6</text>
<text x="38.9" y="985.69" text-anchor="end" class="tl">8</text>
<text x="38.9" y="943.06" text-anchor="end" class="tl">10</text>
<text x="38.9" y="900.43" text-anchor="end" class="tl">12</text>
<text x="38.9" y="857.8" text-anchor="end" class="tl">14</text>
<text x="204.5" y="1198.3" text-anchor="middle" class="at">Time (Hour)</text>
<text transform="translate(11.9,1108.9) rotate(-90)" class="yt">Heat Flow Rate (mW. g<tspan font-size="9.5" dx="1.5" dy="3.8">Cem</tspan><tspan font-size="9.5" dx="0.5" dy="-9.3">-1</tspan><tspan dx="0.6" dy="5.5">)</tspan></text>
<text x="208.5" y="1231.7" text-anchor="middle" class="pl">(E)</text>
<text x="110.5" y="876.1" text-anchor="middle" class="lg">Cement #7</text>
<text x="110.5" y="894.1" text-anchor="middle" class="lg">MK + C-LS</text>
<path d="M59.9,910.3 H84.2" stroke="#808080" stroke-width="3"/>
<text x="88.7" y="915.6" class="lg">0%</text>
<path d="M59.9,931.26 H84.2" stroke="#000000" stroke-width="3"/>
<text x="88.7" y="936.56" class="lg">10%-10%</text>
<path d="M59.9,952.22 H84.2" stroke="#ff0000" stroke-width="3"/>
<text x="88.7" y="957.52" class="lg">15%-15%</text>
<path d="M59.9,973.18 H84.2" stroke="#0000ff" stroke-width="3"/>
<text x="88.7" y="978.48" class="lg">20%-20%</text>
<path d="M59.9,994.14 H84.2" stroke="#00ff00" stroke-width="3"/>
<text x="88.7" y="999.44" class="lg">25%-25%</text>
<path d="M59.9,1015.1 H84.2" stroke="#ff6600" stroke-width="3"/>
<text x="88.7" y="1020.4" class="lg">30%-30%</text>
<path d="M59.9,1036.06 H84.2" stroke="#8800cc" stroke-width="3"/>
<text x="88.7" y="1041.36" class="lg">20%-10%</text>
<path d="M59.9,1057.02 H84.2" stroke="#ff99cc" stroke-width="3"/>
<text x="88.7" y="1062.32" class="lg">40%-20%</text>
<clipPath id="cF"><rect x="468.5" y="852.2" width="299.1" height="298.1"/></clipPath>
<g clip-path="url(#cF)" fill="none" stroke-width="3" stroke-linejoin="round" stroke-linecap="round">
<path stroke="#ff99cc" d="M468.5,1150.3 L469.5,1133.27 L470.74,1134.12 L471.99,1135.09 L473.24,1136.01 L474.48,1136.72 L475.73,1137.05 L476.97,1137.14 L478.22,1137.14 L479.47,1137.13 L480.71,1137.12 L481.96,1137.11 L483.21,1137.11 L484.45,1137.11 L485.7,1137.1 L486.94,1137.1 L488.19,1137.1 L489.44,1137.1 L490.68,1137.1 L491.93,1137.1 L493.18,1137.1 L494.42,1137.1 L495.67,1137.1 L496.91,1137.1 L498.16,1137.1 L499.41,1137.1 L500.65,1137.1 L501.9,1137.1 L503.15,1137.1 L504.39,1137.1 L505.64,1137.1 L506.88,1137.1 L508.13,1137.1 L509.38,1137.1 L510.62,1137.1 L511.87,1137.1 L513.12,1137.11 L514.36,1137.13 L515.61,1137.16 L516.85,1137.2 L518.1,1137.25 L519.35,1137.31 L520.59,1137.36 L521.84,1137.4 L523.09,1137.42 L524.33,1137.4 L525.58,1137.33 L526.82,1137.2 L528.07,1137 L529.32,1136.7 L530.56,1136.31 L531.81,1135.8 L533.06,1135.18 L534.3,1134.43 L535.55,1133.56 L536.79,1132.57 L538.04,1131.45 L539.29,1130.21 L540.53,1128.85 L541.78,1127.4 L543.03,1125.84 L544.27,1124.21 L545.52,1122.51 L546.76,1120.74 L548.01,1118.93 L549.26,1117.08 L550.5,1115.2 L551.75,1113.29 L553,1111.37 L554.24,1109.43 L555.49,1107.48 L556.73,1105.5 L557.98,1103.5 L559.23,1101.47 L560.47,1099.42 L561.72,1097.35 L562.97,1095.26 L564.21,1093.13 L565.46,1090.97 L566.7,1088.77 L567.95,1086.51 L569.2,1084.21 L570.44,1081.84 L571.69,1079.41 L572.94,1076.91 L574.18,1074.34 L575.43,1071.7 L576.67,1068.99 L577.92,1066.21 L579.17,1063.37 L580.41,1060.47 L581.66,1057.52 L582.91,1054.53 L584.15,1051.51 L585.4,1048.47 L586.64,1045.42 L587.89,1042.37 L589.14,1039.35 L590.38,1036.35 L591.63,1033.4 L592.88,1030.51 L594.12,1027.69 L595.37,1024.95 L596.61,1022.32 L597.86,1019.78 L599.11,1017.37 L600.35,1015.08 L601.6,1012.91 L602.85,1010.88 L604.09,1008.98 L605.34,1007.22 L606.58,1005.6 L607.83,1004.11 L609.08,1002.75 L610.32,1001.52 L611.57,1000.4 L612.82,999.41 L614.06,998.51 L615.31,997.73 L616.55,997.03 L617.8,996.43 L619.05,995.91 L620.29,995.48 L621.54,995.11 L622.79,994.82 L624.03,994.6 L625.28,994.44 L626.52,994.35 L627.77,994.32 L629.02,994.35 L630.26,994.44 L631.51,994.58 L632.76,994.78 L634,995.03 L635.25,995.34 L636.49,995.71 L637.74,996.12 L638.99,996.59 L640.23,997.11 L641.48,997.67 L642.73,998.29 L643.97,998.95 L645.22,999.65 L646.46,1000.4 L647.71,1001.18 L648.96,1002 L650.2,1002.86 L651.45,1003.76 L652.7,1004.69 L653.94,1005.65 L655.19,1006.63 L656.43,1007.65 L657.68,1008.69 L658.93,1009.76 L660.17,1010.86 L661.42,1011.97 L662.67,1013.11 L663.91,1014.28 L665.16,1015.46 L666.4,1016.67 L667.65,1017.89 L668.9,1019.14 L670.14,1020.41 L671.39,1021.7 L672.64,1023.01 L673.88,1024.34 L675.13,1025.68 L676.37,1027.05 L677.62,1028.43 L678.87,1029.83 L680.11,1031.25 L681.36,1032.68 L682.61,1034.12 L683.85,1035.58 L685.1,1037.04 L686.34,1038.5 L687.59,1039.97 L688.84,1041.44 L690.08,1042.9 L691.33,1044.36 L692.58,1045.8 L693.82,1047.23 L695.07,1048.65 L696.31,1050.05 L697.56,1051.42 L698.81,1052.78 L700.05,1054.11 L701.3,1055.41 L702.55,1056.69 L703.79,1057.95 L705.04,1059.18 L706.28,1060.38 L707.53,1061.56 L708.78,1062.72 L710.02,1063.85 L711.27,1064.97 L712.52,1066.06 L713.76,1067.13 L715.01,1068.19 L716.25,1069.23 L717.5,1070.26 L718.75,1071.26 L719.99,1072.26 L721.24,1073.24 L722.49,1074.21 L723.73,1075.17 L724.98,1076.12 L726.22,1077.05 L727.47,1077.98 L728.72,1078.89 L729.96,1079.8 L731.21,1080.69 L732.46,1081.57 L733.7,1082.45 L734.95,1083.31 L736.19,1084.17 L737.44,1085.01 L738.69,1085.85 L739.93,1086.68 L741.18,1087.5 L742.43,1088.3 L743.67,1089.11 L744.92,1089.9 L746.16,1090.68 L747.41,1091.46 L748.66,1092.22 L749.9,1092.98 L751.15,1093.72 L752.4,1094.46 L753.64,1095.18 L754.89,1095.9 L756.13,1096.6 L757.38,1097.29 L758.63,1097.96 L759.87,1098.63 L761.12,1099.28 L762.37,1099.92 L763.61,1100.55 L764.86,1101.16 L766.1,1101.75 L767.35,1102.29"/>
<path stroke="#8800cc" d="M468.5,1150.3 L469.5,1132.2 L470.74,1132.97 L471.99,1133.82 L473.24,1134.64 L474.48,1135.31 L475.73,1135.74 L476.97,1136.02 L478.22,1136.23 L479.47,1136.42 L480.71,1136.59 L481.96,1136.75 L483.21,1136.9 L484.45,1137.04 L485.7,1137.17 L486.94,1137.29 L488.19,1137.39 L489.44,1137.48 L490.68,1137.56 L491.93,1137.63 L493.18,1137.68 L494.42,1137.72 L495.67,1137.74 L496.91,1137.74 L498.16,1137.72 L499.41,1137.69 L500.65,1137.64 L501.9,1137.58 L503.15,1137.5 L504.39,1137.36 L505.64,1137.14 L506.88,1136.8 L508.13,1136.32 L509.38,1135.65 L510.62,1134.79 L511.87,1133.71 L513.12,1132.44 L514.36,1130.99 L515.61,1129.35 L516.85,1127.58 L518.1,1125.69 L519.35,1123.71 L520.59,1121.65 L521.84,1119.53 L523.09,1117.37 L524.33,1115.18 L525.58,1112.95 L526.82,1110.7 L528.07,1108.42 L529.32,1106.12 L530.56,1103.79 L531.81,1101.43 L533.06,1099.04 L534.3,1096.63 L535.55,1094.18 L536.79,1091.72 L538.04,1089.23 L539.29,1086.73 L540.53,1084.2 L541.78,1081.66 L543.03,1079.1 L544.27,1076.53 L545.52,1073.93 L546.76,1071.31 L548.01,1068.67 L549.26,1065.99 L550.5,1063.28 L551.75,1060.54 L553,1057.76 L554.24,1054.93 L555.49,1052.08 L556.73,1049.19 L557.98,1046.28 L559.23,1043.36 L560.47,1040.42 L561.72,1037.47 L562.97,1034.51 L564.21,1031.55 L565.46,1028.61 L566.7,1025.69 L567.95,1022.8 L569.2,1019.96 L570.44,1017.18 L571.69,1014.47 L572.94,1011.84 L574.18,1009.31 L575.43,1006.89 L576.67,1004.59 L577.92,1002.41 L579.17,1000.37 L580.41,998.46 L581.66,996.7 L582.91,995.08 L584.15,993.6 L585.4,992.26 L586.64,991.07 L587.89,990.02 L589.14,989.1 L590.38,988.3 L591.63,987.64 L592.88,987.1 L594.12,986.67 L595.37,986.36 L596.61,986.15 L597.86,986.05 L599.11,986.04 L600.35,986.14 L601.6,986.33 L602.85,986.62 L604.09,986.99 L605.34,987.46 L606.58,988.02 L607.83,988.66 L609.08,989.4 L610.32,990.22 L611.57,991.13 L612.82,992.12 L614.06,993.19 L615.31,994.34 L616.55,995.56 L617.8,996.86 L619.05,998.21 L620.29,999.63 L621.54,1001.09 L622.79,1002.6 L624.03,1004.15 L625.28,1005.73 L626.52,1007.34 L627.77,1008.95 L629.02,1010.58 L630.26,1012.21 L631.51,1013.84 L632.76,1015.46 L634,1017.07 L635.25,1018.67 L636.49,1020.24 L637.74,1021.8 L638.99,1023.35 L640.23,1024.87 L641.48,1026.37 L642.73,1027.86 L643.97,1029.33 L645.22,1030.79 L646.46,1032.23 L647.71,1033.67 L648.96,1035.09 L650.2,1036.51 L651.45,1037.92 L652.7,1039.32 L653.94,1040.72 L655.19,1042.13 L656.43,1043.52 L657.68,1044.92 L658.93,1046.32 L660.17,1047.72 L661.42,1049.11 L662.67,1050.51 L663.91,1051.9 L665.16,1053.29 L666.4,1054.68 L667.65,1056.07 L668.9,1057.45 L670.14,1058.83 L671.39,1060.21 L672.64,1061.58 L673.88,1062.95 L675.13,1064.31 L676.37,1065.67 L677.62,1067.02 L678.87,1068.36 L680.11,1069.69 L681.36,1071.02 L682.61,1072.33 L683.85,1073.62 L685.1,1074.91 L686.34,1076.17 L687.59,1077.42 L688.84,1078.65 L690.08,1079.85 L691.33,1081.03 L692.58,1082.18 L693.82,1083.31 L695.07,1084.4 L696.31,1085.47 L697.56,1086.5 L698.81,1087.51 L700.05,1088.48 L701.3,1089.41 L702.55,1090.32 L703.79,1091.2 L705.04,1092.05 L706.28,1092.87 L707.53,1093.66 L708.78,1094.43 L710.02,1095.18 L711.27,1095.9 L712.52,1096.61 L713.76,1097.3 L715.01,1097.97 L716.25,1098.62 L717.5,1099.27 L718.75,1099.9 L719.99,1100.52 L721.24,1101.13 L722.49,1101.73 L723.73,1102.33 L724.98,1102.91 L726.22,1103.49 L727.47,1104.07 L728.72,1104.64 L729.96,1105.2 L731.21,1105.76 L732.46,1106.31 L733.7,1106.86 L734.95,1107.4 L736.19,1107.94 L737.44,1108.47 L738.69,1109 L739.93,1109.53 L741.18,1110.05 L742.43,1110.57 L743.67,1111.08 L744.92,1111.59 L746.16,1112.09 L747.41,1112.58 L748.66,1113.07 L749.9,1113.55 L751.15,1114.03 L752.4,1114.5 L753.64,1114.96 L754.89,1115.42 L756.13,1115.87 L757.38,1116.31 L758.63,1116.75 L759.87,1117.18 L761.12,1117.6 L762.37,1118.01 L763.61,1118.42 L764.86,1118.82 L766.1,1119.21 L767.35,1119.57"/>
<path stroke="#ff6600" d="M468.5,1150.3 L469.5,1128.79 L470.74,1131.22 L471.99,1133.38 L473.24,1133.94 L474.48,1133.9 L475.73,1133.79 L476.97,1133.68 L478.22,1133.55 L479.47,1133.44 L480.71,1133.35 L481.96,1133.3 L483.21,1133.3 L484.45,1133.37 L485.7,1133.49 L486.94,1133.67 L488.19,1133.87 L489.44,1134.11 L490.68,1134.34 L491.93,1134.57 L493.18,1134.76 L494.42,1134.92 L495.67,1135.05 L496.91,1135.13 L498.16,1135.19 L499.41,1135.21 L500.65,1135.19 L501.9,1135.11 L503.15,1134.95 L504.39,1134.68 L505.64,1134.27 L506.88,1133.7 L508.13,1132.97 L509.38,1132.04 L510.62,1130.94 L511.87,1129.67 L513.12,1128.24 L514.36,1126.66 L515.61,1124.95 L516.85,1123.12 L518.1,1121.19 L519.35,1119.16 L520.59,1117.05 L521.84,1114.87 L523.09,1112.62 L524.33,1110.32 L525.58,1107.97 L526.82,1105.58 L528.07,1103.15 L529.32,1100.7 L530.56,1098.21 L531.81,1095.71 L533.06,1093.17 L534.3,1090.61 L535.55,1088.01 L536.79,1085.37 L538.04,1082.69 L539.29,1079.95 L540.53,1077.14 L541.78,1074.27 L543.03,1071.33 L544.27,1068.32 L545.52,1065.24 L546.76,1062.09 L548.01,1058.9 L549.26,1055.65 L550.5,1052.38 L551.75,1049.08 L553,1045.78 L554.24,1042.49 L555.49,1039.23 L556.73,1036 L557.98,1032.82 L559.23,1029.69 L560.47,1026.63 L561.72,1023.64 L562.97,1020.74 L564.21,1017.94 L565.46,1015.25 L566.7,1012.67 L567.95,1010.2 L569.2,1007.86 L570.44,1005.64 L571.69,1003.54 L572.94,1001.57 L574.18,999.72 L575.43,998 L576.67,996.39 L577.92,994.91 L579.17,993.54 L580.41,992.28 L581.66,991.13 L582.91,990.09 L584.15,989.16 L585.4,988.32 L586.64,987.58 L587.89,986.93 L589.14,986.38 L590.38,985.91 L591.63,985.53 L592.88,985.23 L594.12,985.02 L595.37,984.88 L596.61,984.83 L597.86,984.85 L599.11,984.96 L600.35,985.14 L601.6,985.4 L602.85,985.73 L604.09,986.14 L605.34,986.63 L606.58,987.19 L607.83,987.81 L609.08,988.51 L610.32,989.27 L611.57,990.09 L612.82,990.97 L614.06,991.91 L615.31,992.89 L616.55,993.92 L617.8,994.99 L619.05,996.09 L620.29,997.22 L621.54,998.37 L622.79,999.54 L624.03,1000.72 L625.28,1001.92 L626.52,1003.11 L627.77,1004.31 L629.02,1005.5 L630.26,1006.68 L631.51,1007.86 L632.76,1009.03 L634,1010.19 L635.25,1011.34 L636.49,1012.48 L637.74,1013.61 L638.99,1014.74 L640.23,1015.87 L641.48,1016.99 L642.73,1018.12 L643.97,1019.26 L645.22,1020.41 L646.46,1021.57 L647.71,1022.75 L648.96,1023.95 L650.2,1025.17 L651.45,1026.42 L652.7,1027.7 L653.94,1029 L655.19,1030.34 L656.43,1031.71 L657.68,1033.11 L658.93,1034.53 L660.17,1035.99 L661.42,1037.47 L662.67,1038.97 L663.91,1040.5 L665.16,1042.04 L666.4,1043.59 L667.65,1045.15 L668.9,1046.71 L670.14,1048.28 L671.39,1049.84 L672.64,1051.39 L673.88,1052.93 L675.13,1054.46 L676.37,1055.97 L677.62,1057.46 L678.87,1058.92 L680.11,1060.36 L681.36,1061.78 L682.61,1063.17 L683.85,1064.52 L685.1,1065.85 L686.34,1067.15 L687.59,1068.42 L688.84,1069.66 L690.08,1070.87 L691.33,1072.05 L692.58,1073.2 L693.82,1074.31 L695.07,1075.4 L696.31,1076.45 L697.56,1077.48 L698.81,1078.48 L700.05,1079.45 L701.3,1080.39 L702.55,1081.3 L703.79,1082.19 L705.04,1083.05 L706.28,1083.89 L707.53,1084.71 L708.78,1085.51 L710.02,1086.29 L711.27,1087.05 L712.52,1087.8 L713.76,1088.53 L715.01,1089.25 L716.25,1089.96 L717.5,1090.66 L718.75,1091.36 L719.99,1092.04 L721.24,1092.73 L722.49,1093.4 L723.73,1094.08 L724.98,1094.76 L726.22,1095.43 L727.47,1096.1 L728.72,1096.78 L729.96,1097.46 L731.21,1098.13 L732.46,1098.81 L733.7,1099.49 L734.95,1100.17 L736.19,1100.85 L737.44,1101.54 L738.69,1102.23 L739.93,1102.92 L741.18,1103.61 L742.43,1104.31 L743.67,1105 L744.92,1105.69 L746.16,1106.38 L747.41,1107.07 L748.66,1107.76 L749.9,1108.44 L751.15,1109.12 L752.4,1109.79 L753.64,1110.45 L754.89,1111.11 L756.13,1111.76 L757.38,1112.4 L758.63,1113.04 L759.87,1113.67 L761.12,1114.29 L762.37,1114.89 L763.61,1115.49 L764.86,1116.08 L766.1,1116.66 L767.35,1117.19"/>
<path stroke="#00ff00" d="M468.5,1150.3 L469.5,1135.39 L470.74,1136.19 L471.99,1137.08 L473.24,1137.93 L474.48,1138.6 L475.73,1138.95 L476.97,1139.11 L478.22,1139.19 L479.47,1139.25 L480.71,1139.31 L481.96,1139.36 L483.21,1139.41 L484.45,1139.45 L485.7,1139.49 L486.94,1139.53 L488.19,1139.56 L489.44,1139.58 L490.68,1139.61 L491.93,1139.63 L493.18,1139.64 L494.42,1139.65 L495.67,1139.66 L496.91,1139.66 L498.16,1139.67 L499.41,1139.68 L500.65,1139.71 L501.9,1139.75 L503.15,1139.78 L504.39,1139.78 L505.64,1139.71 L506.88,1139.54 L508.13,1139.22 L509.38,1138.72 L510.62,1138.02 L511.87,1137.09 L513.12,1135.95 L514.36,1134.6 L515.61,1133.05 L516.85,1131.34 L518.1,1129.49 L519.35,1127.51 L520.59,1125.43 L521.84,1123.27 L523.09,1121.04 L524.33,1118.76 L525.58,1116.44 L526.82,1114.09 L528.07,1111.7 L529.32,1109.3 L530.56,1106.87 L531.81,1104.44 L533.06,1101.99 L534.3,1099.54 L535.55,1097.09 L536.79,1094.63 L538.04,1092.18 L539.29,1089.74 L540.53,1087.3 L541.78,1084.86 L543.03,1082.42 L544.27,1079.98 L545.52,1077.54 L546.76,1075.08 L548.01,1072.61 L549.26,1070.11 L550.5,1067.59 L551.75,1065.02 L553,1062.42 L554.24,1059.77 L555.49,1057.07 L556.73,1054.33 L557.98,1051.56 L559.23,1048.77 L560.47,1045.94 L561.72,1043.07 L562.97,1040.18 L564.21,1037.27 L565.46,1034.35 L566.7,1031.43 L567.95,1028.52 L569.2,1025.64 L570.44,1022.79 L571.69,1020 L572.94,1017.26 L574.18,1014.61 L575.43,1012.05 L576.67,1009.6 L577.92,1007.25 L579.17,1005.04 L580.41,1002.95 L581.66,1001 L582.91,999.18 L584.15,997.51 L585.4,995.99 L586.64,994.6 L587.89,993.35 L589.14,992.24 L590.38,991.26 L591.63,990.41 L592.88,989.67 L594.12,989.05 L595.37,988.54 L596.61,988.14 L597.86,987.83 L599.11,987.62 L600.35,987.5 L601.6,987.46 L602.85,987.51 L604.09,987.63 L605.34,987.83 L606.58,988.1 L607.83,988.45 L609.08,988.86 L610.32,989.34 L611.57,989.89 L612.82,990.49 L614.06,991.16 L615.31,991.88 L616.55,992.65 L617.8,993.48 L619.05,994.34 L620.29,995.25 L621.54,996.2 L622.79,997.18 L624.03,998.19 L625.28,999.23 L626.52,1000.3 L627.77,1001.38 L629.02,1002.47 L630.26,1003.58 L631.51,1004.7 L632.76,1005.83 L634,1006.97 L635.25,1008.11 L636.49,1009.26 L637.74,1010.41 L638.99,1011.56 L640.23,1012.73 L641.48,1013.9 L642.73,1015.07 L643.97,1016.26 L645.22,1017.45 L646.46,1018.65 L647.71,1019.87 L648.96,1021.1 L650.2,1022.34 L651.45,1023.6 L652.7,1024.87 L653.94,1026.16 L655.19,1027.46 L656.43,1028.78 L657.68,1030.11 L658.93,1031.46 L660.17,1032.83 L661.42,1034.21 L662.67,1035.6 L663.91,1037 L665.16,1038.41 L666.4,1039.83 L667.65,1041.26 L668.9,1042.69 L670.14,1044.12 L671.39,1045.56 L672.64,1046.99 L673.88,1048.42 L675.13,1049.85 L676.37,1051.27 L677.62,1052.69 L678.87,1054.09 L680.11,1055.49 L681.36,1056.87 L682.61,1058.25 L683.85,1059.6 L685.1,1060.94 L686.34,1062.27 L687.59,1063.57 L688.84,1064.86 L690.08,1066.12 L691.33,1067.36 L692.58,1068.58 L693.82,1069.77 L695.07,1070.94 L696.31,1072.07 L697.56,1073.18 L698.81,1074.27 L700.05,1075.32 L701.3,1076.35 L702.55,1077.35 L703.79,1078.32 L705.04,1079.26 L706.28,1080.18 L707.53,1081.08 L708.78,1081.96 L710.02,1082.81 L711.27,1083.65 L712.52,1084.47 L713.76,1085.27 L715.01,1086.06 L716.25,1086.84 L717.5,1087.61 L718.75,1088.36 L719.99,1089.11 L721.24,1089.86 L722.49,1090.6 L723.73,1091.33 L724.98,1092.07 L726.22,1092.8 L727.47,1093.54 L728.72,1094.27 L729.96,1095.01 L731.21,1095.74 L732.46,1096.48 L733.7,1097.21 L734.95,1097.95 L736.19,1098.7 L737.44,1099.44 L738.69,1100.19 L739.93,1100.94 L741.18,1101.69 L742.43,1102.44 L743.67,1103.19 L744.92,1103.95 L746.16,1104.7 L747.41,1105.45 L748.66,1106.19 L749.9,1106.92 L751.15,1107.64 L752.4,1108.35 L753.64,1109.05 L754.89,1109.72 L756.13,1110.38 L757.38,1111.01 L758.63,1111.63 L759.87,1112.22 L761.12,1112.78 L762.37,1113.32 L763.61,1113.83 L764.86,1114.3 L766.1,1114.74 L767.35,1115.1"/>
<path stroke="#0000ff" d="M468.5,1150.3 L469.5,1138.38 L470.74,1139.04 L471.99,1139.76 L473.24,1140.46 L474.48,1141.06 L475.73,1141.49 L476.97,1141.8 L478.22,1142.05 L479.47,1142.28 L480.71,1142.49 L481.96,1142.68 L483.21,1142.84 L484.45,1142.99 L485.7,1143.12 L486.94,1143.24 L488.19,1143.33 L489.44,1143.42 L490.68,1143.49 L491.93,1143.55 L493.18,1143.6 L494.42,1143.66 L495.67,1143.7 L496.91,1143.75 L498.16,1143.79 L499.41,1143.83 L500.65,1143.87 L501.9,1143.9 L503.15,1143.94 L504.39,1143.98 L505.64,1144.01 L506.88,1144.05 L508.13,1144.08 L509.38,1144.11 L510.62,1144.14 L511.87,1144.16 L513.12,1144.16 L514.36,1144.15 L515.61,1144.12 L516.85,1144.06 L518.1,1143.98 L519.35,1143.87 L520.59,1143.73 L521.84,1143.56 L523.09,1143.36 L524.33,1143.13 L525.58,1142.88 L526.82,1142.59 L528.07,1142.28 L529.32,1141.93 L530.56,1141.55 L531.81,1141.14 L533.06,1140.69 L534.3,1140.2 L535.55,1139.68 L536.79,1139.11 L538.04,1138.5 L539.29,1137.84 L540.53,1137.15 L541.78,1136.41 L543.03,1135.62 L544.27,1134.79 L545.52,1133.92 L546.76,1132.99 L548.01,1132.01 L549.26,1130.98 L550.5,1129.88 L551.75,1128.72 L553,1127.48 L554.24,1126.17 L555.49,1124.77 L556.73,1123.28 L557.98,1121.7 L559.23,1120.03 L560.47,1118.25 L561.72,1116.37 L562.97,1114.38 L564.21,1112.27 L565.46,1110.05 L566.7,1107.71 L567.95,1105.24 L569.2,1102.66 L570.44,1099.95 L571.69,1097.12 L572.94,1094.18 L574.18,1091.14 L575.43,1087.98 L576.67,1084.74 L577.92,1081.4 L579.17,1077.98 L580.41,1074.5 L581.66,1070.95 L582.91,1067.35 L584.15,1063.72 L585.4,1060.05 L586.64,1056.37 L587.89,1052.69 L589.14,1049.01 L590.38,1045.35 L591.63,1041.72 L592.88,1038.12 L594.12,1034.58 L595.37,1031.09 L596.61,1027.66 L597.86,1024.31 L599.11,1021.04 L600.35,1017.86 L601.6,1014.77 L602.85,1011.79 L604.09,1008.9 L605.34,1006.13 L606.58,1003.47 L607.83,1000.93 L609.08,998.52 L610.32,996.24 L611.57,994.08 L612.82,992.07 L614.06,990.19 L615.31,988.46 L616.55,986.86 L617.8,985.42 L619.05,984.12 L620.29,982.96 L621.54,981.96 L622.79,981.09 L624.03,980.36 L625.28,979.78 L626.52,979.32 L627.77,979 L629.02,978.81 L630.26,978.74 L631.51,978.79 L632.76,978.95 L634,979.22 L635.25,979.6 L636.49,980.08 L637.74,980.66 L638.99,981.33 L640.23,982.08 L641.48,982.91 L642.73,983.82 L643.97,984.8 L645.22,985.85 L646.46,986.96 L647.71,988.12 L648.96,989.33 L650.2,990.59 L651.45,991.88 L652.7,993.21 L653.94,994.57 L655.19,995.96 L656.43,997.37 L657.68,998.81 L658.93,1000.26 L660.17,1001.73 L661.42,1003.22 L662.67,1004.72 L663.91,1006.23 L665.16,1007.75 L666.4,1009.28 L667.65,1010.82 L668.9,1012.37 L670.14,1013.94 L671.39,1015.51 L672.64,1017.09 L673.88,1018.69 L675.13,1020.29 L676.37,1021.9 L677.62,1023.53 L678.87,1025.16 L680.11,1026.8 L681.36,1028.45 L682.61,1030.1 L683.85,1031.76 L685.1,1033.42 L686.34,1035.07 L687.59,1036.73 L688.84,1038.37 L690.08,1040.01 L691.33,1041.63 L692.58,1043.24 L693.82,1044.83 L695.07,1046.4 L696.31,1047.94 L697.56,1049.46 L698.81,1050.95 L700.05,1052.42 L701.3,1053.86 L702.55,1055.27 L703.79,1056.65 L705.04,1058 L706.28,1059.33 L707.53,1060.62 L708.78,1061.89 L710.02,1063.14 L711.27,1064.37 L712.52,1065.57 L713.76,1066.75 L715.01,1067.91 L716.25,1069.05 L717.5,1070.18 L718.75,1071.29 L719.99,1072.38 L721.24,1073.46 L722.49,1074.52 L723.73,1075.57 L724.98,1076.61 L726.22,1077.64 L727.47,1078.65 L728.72,1079.66 L729.96,1080.65 L731.21,1081.63 L732.46,1082.6 L733.7,1083.56 L734.95,1084.5 L736.19,1085.44 L737.44,1086.37 L738.69,1087.29 L739.93,1088.2 L741.18,1089.1 L742.43,1089.99 L743.67,1090.87 L744.92,1091.74 L746.16,1092.6 L747.41,1093.45 L748.66,1094.29 L749.9,1095.12 L751.15,1095.94 L752.4,1096.75 L753.64,1097.54 L754.89,1098.31 L756.13,1099.07 L757.38,1099.82 L758.63,1100.54 L759.87,1101.25 L761.12,1101.95 L762.37,1102.62 L763.61,1103.27 L764.86,1103.91 L766.1,1104.52 L767.35,1105.06"/>
<path stroke="#ff0000" d="M468.5,1150.3 L469.5,1139.65 L470.74,1140.34 L471.99,1141.11 L473.24,1141.85 L474.48,1142.44 L475.73,1142.79 L476.97,1142.97 L478.22,1143.09 L479.47,1143.2 L480.71,1143.3 L481.96,1143.39 L483.21,1143.47 L484.45,1143.56 L485.7,1143.63 L486.94,1143.7 L488.19,1143.77 L489.44,1143.82 L490.68,1143.88 L491.93,1143.93 L493.18,1143.97 L494.42,1144.01 L495.67,1144.04 L496.91,1144.07 L498.16,1144.1 L499.41,1144.12 L500.65,1144.13 L501.9,1144.13 L503.15,1144.12 L504.39,1144.09 L505.64,1144.04 L506.88,1143.96 L508.13,1143.87 L509.38,1143.76 L510.62,1143.62 L511.87,1143.48 L513.12,1143.31 L514.36,1143.13 L515.61,1142.94 L516.85,1142.74 L518.1,1142.53 L519.35,1142.31 L520.59,1142.09 L521.84,1141.85 L523.09,1141.59 L524.33,1141.33 L525.58,1141.04 L526.82,1140.73 L528.07,1140.4 L529.32,1140.04 L530.56,1139.65 L531.81,1139.23 L533.06,1138.76 L534.3,1138.26 L535.55,1137.71 L536.79,1137.11 L538.04,1136.47 L539.29,1135.77 L540.53,1135.03 L541.78,1134.23 L543.03,1133.37 L544.27,1132.46 L545.52,1131.49 L546.76,1130.46 L548.01,1129.36 L549.26,1128.2 L550.5,1126.96 L551.75,1125.64 L553,1124.24 L554.24,1122.75 L555.49,1121.18 L556.73,1119.5 L557.98,1117.73 L559.23,1115.87 L560.47,1113.9 L561.72,1111.82 L562.97,1109.64 L564.21,1107.35 L565.46,1104.94 L566.7,1102.43 L567.95,1099.8 L569.2,1097.07 L570.44,1094.23 L571.69,1091.3 L572.94,1088.27 L574.18,1085.16 L575.43,1081.97 L576.67,1078.71 L577.92,1075.39 L579.17,1072.02 L580.41,1068.6 L581.66,1065.16 L582.91,1061.7 L584.15,1058.23 L585.4,1054.76 L586.64,1051.3 L587.89,1047.87 L589.14,1044.47 L590.38,1041.11 L591.63,1037.79 L592.88,1034.54 L594.12,1031.35 L595.37,1028.23 L596.61,1025.2 L597.86,1022.25 L599.11,1019.39 L600.35,1016.63 L601.6,1013.97 L602.85,1011.41 L604.09,1008.97 L605.34,1006.64 L606.58,1004.42 L607.83,1002.33 L609.08,1000.36 L610.32,998.52 L611.57,996.8 L612.82,995.22 L614.06,993.76 L615.31,992.44 L616.55,991.26 L617.8,990.21 L619.05,989.29 L620.29,988.51 L621.54,987.87 L622.79,987.35 L624.03,986.97 L625.28,986.72 L626.52,986.59 L627.77,986.58 L629.02,986.68 L630.26,986.9 L631.51,987.23 L632.76,987.66 L634,988.18 L635.25,988.8 L636.49,989.51 L637.74,990.29 L638.99,991.15 L640.23,992.08 L641.48,993.08 L642.73,994.13 L643.97,995.25 L645.22,996.41 L646.46,997.62 L647.71,998.88 L648.96,1000.17 L650.2,1001.51 L651.45,1002.87 L652.7,1004.27 L653.94,1005.69 L655.19,1007.14 L656.43,1008.62 L657.68,1010.12 L658.93,1011.64 L660.17,1013.17 L661.42,1014.73 L662.67,1016.3 L663.91,1017.88 L665.16,1019.46 L666.4,1021.06 L667.65,1022.66 L668.9,1024.27 L670.14,1025.88 L671.39,1027.49 L672.64,1029.09 L673.88,1030.69 L675.13,1032.28 L676.37,1033.86 L677.62,1035.43 L678.87,1036.99 L680.11,1038.54 L681.36,1040.07 L682.61,1041.58 L683.85,1043.08 L685.1,1044.56 L686.34,1046.02 L687.59,1047.47 L688.84,1048.89 L690.08,1050.29 L691.33,1051.67 L692.58,1053.04 L693.82,1054.38 L695.07,1055.7 L696.31,1056.99 L697.56,1058.27 L698.81,1059.52 L700.05,1060.76 L701.3,1061.97 L702.55,1063.17 L703.79,1064.34 L705.04,1065.5 L706.28,1066.64 L707.53,1067.76 L708.78,1068.86 L710.02,1069.95 L711.27,1071.02 L712.52,1072.07 L713.76,1073.12 L715.01,1074.14 L716.25,1075.16 L717.5,1076.16 L718.75,1077.15 L719.99,1078.13 L721.24,1079.1 L722.49,1080.05 L723.73,1081 L724.98,1081.93 L726.22,1082.85 L727.47,1083.77 L728.72,1084.67 L729.96,1085.57 L731.21,1086.45 L732.46,1087.33 L733.7,1088.2 L734.95,1089.05 L736.19,1089.9 L737.44,1090.74 L738.69,1091.58 L739.93,1092.4 L741.18,1093.22 L742.43,1094.02 L743.67,1094.82 L744.92,1095.61 L746.16,1096.4 L747.41,1097.17 L748.66,1097.94 L749.9,1098.7 L751.15,1099.45 L752.4,1100.18 L753.64,1100.91 L754.89,1101.63 L756.13,1102.33 L757.38,1103.02 L758.63,1103.7 L759.87,1104.37 L761.12,1105.03 L762.37,1105.67 L763.61,1106.29 L764.86,1106.91 L766.1,1107.5 L767.35,1108.04"/>
<path stroke="#000000" d="M468.5,1150.3 L469.5,1140.72 L470.74,1141.59 L471.99,1142.55 L473.24,1143.48 L474.48,1144.23 L475.73,1144.69 L476.97,1144.94 L478.22,1145.12 L479.47,1145.27 L480.71,1145.42 L481.96,1145.56 L483.21,1145.69 L484.45,1145.81 L485.7,1145.92 L486.94,1146.03 L488.19,1146.13 L489.44,1146.22 L490.68,1146.3 L491.93,1146.37 L493.18,1146.44 L494.42,1146.49 L495.67,1146.54 L496.91,1146.59 L498.16,1146.62 L499.41,1146.65 L500.65,1146.67 L501.9,1146.68 L503.15,1146.68 L504.39,1146.67 L505.64,1146.66 L506.88,1146.63 L508.13,1146.59 L509.38,1146.55 L510.62,1146.49 L511.87,1146.43 L513.12,1146.35 L514.36,1146.27 L515.61,1146.18 L516.85,1146.09 L518.1,1145.99 L519.35,1145.89 L520.59,1145.78 L521.84,1145.66 L523.09,1145.54 L524.33,1145.4 L525.58,1145.26 L526.82,1145.1 L528.07,1144.93 L529.32,1144.75 L530.56,1144.55 L531.81,1144.33 L533.06,1144.09 L534.3,1143.84 L535.55,1143.57 L536.79,1143.27 L538.04,1142.96 L539.29,1142.61 L540.53,1142.23 L541.78,1141.81 L543.03,1141.36 L544.27,1140.86 L545.52,1140.32 L546.76,1139.72 L548.01,1139.07 L549.26,1138.37 L550.5,1137.61 L551.75,1136.8 L553,1135.93 L554.24,1135.02 L555.49,1134.06 L556.73,1133.05 L557.98,1132 L559.23,1130.92 L560.47,1129.79 L561.72,1128.62 L562.97,1127.42 L564.21,1126.19 L565.46,1124.93 L566.7,1123.64 L567.95,1122.33 L569.2,1120.99 L570.44,1119.62 L571.69,1118.23 L572.94,1116.82 L574.18,1115.38 L575.43,1113.92 L576.67,1112.42 L577.92,1110.9 L579.17,1109.35 L580.41,1107.76 L581.66,1106.14 L582.91,1104.49 L584.15,1102.8 L585.4,1101.07 L586.64,1099.3 L587.89,1097.5 L589.14,1095.66 L590.38,1093.79 L591.63,1091.88 L592.88,1089.93 L594.12,1087.95 L595.37,1085.94 L596.61,1083.9 L597.86,1081.82 L599.11,1079.72 L600.35,1077.58 L601.6,1075.42 L602.85,1073.23 L604.09,1071.01 L605.34,1068.76 L606.58,1066.5 L607.83,1064.2 L609.08,1061.89 L610.32,1059.56 L611.57,1057.22 L612.82,1054.87 L614.06,1052.52 L615.31,1050.17 L616.55,1047.84 L617.8,1045.52 L619.05,1043.22 L620.29,1040.96 L621.54,1038.75 L622.79,1036.58 L624.03,1034.48 L625.28,1032.44 L626.52,1030.48 L627.77,1028.59 L629.02,1026.79 L630.26,1025.07 L631.51,1023.44 L632.76,1021.91 L634,1020.47 L635.25,1019.12 L636.49,1017.86 L637.74,1016.69 L638.99,1015.61 L640.23,1014.62 L641.48,1013.72 L642.73,1012.9 L643.97,1012.17 L645.22,1011.52 L646.46,1010.95 L647.71,1010.47 L648.96,1010.06 L650.2,1009.73 L651.45,1009.48 L652.7,1009.31 L653.94,1009.22 L655.19,1009.21 L656.43,1009.28 L657.68,1009.44 L658.93,1009.67 L660.17,1009.98 L661.42,1010.38 L662.67,1010.85 L663.91,1011.4 L665.16,1012.03 L666.4,1012.73 L667.65,1013.5 L668.9,1014.35 L670.14,1015.26 L671.39,1016.23 L672.64,1017.26 L673.88,1018.35 L675.13,1019.48 L676.37,1020.66 L677.62,1021.88 L678.87,1023.14 L680.11,1024.43 L681.36,1025.76 L682.61,1027.1 L683.85,1028.47 L685.1,1029.86 L686.34,1031.26 L687.59,1032.67 L688.84,1034.08 L690.08,1035.51 L691.33,1036.93 L692.58,1038.35 L693.82,1039.77 L695.07,1041.17 L696.31,1042.57 L697.56,1043.96 L698.81,1045.33 L700.05,1046.69 L701.3,1048.03 L702.55,1049.36 L703.79,1050.67 L705.04,1051.96 L706.28,1053.23 L707.53,1054.49 L708.78,1055.73 L710.02,1056.96 L711.27,1058.16 L712.52,1059.36 L713.76,1060.53 L715.01,1061.7 L716.25,1062.84 L717.5,1063.97 L718.75,1065.09 L719.99,1066.19 L721.24,1067.28 L722.49,1068.35 L723.73,1069.4 L724.98,1070.44 L726.22,1071.46 L727.47,1072.47 L728.72,1073.46 L729.96,1074.43 L731.21,1075.39 L732.46,1076.33 L733.7,1077.25 L734.95,1078.16 L736.19,1079.05 L737.44,1079.93 L738.69,1080.79 L739.93,1081.63 L741.18,1082.45 L742.43,1083.27 L743.67,1084.06 L744.92,1084.85 L746.16,1085.62 L747.41,1086.38 L748.66,1087.14 L749.9,1087.88 L751.15,1088.62 L752.4,1089.35 L753.64,1090.08 L754.89,1090.81 L756.13,1091.53 L757.38,1092.24 L758.63,1092.96 L759.87,1093.68 L761.12,1094.39 L762.37,1095.11 L763.61,1095.83 L764.86,1096.56 L766.1,1097.28 L767.35,1097.99"/>
<path stroke="#808080" d="M468.5,1150.3 L469.5,1146.04 L470.74,1146.26 L471.99,1146.5 L473.24,1146.75 L474.48,1146.99 L475.73,1147.17 L476.97,1147.28 L478.22,1147.32 L479.47,1147.32 L480.71,1147.29 L481.96,1147.24 L483.21,1147.19 L484.45,1147.12 L485.7,1147.04 L486.94,1146.95 L488.19,1146.85 L489.44,1146.74 L490.68,1146.63 L491.93,1146.52 L493.18,1146.4 L494.42,1146.28 L495.67,1146.15 L496.91,1146.03 L498.16,1145.91 L499.41,1145.79 L500.65,1145.67 L501.9,1145.56 L503.15,1145.45 L504.39,1145.34 L505.64,1145.23 L506.88,1145.12 L508.13,1145.02 L509.38,1144.91 L510.62,1144.8 L511.87,1144.7 L513.12,1144.59 L514.36,1144.48 L515.61,1144.37 L516.85,1144.25 L518.1,1144.14 L519.35,1144.02 L520.59,1143.89 L521.84,1143.76 L523.09,1143.63 L524.33,1143.49 L525.58,1143.34 L526.82,1143.19 L528.07,1143.03 L529.32,1142.86 L530.56,1142.68 L531.81,1142.49 L533.06,1142.29 L534.3,1142.08 L535.55,1141.85 L536.79,1141.6 L538.04,1141.34 L539.29,1141.06 L540.53,1140.75 L541.78,1140.42 L543.03,1140.05 L544.27,1139.66 L545.52,1139.22 L546.76,1138.75 L548.01,1138.25 L549.26,1137.7 L550.5,1137.12 L551.75,1136.5 L553,1135.84 L554.24,1135.15 L555.49,1134.42 L556.73,1133.67 L557.98,1132.89 L559.23,1132.08 L560.47,1131.25 L561.72,1130.39 L562.97,1129.51 L564.21,1128.6 L565.46,1127.68 L566.7,1126.74 L567.95,1125.78 L569.2,1124.8 L570.44,1123.81 L571.69,1122.79 L572.94,1121.76 L574.18,1120.71 L575.43,1119.63 L576.67,1118.53 L577.92,1117.41 L579.17,1116.25 L580.41,1115.06 L581.66,1113.84 L582.91,1112.59 L584.15,1111.3 L585.4,1109.98 L586.64,1108.62 L587.89,1107.22 L589.14,1105.78 L590.38,1104.31 L591.63,1102.81 L592.88,1101.27 L594.12,1099.7 L595.37,1098.11 L596.61,1096.48 L597.86,1094.84 L599.11,1093.17 L600.35,1091.49 L601.6,1089.79 L602.85,1088.08 L604.09,1086.37 L605.34,1084.65 L606.58,1082.93 L607.83,1081.22 L609.08,1079.51 L610.32,1077.82 L611.57,1076.13 L612.82,1074.47 L614.06,1072.83 L615.31,1071.21 L616.55,1069.61 L617.8,1068.05 L619.05,1066.51 L620.29,1065.01 L621.54,1063.54 L622.79,1062.11 L624.03,1060.72 L625.28,1059.38 L626.52,1058.07 L627.77,1056.81 L629.02,1055.6 L630.26,1054.43 L631.51,1053.32 L632.76,1052.26 L634,1051.25 L635.25,1050.3 L636.49,1049.4 L637.74,1048.56 L638.99,1047.78 L640.23,1047.05 L641.48,1046.39 L642.73,1045.79 L643.97,1045.26 L645.22,1044.78 L646.46,1044.38 L647.71,1044.04 L648.96,1043.76 L650.2,1043.56 L651.45,1043.42 L652.7,1043.36 L653.94,1043.36 L655.19,1043.44 L656.43,1043.58 L657.68,1043.8 L658.93,1044.09 L660.17,1044.45 L661.42,1044.87 L662.67,1045.37 L663.91,1045.93 L665.16,1046.55 L666.4,1047.24 L667.65,1047.98 L668.9,1048.79 L670.14,1049.64 L671.39,1050.55 L672.64,1051.51 L673.88,1052.52 L675.13,1053.56 L676.37,1054.65 L677.62,1055.77 L678.87,1056.93 L680.11,1058.11 L681.36,1059.32 L682.61,1060.54 L683.85,1061.79 L685.1,1063.04 L686.34,1064.3 L687.59,1065.57 L688.84,1066.83 L690.08,1068.08 L691.33,1069.32 L692.58,1070.55 L693.82,1071.76 L695.07,1072.94 L696.31,1074.11 L697.56,1075.24 L698.81,1076.34 L700.05,1077.42 L701.3,1078.46 L702.55,1079.47 L703.79,1080.45 L705.04,1081.4 L706.28,1082.32 L707.53,1083.21 L708.78,1084.07 L710.02,1084.91 L711.27,1085.73 L712.52,1086.52 L713.76,1087.3 L715.01,1088.07 L716.25,1088.82 L717.5,1089.56 L718.75,1090.29 L719.99,1091.01 L721.24,1091.73 L722.49,1092.44 L723.73,1093.15 L724.98,1093.87 L726.22,1094.58 L727.47,1095.29 L728.72,1096.01 L729.96,1096.72 L731.21,1097.44 L732.46,1098.16 L733.7,1098.88 L734.95,1099.6 L736.19,1100.33 L737.44,1101.06 L738.69,1101.8 L739.93,1102.53 L741.18,1103.27 L742.43,1104.01 L743.67,1104.76 L744.92,1105.5 L746.16,1106.24 L747.41,1106.98 L748.66,1107.71 L749.9,1108.44 L751.15,1109.16 L752.4,1109.88 L753.64,1110.59 L754.89,1111.29 L756.13,1111.98 L757.38,1112.66 L758.63,1113.33 L759.87,1113.99 L761.12,1114.64 L762.37,1115.27 L763.61,1115.89 L764.86,1116.5 L766.1,1117.08 L767.35,1117.62"/>
</g>
<path d="M468.5,852.2 H767.6 V1150.3 H468.5 Z M468.5,1150.3 v9.5 M468.5,852.2 v-9.5 M480.96,1150.3 v4.5 M480.96,852.2 v-4.5 M493.43,1150.3 v4.5 M493.43,852.2 v-4.5 M505.89,1150.3 v9.5 M505.89,852.2 v-9.5 M518.35,1150.3 v4.5 M518.35,852.2 v-4.5 M530.81,1150.3 v4.5 M530.81,852.2 v-4.5 M543.27,1150.3 v9.5 M543.27,852.2 v-9.5 M555.74,1150.3 v4.5 M555.74,852.2 v-4.5 M568.2,1150.3 v4.5 M568.2,852.2 v-4.5 M580.66,1150.3 v9.5 M580.66,852.2 v-9.5 M593.12,1150.3 v4.5 M593.12,852.2 v-4.5 M605.59,1150.3 v4.5 M605.59,852.2 v-4.5 M618.05,1150.3 v9.5 M618.05,852.2 v-9.5 M630.51,1150.3 v4.5 M630.51,852.2 v-4.5 M642.98,1150.3 v4.5 M642.98,852.2 v-4.5 M655.44,1150.3 v9.5 M655.44,852.2 v-9.5 M667.9,1150.3 v4.5 M667.9,852.2 v-4.5 M680.36,1150.3 v4.5 M680.36,852.2 v-4.5 M692.83,1150.3 v9.5 M692.83,852.2 v-9.5 M705.29,1150.3 v4.5 M705.29,852.2 v-4.5 M717.75,1150.3 v4.5 M717.75,852.2 v-4.5 M730.21,1150.3 v9.5 M730.21,852.2 v-9.5 M742.67,1150.3 v4.5 M742.67,852.2 v-4.5 M755.14,1150.3 v4.5 M755.14,852.2 v-4.5 M767.6,1150.3 v9.5 M767.6,852.2 v-9.5 M468.5,1150.3 h-10 M767.6,1150.3 h10 M468.5,1139.65 h-5 M767.6,1139.65 h5 M468.5,1129.01 h-10 M767.6,1129.01 h10 M468.5,1118.36 h-5 M767.6,1118.36 h5 M468.5,1107.71 h-10 M767.6,1107.71 h10 M468.5,1097.07 h-5 M767.6,1097.07 h5 M468.5,1086.42 h-10 M767.6,1086.42 h10 M468.5,1075.78 h-5 M767.6,1075.78 h5 M468.5,1065.13 h-10 M767.6,1065.13 h10 M468.5,1054.48 h-5 M767.6,1054.48 h5 M468.5,1043.84 h-10 M767.6,1043.84 h10 M468.5,1033.19 h-5 M767.6,1033.19 h5 M468.5,1022.54 h-10 M767.6,1022.54 h10 M468.5,1011.9 h-5 M767.6,1011.9 h5 M468.5,1001.25 h-10 M767.6,1001.25 h10 M468.5,990.6 h-5 M767.6,990.6 h5 M468.5,979.96 h-10 M767.6,979.96 h10 M468.5,969.31 h-5 M767.6,969.31 h5 M468.5,958.66 h-10 M767.6,958.66 h10 M468.5,948.02 h-5 M767.6,948.02 h5 M468.5,937.37 h-10 M767.6,937.37 h10 M468.5,926.73 h-5 M767.6,926.73 h5 M468.5,916.08 h-10 M767.6,916.08 h10 M468.5,905.43 h-5 M767.6,905.43 h5 M468.5,894.79 h-10 M767.6,894.79 h10 M468.5,884.14 h-5 M767.6,884.14 h5 M468.5,873.49 h-10 M767.6,873.49 h10 M468.5,862.85 h-5 M767.6,862.85 h5 M468.5,852.2 h-10 M767.6,852.2 h10" fill="none" stroke="#000" stroke-width="2.5" stroke-linecap="round"/>
<text x="468.5" y="1179.9" text-anchor="middle" class="tl">0</text>
<text x="505.89" y="1179.9" text-anchor="middle" class="tl">3</text>
<text x="543.27" y="1179.9" text-anchor="middle" class="tl">6</text>
<text x="580.66" y="1179.9" text-anchor="middle" class="tl">9</text>
<text x="618.05" y="1179.9" text-anchor="middle" class="tl">12</text>
<text x="655.44" y="1179.9" text-anchor="middle" class="tl">15</text>
<text x="692.83" y="1179.9" text-anchor="middle" class="tl">18</text>
<text x="730.21" y="1179.9" text-anchor="middle" class="tl">21</text>
<text x="767.6" y="1179.9" text-anchor="middle" class="tl">24</text>
<text x="453" y="1155.9" text-anchor="end" class="tl">0</text>
<text x="453" y="1113.31" text-anchor="end" class="tl">2</text>
<text x="453" y="1070.73" text-anchor="end" class="tl">4</text>
<text x="453" y="1028.14" text-anchor="end" class="tl">6</text>
<text x="453" y="985.56" text-anchor="end" class="tl">8</text>
<text x="453" y="942.97" text-anchor="end" class="tl">10</text>
<text x="453" y="900.39" text-anchor="end" class="tl">12</text>
<text x="453" y="857.8" text-anchor="end" class="tl">14</text>
<text x="618.3" y="1198.3" text-anchor="middle" class="at">Time (Hour)</text>
<text transform="translate(426,1108.6) rotate(-90)" class="yt">Heat Flow Rate (mW. g<tspan font-size="9.5" dx="1.5" dy="3.8">Cem</tspan><tspan font-size="9.5" dx="0.5" dy="-9.3">-1</tspan><tspan dx="0.6" dy="5.5">)</tspan></text>
<text x="627.7" y="1231.7" text-anchor="middle" class="pl">(F)</text>
<text x="523.5" y="868.9" text-anchor="middle" class="lg">Cement #7</text>
<text x="523.5" y="887.8" text-anchor="middle" class="lg">MK + F-LS</text>
<path d="M473.5,903.4 H497.8" stroke="#808080" stroke-width="3"/>
<text x="502.3" y="908.7" class="lg">0%</text>
<path d="M473.5,924.39 H497.8" stroke="#000000" stroke-width="3"/>
<text x="502.3" y="929.69" class="lg">10%-10%</text>
<path d="M473.5,945.38 H497.8" stroke="#ff0000" stroke-width="3"/>
<text x="502.3" y="950.68" class="lg">15%-15%</text>
<path d="M473.5,966.37 H497.8" stroke="#0000ff" stroke-width="3"/>
<text x="502.3" y="971.67" class="lg">20%-20%</text>
<path d="M473.5,987.36 H497.8" stroke="#00ff00" stroke-width="3"/>
<text x="502.3" y="992.66" class="lg">25%-25%</text>
<path d="M473.5,1008.35 H497.8" stroke="#ff6600" stroke-width="3"/>
<text x="502.3" y="1013.65" class="lg">30%-30%</text>
<path d="M473.5,1029.34 H497.8" stroke="#8800cc" stroke-width="3"/>
<text x="502.3" y="1034.64" class="lg">20%-10%</text>
<path d="M473.5,1050.33 H497.8" stroke="#ff99cc" stroke-width="3"/>
<text x="502.3" y="1055.63" class="lg">40%-20%</text>
</svg>
</body></html>
